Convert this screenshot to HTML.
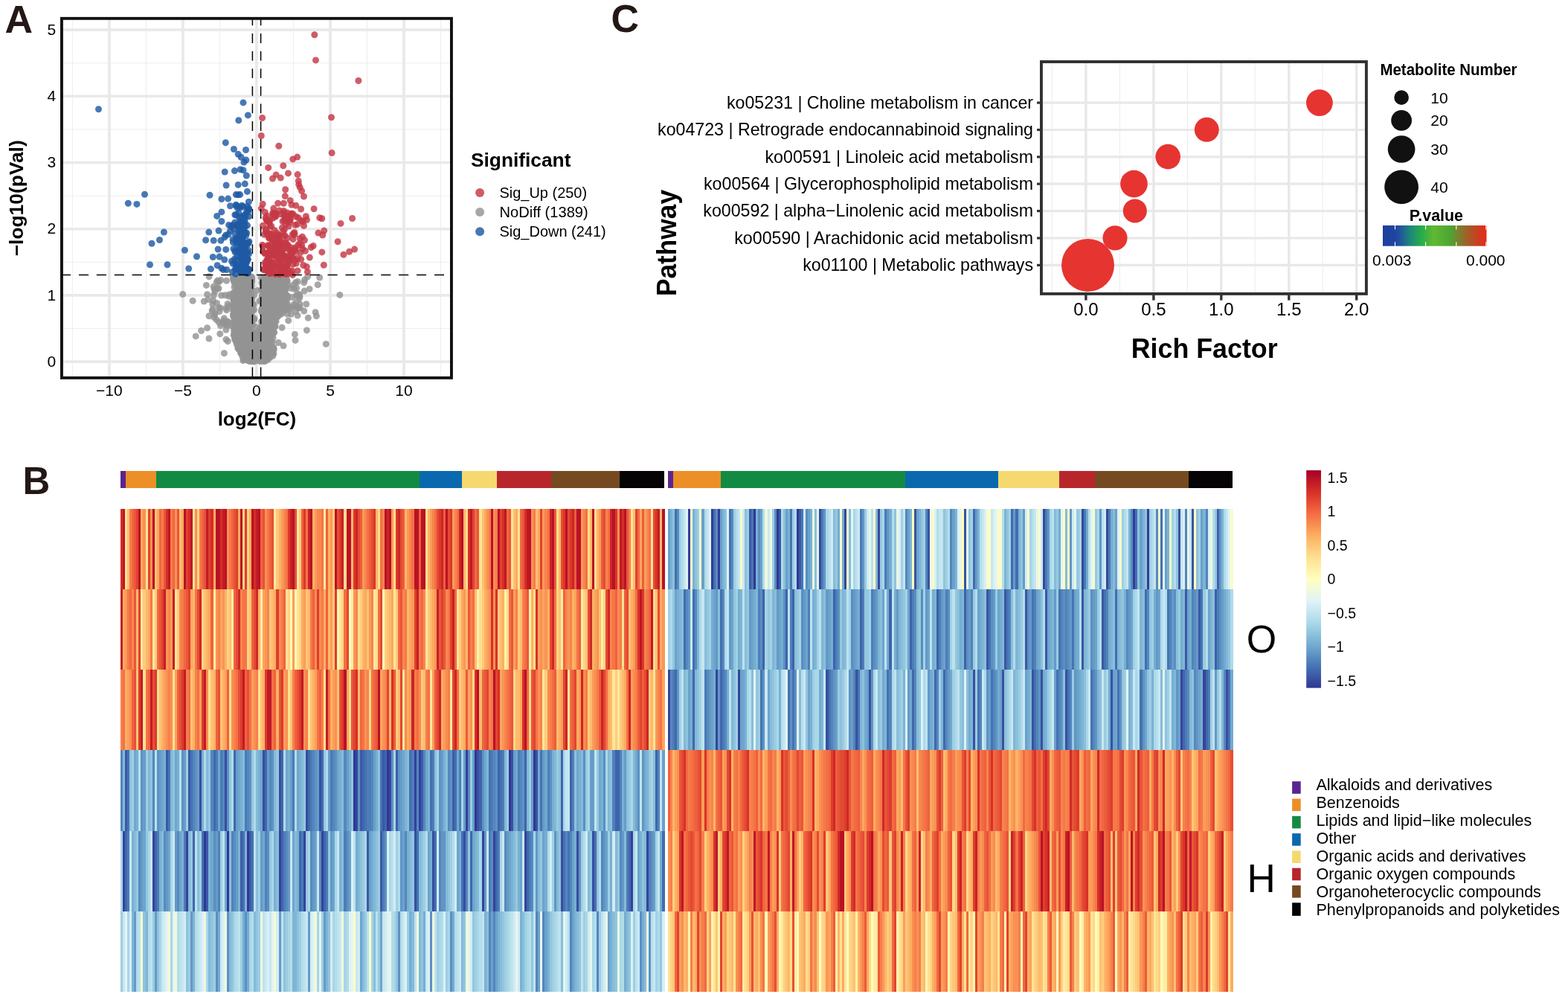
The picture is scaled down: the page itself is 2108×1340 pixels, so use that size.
<!DOCTYPE html>
<html><head><meta charset="utf-8"><title>Figure</title>
<style>html,body{margin:0;padding:0;background:#fff;}body{width:2108px;height:1340px;overflow:hidden;}
svg{display:block;}text{font-family:'Liberation Sans', Arial, sans-serif;}</style></head>
<body><svg width="2108" height="1340" viewBox="0 0 2108 1340">
<rect width="2108" height="1340" fill="#fff"/>
<g id="volcano"><clipPath id="cpA"><rect x="84" y="26" width="522" height="481"/></clipPath><g clip-path="url(#cpA)"><line x1="97.4" y1="26" x2="97.4" y2="507" stroke="#ededed" stroke-width="1"/><line x1="196.4" y1="26" x2="196.4" y2="507" stroke="#ededed" stroke-width="1"/><line x1="295.4" y1="26" x2="295.4" y2="507" stroke="#ededed" stroke-width="1"/><line x1="394.5" y1="26" x2="394.5" y2="507" stroke="#ededed" stroke-width="1"/><line x1="493.5" y1="26" x2="493.5" y2="507" stroke="#ededed" stroke-width="1"/><line x1="592.5" y1="26" x2="592.5" y2="507" stroke="#ededed" stroke-width="1"/><line x1="84" y1="441.5" x2="606" y2="441.5" stroke="#ededed" stroke-width="1"/><line x1="84" y1="352.3" x2="606" y2="352.3" stroke="#ededed" stroke-width="1"/><line x1="84" y1="263.1" x2="606" y2="263.1" stroke="#ededed" stroke-width="1"/><line x1="84" y1="173.9" x2="606" y2="173.9" stroke="#ededed" stroke-width="1"/><line x1="84" y1="84.7" x2="606" y2="84.7" stroke="#ededed" stroke-width="1"/><line x1="146.9" y1="26" x2="146.9" y2="507" stroke="#e9e9e9" stroke-width="3.7"/><line x1="245.9" y1="26" x2="245.9" y2="507" stroke="#e9e9e9" stroke-width="3.7"/><line x1="344.9" y1="26" x2="344.9" y2="507" stroke="#e9e9e9" stroke-width="3.7"/><line x1="444" y1="26" x2="444" y2="507" stroke="#e9e9e9" stroke-width="3.7"/><line x1="543" y1="26" x2="543" y2="507" stroke="#e9e9e9" stroke-width="3.7"/><line x1="84" y1="486.1" x2="606" y2="486.1" stroke="#e9e9e9" stroke-width="3.6"/><line x1="84" y1="396.9" x2="606" y2="396.9" stroke="#e9e9e9" stroke-width="3.6"/><line x1="84" y1="307.7" x2="606" y2="307.7" stroke="#e9e9e9" stroke-width="3.6"/><line x1="84" y1="218.5" x2="606" y2="218.5" stroke="#e9e9e9" stroke-width="3.6"/><line x1="84" y1="129.3" x2="606" y2="129.3" stroke="#e9e9e9" stroke-width="3.6"/><line x1="84" y1="40.1" x2="606" y2="40.1" stroke="#e9e9e9" stroke-width="3.6"/><g fill="#949494" fill-opacity="0.82"><circle cx="336.3" cy="389.3" r="4.5"/><circle cx="360.8" cy="380.3" r="4.5"/><circle cx="352.2" cy="414.1" r="4.5"/><circle cx="316.3" cy="430.4" r="4.5"/><circle cx="314.8" cy="421.9" r="4.5"/><circle cx="317.2" cy="382.4" r="4.5"/><circle cx="343.8" cy="467.1" r="4.5"/><circle cx="321.3" cy="397.7" r="4.5"/><circle cx="359.1" cy="481.0" r="4.5"/><circle cx="355.3" cy="417.6" r="4.5"/><circle cx="385.2" cy="377.4" r="4.5"/><circle cx="376.4" cy="405.3" r="4.5"/><circle cx="322.8" cy="385.5" r="4.5"/><circle cx="335.1" cy="465.9" r="4.5"/><circle cx="325.6" cy="438.9" r="4.5"/><circle cx="359.9" cy="414.8" r="4.5"/><circle cx="353.1" cy="379.2" r="4.5"/><circle cx="316.5" cy="395.7" r="4.5"/><circle cx="363.0" cy="421.2" r="4.5"/><circle cx="335.6" cy="439.3" r="4.5"/><circle cx="364.4" cy="400.1" r="4.5"/><circle cx="355.1" cy="432.4" r="4.5"/><circle cx="333.6" cy="484.7" r="4.5"/><circle cx="320.9" cy="420.1" r="4.5"/><circle cx="368.8" cy="389.5" r="4.5"/><circle cx="369.3" cy="437.9" r="4.5"/><circle cx="377.7" cy="408.1" r="4.5"/><circle cx="364.1" cy="440.4" r="4.5"/><circle cx="355.5" cy="424.5" r="4.5"/><circle cx="347.6" cy="448.4" r="4.5"/><circle cx="316.6" cy="452.7" r="4.5"/><circle cx="373.6" cy="404.7" r="4.5"/><circle cx="340.9" cy="448.9" r="4.5"/><circle cx="313.7" cy="425.1" r="4.5"/><circle cx="324.6" cy="385.5" r="4.5"/><circle cx="321.7" cy="400.5" r="4.5"/><circle cx="341.3" cy="472.2" r="4.5"/><circle cx="318.0" cy="423.7" r="4.5"/><circle cx="353.2" cy="473.6" r="4.5"/><circle cx="332.9" cy="419.8" r="4.5"/><circle cx="338.9" cy="473.7" r="4.5"/><circle cx="383.8" cy="389.4" r="4.5"/><circle cx="325.2" cy="398.7" r="4.5"/><circle cx="329.5" cy="427.8" r="4.5"/><circle cx="356.2" cy="402.2" r="4.5"/><circle cx="339.7" cy="437.1" r="4.5"/><circle cx="363.8" cy="431.3" r="4.5"/><circle cx="358.3" cy="449.8" r="4.5"/><circle cx="371.8" cy="417.1" r="4.5"/><circle cx="316.7" cy="379.7" r="4.5"/><circle cx="327.7" cy="390.7" r="4.5"/><circle cx="337.5" cy="378.0" r="4.5"/><circle cx="319.6" cy="413.8" r="4.5"/><circle cx="358.1" cy="389.1" r="4.5"/><circle cx="330.9" cy="411.9" r="4.5"/><circle cx="337.7" cy="402.4" r="4.5"/><circle cx="374.2" cy="390.6" r="4.5"/><circle cx="351.6" cy="388.9" r="4.5"/><circle cx="352.7" cy="375.1" r="4.5"/><circle cx="351.6" cy="484.5" r="4.5"/><circle cx="331.6" cy="414.2" r="4.5"/><circle cx="324.5" cy="460.8" r="4.5"/><circle cx="351.9" cy="461.6" r="4.5"/><circle cx="336.7" cy="397.6" r="4.5"/><circle cx="329.0" cy="431.5" r="4.5"/><circle cx="338.7" cy="375.3" r="4.5"/><circle cx="314.1" cy="404.1" r="4.5"/><circle cx="331.4" cy="451.6" r="4.5"/><circle cx="383.6" cy="413.9" r="4.5"/><circle cx="328.5" cy="398.1" r="4.5"/><circle cx="326.8" cy="395.5" r="4.5"/><circle cx="358.8" cy="475.5" r="4.5"/><circle cx="361.0" cy="464.0" r="4.5"/><circle cx="318.4" cy="448.0" r="4.5"/><circle cx="368.3" cy="427.0" r="4.5"/><circle cx="325.4" cy="462.8" r="4.5"/><circle cx="336.9" cy="464.1" r="4.5"/><circle cx="342.1" cy="480.9" r="4.5"/><circle cx="366.4" cy="391.6" r="4.5"/><circle cx="321.5" cy="389.4" r="4.5"/><circle cx="323.0" cy="467.0" r="4.5"/><circle cx="338.3" cy="435.1" r="4.5"/><circle cx="321.8" cy="373.6" r="4.5"/><circle cx="351.5" cy="479.4" r="4.5"/><circle cx="344.5" cy="472.3" r="4.5"/><circle cx="374.0" cy="396.3" r="4.5"/><circle cx="330.9" cy="405.7" r="4.5"/><circle cx="330.0" cy="439.4" r="4.5"/><circle cx="331.5" cy="420.2" r="4.5"/><circle cx="338.5" cy="424.7" r="4.5"/><circle cx="355.8" cy="476.0" r="4.5"/><circle cx="343.5" cy="477.5" r="4.5"/><circle cx="313.4" cy="422.6" r="4.5"/><circle cx="325.7" cy="372.5" r="4.5"/><circle cx="371.9" cy="391.8" r="4.5"/><circle cx="347.5" cy="455.4" r="4.5"/><circle cx="353.7" cy="409.5" r="4.5"/><circle cx="320.0" cy="436.4" r="4.5"/><circle cx="330.6" cy="403.8" r="4.5"/><circle cx="369.9" cy="430.4" r="4.5"/><circle cx="354.1" cy="459.4" r="4.5"/><circle cx="357.9" cy="430.1" r="4.5"/><circle cx="350.4" cy="451.7" r="4.5"/><circle cx="331.5" cy="436.3" r="4.5"/><circle cx="322.3" cy="386.0" r="4.5"/><circle cx="317.5" cy="449.0" r="4.5"/><circle cx="323.6" cy="454.4" r="4.5"/><circle cx="361.5" cy="388.4" r="4.5"/><circle cx="328.5" cy="481.5" r="4.5"/><circle cx="341.9" cy="428.0" r="4.5"/><circle cx="374.4" cy="390.6" r="4.5"/><circle cx="326.7" cy="408.6" r="4.5"/><circle cx="366.2" cy="374.2" r="4.5"/><circle cx="353.6" cy="422.7" r="4.5"/><circle cx="313.4" cy="410.1" r="4.5"/><circle cx="358.8" cy="430.9" r="4.5"/><circle cx="319.9" cy="402.5" r="4.5"/><circle cx="332.3" cy="386.9" r="4.5"/><circle cx="343.7" cy="476.8" r="4.5"/><circle cx="373.4" cy="401.7" r="4.5"/><circle cx="354.8" cy="452.5" r="4.5"/><circle cx="318.7" cy="378.6" r="4.5"/><circle cx="363.6" cy="420.9" r="4.5"/><circle cx="359.6" cy="464.2" r="4.5"/><circle cx="381.5" cy="402.8" r="4.5"/><circle cx="321.7" cy="432.6" r="4.5"/><circle cx="329.9" cy="384.6" r="4.5"/><circle cx="324.1" cy="377.8" r="4.5"/><circle cx="327.1" cy="407.9" r="4.5"/><circle cx="334.9" cy="459.3" r="4.5"/><circle cx="333.7" cy="429.5" r="4.5"/><circle cx="325.3" cy="411.9" r="4.5"/><circle cx="313.4" cy="400.8" r="4.5"/><circle cx="353.3" cy="393.8" r="4.5"/><circle cx="347.6" cy="479.5" r="4.5"/><circle cx="320.0" cy="466.2" r="4.5"/><circle cx="385.7" cy="411.4" r="4.5"/><circle cx="359.7" cy="418.5" r="4.5"/><circle cx="338.1" cy="378.3" r="4.5"/><circle cx="321.7" cy="380.1" r="4.5"/><circle cx="367.6" cy="401.4" r="4.5"/><circle cx="324.2" cy="381.7" r="4.5"/><circle cx="362.3" cy="404.4" r="4.5"/><circle cx="330.2" cy="405.7" r="4.5"/><circle cx="331.7" cy="482.6" r="4.5"/><circle cx="330.3" cy="483.1" r="4.5"/><circle cx="335.2" cy="413.0" r="4.5"/><circle cx="318.7" cy="417.9" r="4.5"/><circle cx="315.1" cy="374.6" r="4.5"/><circle cx="334.8" cy="398.8" r="4.5"/><circle cx="355.9" cy="432.9" r="4.5"/><circle cx="368.3" cy="447.6" r="4.5"/><circle cx="365.7" cy="473.1" r="4.5"/><circle cx="341.2" cy="409.5" r="4.5"/><circle cx="323.2" cy="455.3" r="4.5"/><circle cx="360.2" cy="377.0" r="4.5"/><circle cx="359.0" cy="456.4" r="4.5"/><circle cx="372.9" cy="388.0" r="4.5"/><circle cx="355.8" cy="474.7" r="4.5"/><circle cx="363.2" cy="451.7" r="4.5"/><circle cx="329.2" cy="375.6" r="4.5"/><circle cx="322.0" cy="413.5" r="4.5"/><circle cx="319.9" cy="468.1" r="4.5"/><circle cx="353.9" cy="444.2" r="4.5"/><circle cx="359.0" cy="450.3" r="4.5"/><circle cx="368.1" cy="429.8" r="4.5"/><circle cx="352.1" cy="447.8" r="4.5"/><circle cx="317.0" cy="456.7" r="4.5"/><circle cx="330.9" cy="380.6" r="4.5"/><circle cx="331.9" cy="455.9" r="4.5"/><circle cx="327.4" cy="457.1" r="4.5"/><circle cx="360.2" cy="380.9" r="4.5"/><circle cx="323.1" cy="401.2" r="4.5"/><circle cx="367.7" cy="407.0" r="4.5"/><circle cx="354.6" cy="373.4" r="4.5"/><circle cx="316.5" cy="402.9" r="4.5"/><circle cx="362.4" cy="451.6" r="4.5"/><circle cx="362.7" cy="405.4" r="4.5"/><circle cx="326.9" cy="484.5" r="4.5"/><circle cx="382.2" cy="374.0" r="4.5"/><circle cx="346.4" cy="466.3" r="4.5"/><circle cx="332.1" cy="396.1" r="4.5"/><circle cx="382.9" cy="396.2" r="4.5"/><circle cx="355.6" cy="388.3" r="4.5"/><circle cx="351.3" cy="481.6" r="4.5"/><circle cx="321.9" cy="466.3" r="4.5"/><circle cx="350.2" cy="474.0" r="4.5"/><circle cx="364.8" cy="398.6" r="4.5"/><circle cx="313.9" cy="372.4" r="4.5"/><circle cx="322.6" cy="411.6" r="4.5"/><circle cx="335.7" cy="468.6" r="4.5"/><circle cx="374.9" cy="385.8" r="4.5"/><circle cx="379.6" cy="405.3" r="4.5"/><circle cx="339.9" cy="417.2" r="4.5"/><circle cx="356.2" cy="413.5" r="4.5"/><circle cx="333.4" cy="479.6" r="4.5"/><circle cx="330.7" cy="402.6" r="4.5"/><circle cx="353.2" cy="454.8" r="4.5"/><circle cx="315.7" cy="456.2" r="4.5"/><circle cx="345.8" cy="458.6" r="4.5"/><circle cx="360.3" cy="404.9" r="4.5"/><circle cx="321.5" cy="426.3" r="4.5"/><circle cx="337.8" cy="406.2" r="4.5"/><circle cx="331.5" cy="447.4" r="4.5"/><circle cx="334.6" cy="436.1" r="4.5"/><circle cx="327.6" cy="476.2" r="4.5"/><circle cx="322.5" cy="394.1" r="4.5"/><circle cx="318.8" cy="411.3" r="4.5"/><circle cx="318.8" cy="399.5" r="4.5"/><circle cx="331.4" cy="437.5" r="4.5"/><circle cx="332.8" cy="483.3" r="4.5"/><circle cx="321.4" cy="429.9" r="4.5"/><circle cx="359.2" cy="471.2" r="4.5"/><circle cx="328.2" cy="403.2" r="4.5"/><circle cx="330.6" cy="418.0" r="4.5"/><circle cx="345.4" cy="481.7" r="4.5"/><circle cx="313.6" cy="375.7" r="4.5"/><circle cx="365.2" cy="475.0" r="4.5"/><circle cx="341.4" cy="478.6" r="4.5"/><circle cx="384.9" cy="400.6" r="4.5"/><circle cx="320.2" cy="389.8" r="4.5"/><circle cx="351.2" cy="450.4" r="4.5"/><circle cx="360.6" cy="460.0" r="4.5"/><circle cx="370.7" cy="398.7" r="4.5"/><circle cx="334.8" cy="386.7" r="4.5"/><circle cx="330.9" cy="445.2" r="4.5"/><circle cx="364.4" cy="384.9" r="4.5"/><circle cx="317.3" cy="432.3" r="4.5"/><circle cx="355.7" cy="416.6" r="4.5"/><circle cx="328.8" cy="441.1" r="4.5"/><circle cx="346.6" cy="482.3" r="4.5"/><circle cx="360.3" cy="473.6" r="4.5"/><circle cx="335.1" cy="374.5" r="4.5"/><circle cx="349.4" cy="449.6" r="4.5"/><circle cx="381.4" cy="398.1" r="4.5"/><circle cx="314.6" cy="410.9" r="4.5"/><circle cx="343.5" cy="450.5" r="4.5"/><circle cx="326.9" cy="463.7" r="4.5"/><circle cx="367.4" cy="430.1" r="4.5"/><circle cx="327.4" cy="483.5" r="4.5"/><circle cx="335.4" cy="466.3" r="4.5"/><circle cx="329.3" cy="397.5" r="4.5"/><circle cx="369.0" cy="405.9" r="4.5"/><circle cx="326.0" cy="397.7" r="4.5"/><circle cx="343.3" cy="448.5" r="4.5"/><circle cx="383.2" cy="388.8" r="4.5"/><circle cx="341.5" cy="396.5" r="4.5"/><circle cx="322.6" cy="378.0" r="4.5"/><circle cx="316.5" cy="417.2" r="4.5"/><circle cx="381.9" cy="409.9" r="4.5"/><circle cx="325.9" cy="479.6" r="4.5"/><circle cx="368.0" cy="375.7" r="4.5"/><circle cx="361.8" cy="415.5" r="4.5"/><circle cx="338.4" cy="481.9" r="4.5"/><circle cx="327.6" cy="413.0" r="4.5"/><circle cx="340.0" cy="477.7" r="4.5"/><circle cx="326.5" cy="413.9" r="4.5"/><circle cx="379.3" cy="375.5" r="4.5"/><circle cx="342.8" cy="465.4" r="4.5"/><circle cx="369.5" cy="376.7" r="4.5"/><circle cx="314.6" cy="379.2" r="4.5"/><circle cx="381.0" cy="401.6" r="4.5"/><circle cx="368.0" cy="475.3" r="4.5"/><circle cx="337.4" cy="403.3" r="4.5"/><circle cx="331.7" cy="454.4" r="4.5"/><circle cx="335.7" cy="403.7" r="4.5"/><circle cx="382.7" cy="374.8" r="4.5"/><circle cx="329.5" cy="426.6" r="4.5"/><circle cx="349.0" cy="478.7" r="4.5"/><circle cx="325.7" cy="464.3" r="4.5"/><circle cx="367.4" cy="466.6" r="4.5"/><circle cx="336.6" cy="408.7" r="4.5"/><circle cx="339.1" cy="462.0" r="4.5"/><circle cx="317.9" cy="394.7" r="4.5"/><circle cx="368.5" cy="400.4" r="4.5"/><circle cx="316.9" cy="375.9" r="4.5"/><circle cx="353.4" cy="409.5" r="4.5"/><circle cx="386.1" cy="402.5" r="4.5"/><circle cx="318.3" cy="383.1" r="4.5"/><circle cx="349.4" cy="453.6" r="4.5"/><circle cx="358.5" cy="449.5" r="4.5"/><circle cx="368.1" cy="469.4" r="4.5"/><circle cx="361.8" cy="385.9" r="4.5"/><circle cx="375.1" cy="405.8" r="4.5"/><circle cx="354.5" cy="414.9" r="4.5"/><circle cx="367.4" cy="394.9" r="4.5"/><circle cx="330.6" cy="400.2" r="4.5"/><circle cx="323.5" cy="473.7" r="4.5"/><circle cx="355.4" cy="409.5" r="4.5"/><circle cx="341.7" cy="486.1" r="4.5"/><circle cx="319.7" cy="426.6" r="4.5"/><circle cx="380.6" cy="376.6" r="4.5"/><circle cx="334.0" cy="385.7" r="4.5"/><circle cx="355.7" cy="479.0" r="4.5"/><circle cx="339.9" cy="471.6" r="4.5"/><circle cx="382.9" cy="384.2" r="4.5"/><circle cx="356.7" cy="443.3" r="4.5"/><circle cx="328.3" cy="414.4" r="4.5"/><circle cx="322.6" cy="395.5" r="4.5"/><circle cx="331.1" cy="440.9" r="4.5"/><circle cx="360.9" cy="395.4" r="4.5"/><circle cx="362.9" cy="393.3" r="4.5"/><circle cx="335.4" cy="395.4" r="4.5"/><circle cx="316.7" cy="383.7" r="4.5"/><circle cx="318.8" cy="390.8" r="4.5"/><circle cx="364.2" cy="419.1" r="4.5"/><circle cx="333.2" cy="407.4" r="4.5"/><circle cx="383.5" cy="407.9" r="4.5"/><circle cx="354.5" cy="413.1" r="4.5"/><circle cx="343.2" cy="471.4" r="4.5"/><circle cx="386.7" cy="413.8" r="4.5"/><circle cx="326.8" cy="455.7" r="4.5"/><circle cx="327.3" cy="372.7" r="4.5"/><circle cx="379.6" cy="420.7" r="4.5"/><circle cx="373.5" cy="418.7" r="4.5"/><circle cx="324.2" cy="373.7" r="4.5"/><circle cx="353.4" cy="445.7" r="4.5"/><circle cx="380.2" cy="382.2" r="4.5"/><circle cx="358.7" cy="414.6" r="4.5"/><circle cx="351.1" cy="478.4" r="4.5"/><circle cx="320.2" cy="428.4" r="4.5"/><circle cx="326.8" cy="386.6" r="4.5"/><circle cx="341.1" cy="476.0" r="4.5"/><circle cx="358.5" cy="466.8" r="4.5"/><circle cx="324.0" cy="462.4" r="4.5"/><circle cx="328.7" cy="418.5" r="4.5"/><circle cx="325.7" cy="397.1" r="4.5"/><circle cx="321.2" cy="400.4" r="4.5"/><circle cx="366.4" cy="475.2" r="4.5"/><circle cx="315.1" cy="436.7" r="4.5"/><circle cx="368.8" cy="376.4" r="4.5"/><circle cx="374.9" cy="385.5" r="4.5"/><circle cx="357.0" cy="435.3" r="4.5"/><circle cx="359.0" cy="407.2" r="4.5"/><circle cx="361.4" cy="423.4" r="4.5"/><circle cx="370.5" cy="424.7" r="4.5"/><circle cx="325.5" cy="426.4" r="4.5"/><circle cx="320.0" cy="386.8" r="4.5"/><circle cx="318.2" cy="456.4" r="4.5"/><circle cx="370.3" cy="430.8" r="4.5"/><circle cx="316.1" cy="430.0" r="4.5"/><circle cx="340.3" cy="481.3" r="4.5"/><circle cx="322.2" cy="470.6" r="4.5"/><circle cx="373.1" cy="394.3" r="4.5"/><circle cx="324.4" cy="462.7" r="4.5"/><circle cx="381.8" cy="379.5" r="4.5"/><circle cx="338.3" cy="459.0" r="4.5"/><circle cx="323.9" cy="475.1" r="4.5"/><circle cx="332.6" cy="465.8" r="4.5"/><circle cx="322.8" cy="429.8" r="4.5"/><circle cx="381.0" cy="396.0" r="4.5"/><circle cx="331.7" cy="430.2" r="4.5"/><circle cx="335.9" cy="376.2" r="4.5"/><circle cx="325.7" cy="390.5" r="4.5"/><circle cx="379.2" cy="391.4" r="4.5"/><circle cx="370.9" cy="385.2" r="4.5"/><circle cx="351.8" cy="445.2" r="4.5"/><circle cx="339.0" cy="472.4" r="4.5"/><circle cx="353.6" cy="438.7" r="4.5"/><circle cx="378.2" cy="384.0" r="4.5"/><circle cx="341.6" cy="463.7" r="4.5"/><circle cx="355.3" cy="413.4" r="4.5"/><circle cx="369.3" cy="422.9" r="4.5"/><circle cx="325.3" cy="457.5" r="4.5"/><circle cx="331.0" cy="445.5" r="4.5"/><circle cx="361.8" cy="408.0" r="4.5"/><circle cx="323.2" cy="442.8" r="4.5"/><circle cx="321.9" cy="398.1" r="4.5"/><circle cx="361.0" cy="374.6" r="4.5"/><circle cx="320.0" cy="413.1" r="4.5"/><circle cx="328.8" cy="439.1" r="4.5"/><circle cx="356.2" cy="395.5" r="4.5"/><circle cx="358.8" cy="426.6" r="4.5"/><circle cx="330.3" cy="389.2" r="4.5"/><circle cx="319.2" cy="445.4" r="4.5"/><circle cx="360.4" cy="436.7" r="4.5"/><circle cx="338.3" cy="446.2" r="4.5"/><circle cx="345.3" cy="479.8" r="4.5"/><circle cx="367.0" cy="400.6" r="4.5"/><circle cx="379.8" cy="377.1" r="4.5"/><circle cx="351.9" cy="418.7" r="4.5"/><circle cx="329.8" cy="378.7" r="4.5"/><circle cx="370.4" cy="373.4" r="4.5"/><circle cx="353.3" cy="480.2" r="4.5"/><circle cx="322.7" cy="394.9" r="4.5"/><circle cx="357.6" cy="430.3" r="4.5"/><circle cx="360.1" cy="465.5" r="4.5"/><circle cx="325.1" cy="407.6" r="4.5"/><circle cx="334.5" cy="377.6" r="4.5"/><circle cx="365.7" cy="372.7" r="4.5"/><circle cx="346.9" cy="457.3" r="4.5"/><circle cx="329.4" cy="376.5" r="4.5"/><circle cx="337.2" cy="458.2" r="4.5"/><circle cx="364.1" cy="469.2" r="4.5"/><circle cx="365.4" cy="402.6" r="4.5"/><circle cx="353.5" cy="422.1" r="4.5"/><circle cx="371.1" cy="432.2" r="4.5"/><circle cx="331.9" cy="445.8" r="4.5"/><circle cx="384.4" cy="397.0" r="4.5"/><circle cx="378.0" cy="373.8" r="4.5"/><circle cx="331.5" cy="399.2" r="4.5"/><circle cx="368.0" cy="409.6" r="4.5"/><circle cx="378.0" cy="409.8" r="4.5"/><circle cx="329.9" cy="476.4" r="4.5"/><circle cx="359.3" cy="451.7" r="4.5"/><circle cx="347.2" cy="468.6" r="4.5"/><circle cx="364.3" cy="470.6" r="4.5"/><circle cx="344.8" cy="455.3" r="4.5"/><circle cx="354.8" cy="407.4" r="4.5"/><circle cx="327.9" cy="443.6" r="4.5"/><circle cx="322.8" cy="375.1" r="4.5"/><circle cx="337.9" cy="388.3" r="4.5"/><circle cx="314.2" cy="376.8" r="4.5"/><circle cx="363.9" cy="444.9" r="4.5"/><circle cx="364.3" cy="456.7" r="4.5"/><circle cx="316.9" cy="439.9" r="4.5"/><circle cx="339.3" cy="466.0" r="4.5"/><circle cx="320.0" cy="395.7" r="4.5"/><circle cx="320.4" cy="376.0" r="4.5"/><circle cx="359.6" cy="466.9" r="4.5"/><circle cx="359.4" cy="405.0" r="4.5"/><circle cx="319.5" cy="383.3" r="4.5"/><circle cx="368.8" cy="395.6" r="4.5"/><circle cx="335.9" cy="420.7" r="4.5"/><circle cx="313.6" cy="401.5" r="4.5"/><circle cx="333.2" cy="454.3" r="4.5"/><circle cx="339.6" cy="408.9" r="4.5"/><circle cx="349.8" cy="469.9" r="4.5"/><circle cx="358.4" cy="375.6" r="4.5"/><circle cx="338.0" cy="453.0" r="4.5"/><circle cx="352.3" cy="396.9" r="4.5"/><circle cx="376.7" cy="382.5" r="4.5"/><circle cx="373.5" cy="391.6" r="4.5"/><circle cx="348.9" cy="463.6" r="4.5"/><circle cx="325.8" cy="428.9" r="4.5"/><circle cx="338.0" cy="467.7" r="4.5"/><circle cx="331.5" cy="480.5" r="4.5"/><circle cx="333.3" cy="396.7" r="4.5"/><circle cx="364.5" cy="429.3" r="4.5"/><circle cx="320.2" cy="445.2" r="4.5"/><circle cx="318.1" cy="462.6" r="4.5"/><circle cx="364.3" cy="462.5" r="4.5"/><circle cx="359.1" cy="412.9" r="4.5"/><circle cx="313.9" cy="395.7" r="4.5"/><circle cx="331.7" cy="475.6" r="4.5"/><circle cx="329.5" cy="425.0" r="4.5"/><circle cx="351.9" cy="458.8" r="4.5"/><circle cx="368.5" cy="446.3" r="4.5"/><circle cx="338.1" cy="409.6" r="4.5"/><circle cx="323.6" cy="469.0" r="4.5"/><circle cx="361.7" cy="457.3" r="4.5"/><circle cx="324.7" cy="422.5" r="4.5"/><circle cx="370.0" cy="438.6" r="4.5"/><circle cx="321.5" cy="425.1" r="4.5"/><circle cx="378.4" cy="399.4" r="4.5"/><circle cx="326.4" cy="406.7" r="4.5"/><circle cx="364.7" cy="469.0" r="4.5"/><circle cx="323.6" cy="389.9" r="4.5"/><circle cx="330.6" cy="409.6" r="4.5"/><circle cx="366.7" cy="383.7" r="4.5"/><circle cx="384.2" cy="383.7" r="4.5"/><circle cx="340.8" cy="485.1" r="4.5"/><circle cx="320.0" cy="395.7" r="4.5"/><circle cx="349.5" cy="444.7" r="4.5"/><circle cx="342.4" cy="457.2" r="4.5"/><circle cx="355.0" cy="458.1" r="4.5"/><circle cx="364.5" cy="470.0" r="4.5"/><circle cx="363.0" cy="445.8" r="4.5"/><circle cx="319.3" cy="420.3" r="4.5"/><circle cx="359.2" cy="400.8" r="4.5"/><circle cx="342.7" cy="449.7" r="4.5"/><circle cx="381.8" cy="393.1" r="4.5"/><circle cx="361.1" cy="461.5" r="4.5"/><circle cx="341.2" cy="428.3" r="4.5"/><circle cx="314.9" cy="434.5" r="4.5"/><circle cx="324.1" cy="461.9" r="4.5"/><circle cx="319.6" cy="438.1" r="4.5"/><circle cx="352.6" cy="454.5" r="4.5"/><circle cx="350.4" cy="445.5" r="4.5"/><circle cx="342.8" cy="481.0" r="4.5"/><circle cx="327.8" cy="450.7" r="4.5"/><circle cx="341.4" cy="459.7" r="4.5"/><circle cx="338.7" cy="378.5" r="4.5"/><circle cx="332.6" cy="418.0" r="4.5"/><circle cx="343.5" cy="452.3" r="4.5"/><circle cx="338.4" cy="402.5" r="4.5"/><circle cx="328.8" cy="457.3" r="4.5"/><circle cx="328.4" cy="464.2" r="4.5"/><circle cx="359.6" cy="426.0" r="4.5"/><circle cx="354.2" cy="398.0" r="4.5"/><circle cx="384.3" cy="412.6" r="4.5"/><circle cx="359.9" cy="466.2" r="4.5"/><circle cx="373.2" cy="425.8" r="4.5"/><circle cx="334.1" cy="435.1" r="4.5"/><circle cx="321.4" cy="467.9" r="4.5"/><circle cx="338.6" cy="469.8" r="4.5"/><circle cx="332.1" cy="415.3" r="4.5"/><circle cx="331.0" cy="421.0" r="4.5"/><circle cx="325.9" cy="372.3" r="4.5"/><circle cx="366.1" cy="404.3" r="4.5"/><circle cx="330.4" cy="406.7" r="4.5"/><circle cx="361.4" cy="413.7" r="4.5"/><circle cx="322.5" cy="467.6" r="4.5"/><circle cx="359.5" cy="373.7" r="4.5"/><circle cx="361.2" cy="400.8" r="4.5"/><circle cx="319.6" cy="388.4" r="4.5"/><circle cx="329.5" cy="461.3" r="4.5"/><circle cx="338.0" cy="389.6" r="4.5"/><circle cx="324.6" cy="474.5" r="4.5"/><circle cx="357.6" cy="461.8" r="4.5"/><circle cx="362.1" cy="474.8" r="4.5"/><circle cx="326.8" cy="451.7" r="4.5"/><circle cx="351.8" cy="457.3" r="4.5"/><circle cx="344.9" cy="473.5" r="4.5"/><circle cx="353.6" cy="402.4" r="4.5"/><circle cx="329.6" cy="388.0" r="4.5"/><circle cx="322.8" cy="428.5" r="4.5"/><circle cx="375.0" cy="415.1" r="4.5"/><circle cx="343.4" cy="482.5" r="4.5"/><circle cx="317.7" cy="445.3" r="4.5"/><circle cx="359.7" cy="375.3" r="4.5"/><circle cx="357.7" cy="450.5" r="4.5"/><circle cx="381.9" cy="410.0" r="4.5"/><circle cx="348.4" cy="475.2" r="4.5"/><circle cx="358.9" cy="410.9" r="4.5"/><circle cx="376.6" cy="414.1" r="4.5"/><circle cx="327.8" cy="422.0" r="4.5"/><circle cx="334.0" cy="467.2" r="4.5"/><circle cx="350.0" cy="484.1" r="4.5"/><circle cx="361.1" cy="463.1" r="4.5"/><circle cx="336.8" cy="408.5" r="4.5"/><circle cx="334.4" cy="439.4" r="4.5"/><circle cx="359.6" cy="462.2" r="4.5"/><circle cx="315.7" cy="406.5" r="4.5"/><circle cx="361.4" cy="462.7" r="4.5"/><circle cx="358.3" cy="444.1" r="4.5"/><circle cx="364.2" cy="440.6" r="4.5"/><circle cx="363.1" cy="396.4" r="4.5"/><circle cx="362.0" cy="424.7" r="4.5"/><circle cx="369.2" cy="383.7" r="4.5"/><circle cx="325.6" cy="376.3" r="4.5"/><circle cx="361.2" cy="414.4" r="4.5"/><circle cx="354.2" cy="401.7" r="4.5"/><circle cx="334.7" cy="420.5" r="4.5"/><circle cx="335.9" cy="421.5" r="4.5"/><circle cx="360.1" cy="479.4" r="4.5"/><circle cx="316.1" cy="437.3" r="4.5"/><circle cx="315.0" cy="385.7" r="4.5"/><circle cx="313.1" cy="416.5" r="4.5"/><circle cx="356.4" cy="479.8" r="4.5"/><circle cx="327.9" cy="389.5" r="4.5"/><circle cx="313.2" cy="372.6" r="4.5"/><circle cx="363.3" cy="386.0" r="4.5"/><circle cx="384.5" cy="382.1" r="4.5"/><circle cx="377.2" cy="386.8" r="4.5"/><circle cx="330.2" cy="456.4" r="4.5"/><circle cx="326.1" cy="377.8" r="4.5"/><circle cx="318.3" cy="444.3" r="4.5"/><circle cx="365.2" cy="425.0" r="4.5"/><circle cx="381.9" cy="401.2" r="4.5"/><circle cx="360.8" cy="466.0" r="4.5"/><circle cx="318.0" cy="407.8" r="4.5"/><circle cx="366.7" cy="391.1" r="4.5"/><circle cx="316.5" cy="414.3" r="4.5"/><circle cx="355.1" cy="422.5" r="4.5"/><circle cx="362.8" cy="388.7" r="4.5"/><circle cx="371.8" cy="413.8" r="4.5"/><circle cx="360.4" cy="444.4" r="4.5"/><circle cx="354.5" cy="405.6" r="4.5"/><circle cx="364.7" cy="467.2" r="4.5"/><circle cx="336.9" cy="441.7" r="4.5"/><circle cx="357.1" cy="407.5" r="4.5"/><circle cx="344.1" cy="474.1" r="4.5"/><circle cx="340.3" cy="450.8" r="4.5"/><circle cx="357.1" cy="475.1" r="4.5"/><circle cx="372.6" cy="404.6" r="4.5"/><circle cx="378.6" cy="376.9" r="4.5"/><circle cx="332.5" cy="469.9" r="4.5"/><circle cx="380.5" cy="411.9" r="4.5"/><circle cx="318.4" cy="435.7" r="4.5"/><circle cx="371.8" cy="395.0" r="4.5"/><circle cx="329.6" cy="441.8" r="4.5"/><circle cx="362.8" cy="425.5" r="4.5"/><circle cx="327.5" cy="401.3" r="4.5"/><circle cx="369.9" cy="398.8" r="4.5"/><circle cx="355.5" cy="475.1" r="4.5"/><circle cx="326.4" cy="392.8" r="4.5"/><circle cx="364.6" cy="413.7" r="4.5"/><circle cx="354.3" cy="418.3" r="4.5"/><circle cx="386.8" cy="415.0" r="4.5"/><circle cx="320.0" cy="444.8" r="4.5"/><circle cx="371.1" cy="390.0" r="4.5"/><circle cx="356.8" cy="411.7" r="4.5"/><circle cx="370.4" cy="421.0" r="4.5"/><circle cx="331.0" cy="376.4" r="4.5"/><circle cx="327.1" cy="392.8" r="4.5"/><circle cx="318.3" cy="377.9" r="4.5"/><circle cx="353.8" cy="472.1" r="4.5"/><circle cx="346.4" cy="480.9" r="4.5"/><circle cx="380.2" cy="379.4" r="4.5"/><circle cx="356.9" cy="417.7" r="4.5"/><circle cx="331.3" cy="436.9" r="4.5"/><circle cx="360.0" cy="482.0" r="4.5"/><circle cx="362.2" cy="417.2" r="4.5"/><circle cx="345.6" cy="390.4" r="4.5"/><circle cx="386.4" cy="397.5" r="4.5"/><circle cx="314.9" cy="401.4" r="4.5"/><circle cx="338.4" cy="475.8" r="4.5"/><circle cx="365.2" cy="446.4" r="4.5"/><circle cx="385.9" cy="378.4" r="4.5"/><circle cx="322.9" cy="458.8" r="4.5"/><circle cx="334.4" cy="440.0" r="4.5"/><circle cx="368.8" cy="384.1" r="4.5"/><circle cx="336.3" cy="401.6" r="4.5"/><circle cx="321.3" cy="427.4" r="4.5"/><circle cx="324.6" cy="399.4" r="4.5"/><circle cx="322.7" cy="449.9" r="4.5"/><circle cx="326.6" cy="376.1" r="4.5"/><circle cx="381.6" cy="397.4" r="4.5"/><circle cx="378.7" cy="388.1" r="4.5"/><circle cx="347.8" cy="444.2" r="4.5"/><circle cx="322.7" cy="397.5" r="4.5"/><circle cx="316.3" cy="454.1" r="4.5"/><circle cx="353.5" cy="388.6" r="4.5"/><circle cx="377.3" cy="402.6" r="4.5"/><circle cx="375.0" cy="410.5" r="4.5"/><circle cx="324.6" cy="428.5" r="4.5"/><circle cx="335.9" cy="475.9" r="4.5"/><circle cx="362.1" cy="396.3" r="4.5"/><circle cx="327.1" cy="413.9" r="4.5"/><circle cx="381.4" cy="383.2" r="4.5"/><circle cx="333.7" cy="475.1" r="4.5"/><circle cx="316.3" cy="455.5" r="4.5"/><circle cx="334.0" cy="484.5" r="4.5"/><circle cx="337.6" cy="388.1" r="4.5"/><circle cx="380.4" cy="397.1" r="4.5"/><circle cx="354.9" cy="387.9" r="4.5"/><circle cx="325.5" cy="460.6" r="4.5"/><circle cx="365.4" cy="394.6" r="4.5"/><circle cx="317.9" cy="382.1" r="4.5"/><circle cx="357.6" cy="429.0" r="4.5"/><circle cx="332.5" cy="395.7" r="4.5"/><circle cx="357.9" cy="453.4" r="4.5"/><circle cx="327.2" cy="379.6" r="4.5"/><circle cx="367.0" cy="418.9" r="4.5"/><circle cx="366.1" cy="378.4" r="4.5"/><circle cx="372.8" cy="410.6" r="4.5"/><circle cx="347.7" cy="472.3" r="4.5"/><circle cx="332.0" cy="393.4" r="4.5"/><circle cx="374.4" cy="414.2" r="4.5"/><circle cx="324.3" cy="414.7" r="4.5"/><circle cx="356.6" cy="372.5" r="4.5"/><circle cx="321.1" cy="454.2" r="4.5"/><circle cx="336.1" cy="453.8" r="4.5"/><circle cx="340.6" cy="458.4" r="4.5"/><circle cx="328.8" cy="393.0" r="4.5"/><circle cx="319.7" cy="400.8" r="4.5"/><circle cx="373.3" cy="375.5" r="4.5"/><circle cx="319.2" cy="452.4" r="4.5"/><circle cx="326.6" cy="374.0" r="4.5"/><circle cx="357.0" cy="438.3" r="4.5"/><circle cx="351.2" cy="452.8" r="4.5"/><circle cx="365.8" cy="377.2" r="4.5"/><circle cx="321.2" cy="428.8" r="4.5"/><circle cx="376.6" cy="388.9" r="4.5"/><circle cx="355.0" cy="457.9" r="4.5"/><circle cx="324.3" cy="467.0" r="4.5"/><circle cx="382.3" cy="416.7" r="4.5"/><circle cx="343.5" cy="468.6" r="4.5"/><circle cx="351.4" cy="417.5" r="4.5"/><circle cx="370.3" cy="410.9" r="4.5"/><circle cx="330.0" cy="410.5" r="4.5"/><circle cx="344.7" cy="484.8" r="4.5"/><circle cx="316.0" cy="431.5" r="4.5"/><circle cx="330.7" cy="420.5" r="4.5"/><circle cx="359.5" cy="413.9" r="4.5"/><circle cx="351.8" cy="380.0" r="4.5"/><circle cx="359.5" cy="465.1" r="4.5"/><circle cx="314.6" cy="445.8" r="4.5"/><circle cx="331.9" cy="450.0" r="4.5"/><circle cx="332.5" cy="434.4" r="4.5"/><circle cx="330.8" cy="431.8" r="4.5"/><circle cx="344.5" cy="481.3" r="4.5"/><circle cx="333.6" cy="407.1" r="4.5"/><circle cx="360.6" cy="385.8" r="4.5"/><circle cx="356.6" cy="481.9" r="4.5"/><circle cx="352.0" cy="389.1" r="4.5"/><circle cx="321.3" cy="387.1" r="4.5"/><circle cx="334.0" cy="418.8" r="4.5"/><circle cx="333.6" cy="400.0" r="4.5"/><circle cx="318.6" cy="434.8" r="4.5"/><circle cx="354.8" cy="446.8" r="4.5"/><circle cx="327.1" cy="453.7" r="4.5"/><circle cx="328.6" cy="430.9" r="4.5"/><circle cx="338.4" cy="471.1" r="4.5"/><circle cx="329.9" cy="436.0" r="4.5"/><circle cx="348.9" cy="404.8" r="4.5"/><circle cx="334.2" cy="460.8" r="4.5"/><circle cx="323.9" cy="379.7" r="4.5"/><circle cx="377.3" cy="422.6" r="4.5"/><circle cx="316.7" cy="416.6" r="4.5"/><circle cx="345.0" cy="456.6" r="4.5"/><circle cx="320.2" cy="397.9" r="4.5"/><circle cx="323.6" cy="410.8" r="4.5"/><circle cx="338.4" cy="449.7" r="4.5"/><circle cx="358.2" cy="469.7" r="4.5"/><circle cx="369.0" cy="426.7" r="4.5"/><circle cx="380.6" cy="386.6" r="4.5"/><circle cx="377.3" cy="372.5" r="4.5"/><circle cx="369.4" cy="439.4" r="4.5"/><circle cx="349.3" cy="482.7" r="4.5"/><circle cx="354.9" cy="420.1" r="4.5"/><circle cx="357.6" cy="415.6" r="4.5"/><circle cx="334.0" cy="416.9" r="4.5"/><circle cx="353.7" cy="416.2" r="4.5"/><circle cx="336.1" cy="462.5" r="4.5"/><circle cx="322.9" cy="438.2" r="4.5"/><circle cx="355.6" cy="382.1" r="4.5"/><circle cx="381.0" cy="409.2" r="4.5"/><circle cx="383.9" cy="395.5" r="4.5"/><circle cx="344.0" cy="476.7" r="4.5"/><circle cx="354.4" cy="429.2" r="4.5"/><circle cx="338.3" cy="481.0" r="4.5"/><circle cx="362.7" cy="432.4" r="4.5"/><circle cx="319.4" cy="415.1" r="4.5"/><circle cx="386.7" cy="411.5" r="4.5"/><circle cx="351.8" cy="465.8" r="4.5"/><circle cx="324.8" cy="408.6" r="4.5"/><circle cx="363.7" cy="466.4" r="4.5"/><circle cx="325.7" cy="444.5" r="4.5"/><circle cx="357.2" cy="412.6" r="4.5"/><circle cx="315.2" cy="419.3" r="4.5"/><circle cx="371.1" cy="407.3" r="4.5"/><circle cx="363.8" cy="372.5" r="4.5"/><circle cx="334.8" cy="468.8" r="4.5"/><circle cx="356.0" cy="448.8" r="4.5"/><circle cx="326.7" cy="429.3" r="4.5"/><circle cx="353.5" cy="402.6" r="4.5"/><circle cx="360.5" cy="433.1" r="4.5"/><circle cx="369.0" cy="384.3" r="4.5"/><circle cx="319.5" cy="391.6" r="4.5"/><circle cx="351.2" cy="466.7" r="4.5"/><circle cx="358.0" cy="464.8" r="4.5"/><circle cx="316.7" cy="373.4" r="4.5"/><circle cx="369.8" cy="409.1" r="4.5"/><circle cx="365.7" cy="412.7" r="4.5"/><circle cx="324.7" cy="402.7" r="4.5"/><circle cx="355.7" cy="412.1" r="4.5"/><circle cx="358.5" cy="400.7" r="4.5"/><circle cx="376.1" cy="408.2" r="4.5"/><circle cx="334.8" cy="441.3" r="4.5"/><circle cx="383.2" cy="399.9" r="4.5"/><circle cx="341.2" cy="454.6" r="4.5"/><circle cx="328.6" cy="407.6" r="4.5"/><circle cx="371.5" cy="400.0" r="4.5"/><circle cx="325.0" cy="413.2" r="4.5"/><circle cx="333.8" cy="436.6" r="4.5"/><circle cx="320.6" cy="433.4" r="4.5"/><circle cx="321.2" cy="467.0" r="4.5"/><circle cx="338.3" cy="400.2" r="4.5"/><circle cx="326.3" cy="404.6" r="4.5"/><circle cx="329.8" cy="376.0" r="4.5"/><circle cx="361.8" cy="411.3" r="4.5"/><circle cx="323.7" cy="453.2" r="4.5"/><circle cx="318.9" cy="403.0" r="4.5"/><circle cx="374.6" cy="386.7" r="4.5"/><circle cx="345.2" cy="468.2" r="4.5"/><circle cx="372.4" cy="390.3" r="4.5"/><circle cx="338.5" cy="455.1" r="4.5"/><circle cx="340.3" cy="482.2" r="4.5"/><circle cx="327.6" cy="481.4" r="4.5"/><circle cx="321.8" cy="453.2" r="4.5"/><circle cx="331.6" cy="475.5" r="4.5"/><circle cx="356.1" cy="414.3" r="4.5"/><circle cx="330.5" cy="441.9" r="4.5"/><circle cx="327.9" cy="472.3" r="4.5"/><circle cx="321.2" cy="431.0" r="4.5"/><circle cx="352.7" cy="403.1" r="4.5"/><circle cx="369.9" cy="416.3" r="4.5"/><circle cx="361.3" cy="437.3" r="4.5"/><circle cx="335.3" cy="416.8" r="4.5"/><circle cx="318.5" cy="392.4" r="4.5"/><circle cx="375.8" cy="408.9" r="4.5"/><circle cx="361.7" cy="384.5" r="4.5"/><circle cx="354.1" cy="413.6" r="4.5"/><circle cx="335.3" cy="398.0" r="4.5"/><circle cx="321.5" cy="454.4" r="4.5"/><circle cx="333.2" cy="418.4" r="4.5"/><circle cx="321.9" cy="403.8" r="4.5"/><circle cx="314.2" cy="450.2" r="4.5"/><circle cx="361.8" cy="412.4" r="4.5"/><circle cx="342.9" cy="447.8" r="4.5"/><circle cx="364.4" cy="400.6" r="4.5"/><circle cx="375.5" cy="412.5" r="4.5"/><circle cx="359.2" cy="392.9" r="4.5"/><circle cx="367.1" cy="453.9" r="4.5"/><circle cx="315.0" cy="376.6" r="4.5"/><circle cx="324.2" cy="394.8" r="4.5"/><circle cx="334.7" cy="415.8" r="4.5"/><circle cx="314.9" cy="407.8" r="4.5"/><circle cx="359.9" cy="392.7" r="4.5"/><circle cx="365.7" cy="401.3" r="4.5"/><circle cx="344.6" cy="450.7" r="4.5"/><circle cx="338.2" cy="372.1" r="4.5"/><circle cx="333.5" cy="376.9" r="4.5"/><circle cx="315.6" cy="400.1" r="4.5"/><circle cx="320.3" cy="463.0" r="4.5"/><circle cx="327.8" cy="477.2" r="4.5"/><circle cx="368.2" cy="381.9" r="4.5"/><circle cx="364.1" cy="417.3" r="4.5"/><circle cx="333.1" cy="382.3" r="4.5"/><circle cx="367.4" cy="467.4" r="4.5"/><circle cx="359.1" cy="424.1" r="4.5"/><circle cx="316.1" cy="452.3" r="4.5"/><circle cx="321.6" cy="459.6" r="4.5"/><circle cx="315.3" cy="452.8" r="4.5"/><circle cx="372.4" cy="402.0" r="4.5"/><circle cx="353.0" cy="483.5" r="4.5"/><circle cx="359.8" cy="434.6" r="4.5"/><circle cx="330.7" cy="378.8" r="4.5"/><circle cx="338.8" cy="419.3" r="4.5"/><circle cx="327.1" cy="407.7" r="4.5"/><circle cx="322.2" cy="453.3" r="4.5"/><circle cx="362.3" cy="399.4" r="4.5"/><circle cx="330.1" cy="431.3" r="4.5"/><circle cx="345.4" cy="479.6" r="4.5"/><circle cx="338.4" cy="406.4" r="4.5"/><circle cx="378.4" cy="388.3" r="4.5"/><circle cx="354.2" cy="410.4" r="4.5"/><circle cx="369.0" cy="391.5" r="4.5"/><circle cx="362.0" cy="440.8" r="4.5"/><circle cx="346.6" cy="460.1" r="4.5"/><circle cx="374.3" cy="385.2" r="4.5"/><circle cx="333.7" cy="413.5" r="4.5"/><circle cx="327.5" cy="378.9" r="4.5"/><circle cx="333.1" cy="394.7" r="4.5"/><circle cx="364.6" cy="423.5" r="4.5"/><circle cx="320.5" cy="409.3" r="4.5"/><circle cx="317.4" cy="373.2" r="4.5"/><circle cx="318.3" cy="454.5" r="4.5"/><circle cx="320.2" cy="428.2" r="4.5"/><circle cx="360.3" cy="444.2" r="4.5"/><circle cx="330.9" cy="400.3" r="4.5"/><circle cx="322.4" cy="375.2" r="4.5"/><circle cx="334.2" cy="393.4" r="4.5"/><circle cx="359.9" cy="469.3" r="4.5"/><circle cx="381.5" cy="391.4" r="4.5"/><circle cx="367.7" cy="409.6" r="4.5"/><circle cx="325.8" cy="466.9" r="4.5"/><circle cx="336.0" cy="414.4" r="4.5"/><circle cx="353.3" cy="414.5" r="4.5"/><circle cx="374.4" cy="399.5" r="4.5"/><circle cx="315.1" cy="437.2" r="4.5"/><circle cx="359.1" cy="466.3" r="4.5"/><circle cx="364.9" cy="476.1" r="4.5"/><circle cx="355.6" cy="381.2" r="4.5"/><circle cx="363.6" cy="390.8" r="4.5"/><circle cx="345.2" cy="483.5" r="4.5"/><circle cx="318.7" cy="376.6" r="4.5"/><circle cx="344.9" cy="448.6" r="4.5"/><circle cx="324.3" cy="406.0" r="4.5"/><circle cx="326.7" cy="381.8" r="4.5"/><circle cx="336.3" cy="425.0" r="4.5"/><circle cx="372.8" cy="378.9" r="4.5"/><circle cx="362.7" cy="442.1" r="4.5"/><circle cx="334.3" cy="437.7" r="4.5"/><circle cx="360.6" cy="406.4" r="4.5"/><circle cx="337.8" cy="473.8" r="4.5"/><circle cx="314.1" cy="393.7" r="4.5"/><circle cx="362.9" cy="423.4" r="4.5"/><circle cx="318.4" cy="448.0" r="4.5"/><circle cx="351.7" cy="437.0" r="4.5"/><circle cx="331.0" cy="382.9" r="4.5"/><circle cx="351.8" cy="400.9" r="4.5"/><circle cx="355.0" cy="385.0" r="4.5"/><circle cx="365.6" cy="459.0" r="4.5"/><circle cx="366.1" cy="383.7" r="4.5"/><circle cx="374.3" cy="417.1" r="4.5"/><circle cx="354.2" cy="461.1" r="4.5"/><circle cx="322.3" cy="461.3" r="4.5"/><circle cx="316.3" cy="399.2" r="4.5"/><circle cx="328.0" cy="406.5" r="4.5"/><circle cx="365.1" cy="421.0" r="4.5"/><circle cx="324.6" cy="457.7" r="4.5"/><circle cx="337.6" cy="459.8" r="4.5"/><circle cx="363.0" cy="466.9" r="4.5"/><circle cx="321.2" cy="414.9" r="4.5"/><circle cx="366.1" cy="377.0" r="4.5"/><circle cx="357.3" cy="383.5" r="4.5"/><circle cx="353.2" cy="464.3" r="4.5"/><circle cx="362.6" cy="401.3" r="4.5"/><circle cx="326.5" cy="423.4" r="4.5"/><circle cx="320.5" cy="374.4" r="4.5"/><circle cx="320.3" cy="464.1" r="4.5"/><circle cx="325.9" cy="435.7" r="4.5"/><circle cx="333.8" cy="451.0" r="4.5"/><circle cx="352.4" cy="451.3" r="4.5"/><circle cx="313.0" cy="411.4" r="4.5"/><circle cx="323.3" cy="429.7" r="4.5"/><circle cx="314.7" cy="393.0" r="4.5"/><circle cx="375.4" cy="417.2" r="4.5"/><circle cx="317.7" cy="409.9" r="4.5"/><circle cx="328.2" cy="474.8" r="4.5"/><circle cx="356.2" cy="377.0" r="4.5"/><circle cx="324.7" cy="413.5" r="4.5"/><circle cx="338.5" cy="372.7" r="4.5"/><circle cx="355.4" cy="410.4" r="4.5"/><circle cx="313.5" cy="424.8" r="4.5"/><circle cx="386.0" cy="377.2" r="4.5"/><circle cx="322.9" cy="449.2" r="4.5"/><circle cx="332.5" cy="403.4" r="4.5"/><circle cx="351.6" cy="482.1" r="4.5"/><circle cx="354.0" cy="460.7" r="4.5"/><circle cx="359.5" cy="445.0" r="4.5"/><circle cx="363.1" cy="407.0" r="4.5"/><circle cx="350.2" cy="445.0" r="4.5"/><circle cx="338.3" cy="435.3" r="4.5"/><circle cx="336.2" cy="485.7" r="4.5"/><circle cx="329.6" cy="412.2" r="4.5"/><circle cx="322.2" cy="372.8" r="4.5"/><circle cx="324.7" cy="379.6" r="4.5"/><circle cx="334.6" cy="407.5" r="4.5"/><circle cx="366.5" cy="435.4" r="4.5"/><circle cx="382.3" cy="411.2" r="4.5"/><circle cx="318.0" cy="392.6" r="4.5"/><circle cx="355.5" cy="485.6" r="4.5"/><circle cx="338.8" cy="461.1" r="4.5"/><circle cx="344.1" cy="471.9" r="4.5"/><circle cx="317.1" cy="427.7" r="4.5"/><circle cx="379.4" cy="403.7" r="4.5"/><circle cx="331.3" cy="374.7" r="4.5"/><circle cx="324.3" cy="402.8" r="4.5"/><circle cx="364.8" cy="397.1" r="4.5"/><circle cx="326.8" cy="456.4" r="4.5"/><circle cx="377.7" cy="411.2" r="4.5"/><circle cx="322.2" cy="393.6" r="4.5"/><circle cx="352.3" cy="472.7" r="4.5"/><circle cx="360.0" cy="478.1" r="4.5"/><circle cx="327.9" cy="409.6" r="4.5"/><circle cx="368.2" cy="446.6" r="4.5"/><circle cx="342.4" cy="450.1" r="4.5"/><circle cx="337.3" cy="378.6" r="4.5"/><circle cx="337.1" cy="428.9" r="4.5"/><circle cx="356.8" cy="401.6" r="4.5"/><circle cx="354.3" cy="485.6" r="4.5"/><circle cx="316.2" cy="442.6" r="4.5"/><circle cx="366.3" cy="409.9" r="4.5"/><circle cx="319.0" cy="390.0" r="4.5"/><circle cx="322.7" cy="460.2" r="4.5"/><circle cx="353.6" cy="447.6" r="4.5"/><circle cx="357.1" cy="410.0" r="4.5"/><circle cx="367.6" cy="401.7" r="4.5"/><circle cx="365.4" cy="459.8" r="4.5"/><circle cx="370.2" cy="407.6" r="4.5"/><circle cx="382.6" cy="387.2" r="4.5"/><circle cx="361.2" cy="461.0" r="4.5"/><circle cx="339.2" cy="485.8" r="4.5"/><circle cx="329.1" cy="459.0" r="4.5"/><circle cx="318.7" cy="375.2" r="4.5"/><circle cx="322.1" cy="378.9" r="4.5"/><circle cx="382.5" cy="414.0" r="4.5"/><circle cx="323.2" cy="392.4" r="4.5"/><circle cx="324.2" cy="375.3" r="4.5"/><circle cx="370.4" cy="399.9" r="4.5"/><circle cx="359.7" cy="411.6" r="4.5"/><circle cx="372.0" cy="424.9" r="4.5"/><circle cx="336.3" cy="475.9" r="4.5"/><circle cx="320.1" cy="456.3" r="4.5"/><circle cx="316.9" cy="446.2" r="4.5"/><circle cx="342.1" cy="471.4" r="4.5"/><circle cx="316.5" cy="436.9" r="4.5"/><circle cx="342.7" cy="477.7" r="4.5"/><circle cx="328.8" cy="401.0" r="4.5"/><circle cx="331.7" cy="421.9" r="4.5"/><circle cx="329.4" cy="395.4" r="4.5"/><circle cx="328.2" cy="437.5" r="4.5"/><circle cx="323.8" cy="471.3" r="4.5"/><circle cx="377.2" cy="402.7" r="4.5"/><circle cx="333.2" cy="410.1" r="4.5"/><circle cx="348.4" cy="474.5" r="4.5"/><circle cx="324.1" cy="450.5" r="4.5"/><circle cx="356.8" cy="424.1" r="4.5"/><circle cx="355.4" cy="473.5" r="4.5"/><circle cx="327.7" cy="473.6" r="4.5"/><circle cx="339.0" cy="461.7" r="4.5"/><circle cx="376.8" cy="393.0" r="4.5"/><circle cx="334.3" cy="374.8" r="4.5"/><circle cx="323.3" cy="456.6" r="4.5"/><circle cx="319.3" cy="391.4" r="4.5"/><circle cx="363.2" cy="382.4" r="4.5"/><circle cx="337.5" cy="477.6" r="4.5"/><circle cx="365.7" cy="473.4" r="4.5"/><circle cx="385.5" cy="375.8" r="4.5"/><circle cx="329.6" cy="463.1" r="4.5"/><circle cx="363.7" cy="376.4" r="4.5"/><circle cx="319.9" cy="374.3" r="4.5"/><circle cx="386.3" cy="408.4" r="4.5"/><circle cx="377.9" cy="385.9" r="4.5"/><circle cx="325.4" cy="450.8" r="4.5"/><circle cx="323.1" cy="456.9" r="4.5"/><circle cx="349.2" cy="477.6" r="4.5"/><circle cx="338.2" cy="396.7" r="4.5"/><circle cx="366.9" cy="403.4" r="4.5"/><circle cx="325.3" cy="402.4" r="4.5"/><circle cx="317.2" cy="377.0" r="4.5"/><circle cx="361.0" cy="434.6" r="4.5"/><circle cx="353.2" cy="451.4" r="4.5"/><circle cx="365.8" cy="417.9" r="4.5"/><circle cx="335.9" cy="420.2" r="4.5"/><circle cx="385.0" cy="416.5" r="4.5"/><circle cx="357.6" cy="478.5" r="4.5"/><circle cx="331.1" cy="442.3" r="4.5"/><circle cx="320.7" cy="469.0" r="4.5"/><circle cx="315.7" cy="451.8" r="4.5"/><circle cx="336.3" cy="446.3" r="4.5"/><circle cx="353.2" cy="408.3" r="4.5"/><circle cx="384.9" cy="372.1" r="4.5"/><circle cx="368.0" cy="470.1" r="4.5"/><circle cx="350.3" cy="440.1" r="4.5"/><circle cx="386.6" cy="399.0" r="4.5"/><circle cx="359.2" cy="457.5" r="4.5"/><circle cx="340.4" cy="453.9" r="4.5"/><circle cx="362.8" cy="409.0" r="4.5"/><circle cx="359.2" cy="434.5" r="4.5"/><circle cx="328.7" cy="442.4" r="4.5"/><circle cx="331.9" cy="476.5" r="4.5"/><circle cx="347.5" cy="455.0" r="4.5"/><circle cx="351.7" cy="432.3" r="4.5"/><circle cx="351.6" cy="465.5" r="4.5"/><circle cx="329.9" cy="391.8" r="4.5"/><circle cx="373.6" cy="424.9" r="4.5"/><circle cx="360.0" cy="467.2" r="4.5"/><circle cx="315.2" cy="415.8" r="4.5"/><circle cx="321.2" cy="389.7" r="4.5"/><circle cx="330.9" cy="383.8" r="4.5"/><circle cx="338.7" cy="464.4" r="4.5"/><circle cx="364.1" cy="423.7" r="4.5"/><circle cx="347.9" cy="463.8" r="4.5"/><circle cx="368.9" cy="389.2" r="4.5"/><circle cx="363.0" cy="414.2" r="4.5"/><circle cx="337.5" cy="415.8" r="4.5"/><circle cx="313.3" cy="395.1" r="4.5"/><circle cx="354.8" cy="378.6" r="4.5"/><circle cx="325.4" cy="454.6" r="4.5"/><circle cx="332.6" cy="409.3" r="4.5"/><circle cx="330.1" cy="467.9" r="4.5"/><circle cx="318.8" cy="445.2" r="4.5"/><circle cx="376.4" cy="395.2" r="4.5"/><circle cx="343.7" cy="463.1" r="4.5"/><circle cx="358.3" cy="414.7" r="4.5"/><circle cx="315.3" cy="422.9" r="4.5"/><circle cx="339.5" cy="453.9" r="4.5"/><circle cx="334.1" cy="418.9" r="4.5"/><circle cx="360.6" cy="465.2" r="4.5"/><circle cx="338.4" cy="416.3" r="4.5"/><circle cx="355.4" cy="478.4" r="4.5"/><circle cx="365.4" cy="414.8" r="4.5"/><circle cx="361.9" cy="409.9" r="4.5"/><circle cx="317.3" cy="458.9" r="4.5"/><circle cx="313.9" cy="440.2" r="4.5"/><circle cx="367.5" cy="418.2" r="4.5"/><circle cx="315.0" cy="450.2" r="4.5"/><circle cx="353.5" cy="460.5" r="4.5"/><circle cx="369.7" cy="385.6" r="4.5"/><circle cx="328.6" cy="380.9" r="4.5"/><circle cx="373.3" cy="383.7" r="4.5"/><circle cx="318.6" cy="458.6" r="4.5"/><circle cx="354.3" cy="378.3" r="4.5"/><circle cx="363.1" cy="453.8" r="4.5"/><circle cx="343.3" cy="439.2" r="4.5"/><circle cx="322.9" cy="410.4" r="4.5"/><circle cx="350.9" cy="372.7" r="4.5"/><circle cx="332.6" cy="402.2" r="4.5"/><circle cx="335.5" cy="401.3" r="4.5"/><circle cx="334.8" cy="471.7" r="4.5"/><circle cx="331.3" cy="395.2" r="4.5"/><circle cx="315.9" cy="433.7" r="4.5"/><circle cx="355.8" cy="414.1" r="4.5"/><circle cx="372.1" cy="395.0" r="4.5"/><circle cx="315.8" cy="408.1" r="4.5"/><circle cx="352.0" cy="419.0" r="4.5"/><circle cx="354.4" cy="409.2" r="4.5"/><circle cx="332.5" cy="463.6" r="4.5"/><circle cx="333.9" cy="453.7" r="4.5"/><circle cx="346.1" cy="479.5" r="4.5"/><circle cx="345.4" cy="473.0" r="4.5"/><circle cx="316.3" cy="421.9" r="4.5"/><circle cx="359.9" cy="377.6" r="4.5"/><circle cx="376.7" cy="380.3" r="4.5"/><circle cx="356.7" cy="392.7" r="4.5"/><circle cx="362.5" cy="449.6" r="4.5"/><circle cx="334.1" cy="396.3" r="4.5"/><circle cx="374.9" cy="388.8" r="4.5"/><circle cx="380.8" cy="395.8" r="4.5"/><circle cx="319.6" cy="383.0" r="4.5"/><circle cx="343.1" cy="447.8" r="4.5"/><circle cx="331.3" cy="476.2" r="4.5"/><circle cx="363.4" cy="389.8" r="4.5"/><circle cx="316.2" cy="452.0" r="4.5"/><circle cx="334.0" cy="398.8" r="4.5"/><circle cx="355.7" cy="408.7" r="4.5"/><circle cx="354.0" cy="389.7" r="4.5"/><circle cx="380.4" cy="409.3" r="4.5"/><circle cx="375.1" cy="389.5" r="4.5"/><circle cx="360.1" cy="397.7" r="4.5"/><circle cx="352.9" cy="382.8" r="4.5"/><circle cx="346.8" cy="455.7" r="4.5"/><circle cx="344.2" cy="450.1" r="4.5"/><circle cx="320.6" cy="467.3" r="4.5"/><circle cx="368.3" cy="429.1" r="4.5"/><circle cx="381.7" cy="382.7" r="4.5"/><circle cx="348.4" cy="471.4" r="4.5"/><circle cx="356.8" cy="434.2" r="4.5"/><circle cx="318.6" cy="388.1" r="4.5"/><circle cx="332.3" cy="474.7" r="4.5"/><circle cx="375.4" cy="398.1" r="4.5"/><circle cx="381.3" cy="375.7" r="4.5"/><circle cx="356.9" cy="483.2" r="4.5"/><circle cx="337.8" cy="480.6" r="4.5"/><circle cx="361.2" cy="377.8" r="4.5"/><circle cx="337.0" cy="423.7" r="4.5"/><circle cx="330.6" cy="457.4" r="4.5"/><circle cx="325.4" cy="462.6" r="4.5"/><circle cx="334.4" cy="380.0" r="4.5"/><circle cx="353.9" cy="383.0" r="4.5"/><circle cx="353.4" cy="462.6" r="4.5"/><circle cx="356.7" cy="425.1" r="4.5"/><circle cx="314.5" cy="431.0" r="4.5"/><circle cx="319.3" cy="446.4" r="4.5"/><circle cx="321.9" cy="438.5" r="4.5"/><circle cx="338.5" cy="415.1" r="4.5"/><circle cx="361.7" cy="390.8" r="4.5"/><circle cx="336.9" cy="468.9" r="4.5"/><circle cx="323.2" cy="382.8" r="4.5"/><circle cx="377.9" cy="385.5" r="4.5"/><circle cx="330.0" cy="472.2" r="4.5"/><circle cx="349.6" cy="474.4" r="4.5"/><circle cx="348.6" cy="463.0" r="4.5"/><circle cx="354.8" cy="451.2" r="4.5"/><circle cx="329.2" cy="458.3" r="4.5"/><circle cx="323.5" cy="402.4" r="4.5"/><circle cx="314.3" cy="417.2" r="4.5"/><circle cx="318.3" cy="438.5" r="4.5"/><circle cx="329.5" cy="440.5" r="4.5"/><circle cx="316.7" cy="400.3" r="4.5"/><circle cx="356.9" cy="485.0" r="4.5"/><circle cx="315.1" cy="443.1" r="4.5"/><circle cx="363.9" cy="465.7" r="4.5"/><circle cx="337.7" cy="465.2" r="4.5"/><circle cx="346.6" cy="477.9" r="4.5"/><circle cx="330.4" cy="456.4" r="4.5"/><circle cx="362.9" cy="389.4" r="4.5"/><circle cx="337.8" cy="388.1" r="4.5"/><circle cx="326.9" cy="397.3" r="4.5"/><circle cx="336.8" cy="484.2" r="4.5"/><circle cx="359.7" cy="394.9" r="4.5"/><circle cx="358.9" cy="469.3" r="4.5"/><circle cx="371.0" cy="382.6" r="4.5"/><circle cx="365.8" cy="412.2" r="4.5"/><circle cx="362.5" cy="457.7" r="4.5"/><circle cx="322.1" cy="467.3" r="4.5"/><circle cx="367.9" cy="467.7" r="4.5"/><circle cx="344.6" cy="466.9" r="4.5"/><circle cx="334.4" cy="482.5" r="4.5"/><circle cx="351.9" cy="480.8" r="4.5"/><circle cx="371.1" cy="401.0" r="4.5"/><circle cx="374.9" cy="398.7" r="4.5"/><circle cx="326.9" cy="424.7" r="4.5"/><circle cx="329.7" cy="428.7" r="4.5"/><circle cx="365.3" cy="417.1" r="4.5"/><circle cx="363.2" cy="480.3" r="4.5"/><circle cx="373.9" cy="418.7" r="4.5"/><circle cx="318.5" cy="447.0" r="4.5"/><circle cx="374.7" cy="411.1" r="4.5"/><circle cx="356.6" cy="468.2" r="4.5"/><circle cx="371.5" cy="372.5" r="4.5"/><circle cx="372.9" cy="420.1" r="4.5"/><circle cx="357.4" cy="424.6" r="4.5"/><circle cx="337.2" cy="396.6" r="4.5"/><circle cx="338.5" cy="469.1" r="4.5"/><circle cx="358.4" cy="405.6" r="4.5"/><circle cx="318.6" cy="403.2" r="4.5"/><circle cx="364.6" cy="422.8" r="4.5"/><circle cx="361.6" cy="464.8" r="4.5"/><circle cx="321.1" cy="450.5" r="4.5"/><circle cx="325.8" cy="403.2" r="4.5"/><circle cx="383.8" cy="413.7" r="4.5"/><circle cx="328.8" cy="474.3" r="4.5"/><circle cx="357.8" cy="474.8" r="4.5"/><circle cx="341.6" cy="429.5" r="4.5"/><circle cx="350.0" cy="485.7" r="4.5"/><circle cx="326.2" cy="467.5" r="4.5"/><circle cx="324.2" cy="432.6" r="4.5"/><circle cx="372.7" cy="400.8" r="4.5"/><circle cx="338.4" cy="383.6" r="4.5"/><circle cx="353.5" cy="471.2" r="4.5"/><circle cx="317.7" cy="443.8" r="4.5"/><circle cx="345.3" cy="482.2" r="4.5"/><circle cx="339.1" cy="448.0" r="4.5"/><circle cx="359.4" cy="415.2" r="4.5"/><circle cx="351.2" cy="449.8" r="4.5"/><circle cx="339.3" cy="484.3" r="4.5"/><circle cx="363.3" cy="436.1" r="4.5"/><circle cx="345.6" cy="458.4" r="4.5"/><circle cx="368.2" cy="376.0" r="4.5"/><circle cx="336.4" cy="387.8" r="4.5"/><circle cx="322.8" cy="439.6" r="4.5"/><circle cx="355.3" cy="377.4" r="4.5"/><circle cx="341.4" cy="457.9" r="4.5"/><circle cx="360.1" cy="404.3" r="4.5"/><circle cx="369.2" cy="405.5" r="4.5"/><circle cx="352.8" cy="420.4" r="4.5"/><circle cx="340.5" cy="482.7" r="4.5"/><circle cx="365.2" cy="451.4" r="4.5"/><circle cx="332.8" cy="390.6" r="4.5"/><circle cx="355.1" cy="467.0" r="4.5"/><circle cx="371.5" cy="411.9" r="4.5"/><circle cx="322.5" cy="431.3" r="4.5"/><circle cx="377.8" cy="390.6" r="4.5"/><circle cx="367.4" cy="391.6" r="4.5"/><circle cx="335.4" cy="378.2" r="4.5"/><circle cx="334.3" cy="416.0" r="4.5"/><circle cx="326.0" cy="407.6" r="4.5"/><circle cx="382.8" cy="394.7" r="4.5"/><circle cx="336.1" cy="422.4" r="4.5"/><circle cx="320.1" cy="401.9" r="4.5"/><circle cx="341.5" cy="416.3" r="4.5"/><circle cx="332.0" cy="395.5" r="4.5"/><circle cx="370.4" cy="408.2" r="4.5"/><circle cx="323.4" cy="459.1" r="4.5"/><circle cx="368.4" cy="403.7" r="4.5"/><circle cx="339.2" cy="477.5" r="4.5"/><circle cx="351.7" cy="405.2" r="4.5"/><circle cx="359.3" cy="401.9" r="4.5"/><circle cx="369.9" cy="376.8" r="4.5"/><circle cx="338.5" cy="480.1" r="4.5"/><circle cx="331.9" cy="400.0" r="4.5"/><circle cx="317.2" cy="435.1" r="4.5"/><circle cx="343.0" cy="464.9" r="4.5"/><circle cx="320.3" cy="407.3" r="4.5"/><circle cx="360.4" cy="483.2" r="4.5"/><circle cx="359.5" cy="451.6" r="4.5"/><circle cx="370.1" cy="417.4" r="4.5"/><circle cx="337.6" cy="417.1" r="4.5"/><circle cx="372.4" cy="412.2" r="4.5"/><circle cx="325.9" cy="472.2" r="4.5"/><circle cx="351.9" cy="431.9" r="4.5"/><circle cx="362.2" cy="475.7" r="4.5"/><circle cx="322.0" cy="411.0" r="4.5"/><circle cx="316.9" cy="419.5" r="4.5"/><circle cx="299.1" cy="434.2" r="4.5"/><circle cx="303.7" cy="414.2" r="4.5"/><circle cx="296.3" cy="413.9" r="4.5"/><circle cx="307.1" cy="433.2" r="4.5"/><circle cx="289.2" cy="421.0" r="4.5"/><circle cx="306.1" cy="408.5" r="4.5"/><circle cx="310.2" cy="437.6" r="4.5"/><circle cx="305.8" cy="431.9" r="4.5"/><circle cx="303.2" cy="436.1" r="4.5"/><circle cx="288.7" cy="423.4" r="4.5"/><circle cx="304.7" cy="416.7" r="4.5"/><circle cx="292.7" cy="376.9" r="4.5"/><circle cx="301.9" cy="432.2" r="4.5"/><circle cx="292.6" cy="387.6" r="4.5"/><circle cx="291.3" cy="378.9" r="4.5"/><circle cx="303.9" cy="443.2" r="4.5"/><circle cx="307.5" cy="398.3" r="4.5"/><circle cx="304.6" cy="377.3" r="4.5"/><circle cx="308.5" cy="395.7" r="4.5"/><circle cx="285.1" cy="417.9" r="4.5"/><circle cx="288.9" cy="392.1" r="4.5"/><circle cx="286.7" cy="404.5" r="4.5"/><circle cx="300.5" cy="430.9" r="4.5"/><circle cx="288.1" cy="388.4" r="4.5"/><circle cx="302.6" cy="396.8" r="4.5"/><circle cx="294.3" cy="413.5" r="4.5"/><circle cx="291.1" cy="429.9" r="4.5"/><circle cx="307.6" cy="411.2" r="4.5"/><circle cx="285.8" cy="408.8" r="4.5"/><circle cx="296.9" cy="376.6" r="4.5"/><circle cx="401.1" cy="414.0" r="4.5"/><circle cx="400.0" cy="395.2" r="4.5"/><circle cx="398.3" cy="406.1" r="4.5"/><circle cx="391.4" cy="422.3" r="4.5"/><circle cx="409.1" cy="391.1" r="4.5"/><circle cx="409.7" cy="376.1" r="4.5"/><circle cx="397.5" cy="379.8" r="4.5"/><circle cx="396.9" cy="411.6" r="4.5"/><circle cx="403.0" cy="398.4" r="4.5"/><circle cx="394.2" cy="383.0" r="4.5"/><circle cx="395.7" cy="388.4" r="4.5"/><circle cx="390.7" cy="414.7" r="4.5"/><circle cx="398.4" cy="397.4" r="4.5"/><circle cx="390.7" cy="412.8" r="4.5"/><circle cx="390.7" cy="387.4" r="4.5"/><circle cx="399.4" cy="412.7" r="4.5"/><circle cx="403.3" cy="413.7" r="4.5"/><circle cx="387.5" cy="383.9" r="4.5"/><circle cx="386.3" cy="422.1" r="4.5"/><circle cx="403.3" cy="408.6" r="4.5"/><circle cx="245.7" cy="395.5" r="4.5"/><circle cx="259.2" cy="404.2" r="4.5"/><circle cx="277.4" cy="383.4" r="4.5"/><circle cx="281.0" cy="371.7" r="4.5"/><circle cx="287.2" cy="385.3" r="4.5"/><circle cx="294.0" cy="379.1" r="4.5"/><circle cx="294.0" cy="387.8" r="4.5"/><circle cx="278.6" cy="395.8" r="4.5"/><circle cx="274.3" cy="405.0" r="4.5"/><circle cx="279.8" cy="402.6" r="4.5"/><circle cx="287.2" cy="397.0" r="4.5"/><circle cx="297.7" cy="397.0" r="4.5"/><circle cx="291.5" cy="407.5" r="4.5"/><circle cx="286.0" cy="415.5" r="4.5"/><circle cx="295.2" cy="418.6" r="4.5"/><circle cx="281.0" cy="424.8" r="4.5"/><circle cx="287.8" cy="426.6" r="4.5"/><circle cx="294.0" cy="432.8" r="4.5"/><circle cx="301.4" cy="427.8" r="4.5"/><circle cx="296.5" cy="437.7" r="4.5"/><circle cx="305.1" cy="437.7" r="4.5"/><circle cx="278.6" cy="440.8" r="4.5"/><circle cx="270.6" cy="444.5" r="4.5"/><circle cx="263.2" cy="451.9" r="4.5"/><circle cx="281.0" cy="455.0" r="4.5"/><circle cx="295.8" cy="448.8" r="4.5"/><circle cx="303.9" cy="456.2" r="4.5"/><circle cx="306.3" cy="458.7" r="4.5"/><circle cx="301.4" cy="474.7" r="4.5"/><circle cx="429.7" cy="373.0" r="4.5"/><circle cx="413.6" cy="371.7" r="4.5"/><circle cx="427.2" cy="382.8" r="4.5"/><circle cx="416.1" cy="388.4" r="4.5"/><circle cx="408.7" cy="379.7" r="4.5"/><circle cx="400.1" cy="378.5" r="4.5"/><circle cx="398.8" cy="387.1" r="4.5"/><circle cx="456.8" cy="396.4" r="4.5"/><circle cx="402.5" cy="395.8" r="4.5"/><circle cx="402.5" cy="400.7" r="4.5"/><circle cx="392.7" cy="399.5" r="4.5"/><circle cx="411.8" cy="408.7" r="4.5"/><circle cx="395.1" cy="409.3" r="4.5"/><circle cx="408.7" cy="418.0" r="4.5"/><circle cx="397.6" cy="418.6" r="4.5"/><circle cx="400.1" cy="424.1" r="4.5"/><circle cx="424.1" cy="419.8" r="4.5"/><circle cx="425.4" cy="424.8" r="4.5"/><circle cx="414.3" cy="427.2" r="4.5"/><circle cx="387.7" cy="430.9" r="4.5"/><circle cx="379.1" cy="440.2" r="4.5"/><circle cx="412.4" cy="443.9" r="4.5"/><circle cx="396.4" cy="449.4" r="4.5"/><circle cx="397.0" cy="457.4" r="4.5"/><circle cx="381.0" cy="464.8" r="4.5"/><circle cx="374.2" cy="460.5" r="4.5"/><circle cx="438.3" cy="462.4" r="4.5"/><circle cx="366.8" cy="478.4" r="4.5"/></g><g fill="#c43846" fill-opacity="0.82"><circle cx="356.3" cy="285.2" r="4.5"/><circle cx="385.2" cy="358.9" r="4.5"/><circle cx="388.3" cy="351.3" r="4.5"/><circle cx="406.7" cy="334.2" r="4.5"/><circle cx="375.4" cy="363.8" r="4.5"/><circle cx="369.7" cy="329.5" r="4.5"/><circle cx="404.7" cy="348.6" r="4.5"/><circle cx="355.8" cy="340.0" r="4.5"/><circle cx="389.9" cy="295.7" r="4.5"/><circle cx="362.1" cy="320.2" r="4.5"/><circle cx="381.9" cy="344.5" r="4.5"/><circle cx="361.4" cy="313.8" r="4.5"/><circle cx="383.2" cy="361.8" r="4.5"/><circle cx="403.3" cy="320.4" r="4.5"/><circle cx="363.8" cy="356.0" r="4.5"/><circle cx="368.6" cy="333.6" r="4.5"/><circle cx="374.3" cy="321.9" r="4.5"/><circle cx="396.6" cy="332.9" r="4.5"/><circle cx="360.2" cy="329.7" r="4.5"/><circle cx="359.5" cy="290.4" r="4.5"/><circle cx="391.1" cy="366.1" r="4.5"/><circle cx="362.0" cy="298.8" r="4.5"/><circle cx="366.9" cy="344.3" r="4.5"/><circle cx="400.1" cy="346.9" r="4.5"/><circle cx="374.8" cy="316.7" r="4.5"/><circle cx="383.5" cy="360.6" r="4.5"/><circle cx="382.4" cy="348.1" r="4.5"/><circle cx="371.6" cy="322.5" r="4.5"/><circle cx="358.9" cy="296.5" r="4.5"/><circle cx="380.9" cy="344.0" r="4.5"/><circle cx="375.7" cy="331.1" r="4.5"/><circle cx="381.4" cy="363.5" r="4.5"/><circle cx="359.1" cy="340.4" r="4.5"/><circle cx="391.7" cy="338.5" r="4.5"/><circle cx="392.6" cy="346.3" r="4.5"/><circle cx="357.6" cy="308.0" r="4.5"/><circle cx="363.8" cy="357.6" r="4.5"/><circle cx="370.0" cy="368.4" r="4.5"/><circle cx="368.7" cy="343.0" r="4.5"/><circle cx="358.8" cy="314.2" r="4.5"/><circle cx="382.0" cy="289.1" r="4.5"/><circle cx="369.1" cy="333.0" r="4.5"/><circle cx="382.4" cy="308.4" r="4.5"/><circle cx="392.1" cy="286.9" r="4.5"/><circle cx="364.0" cy="351.9" r="4.5"/><circle cx="392.7" cy="363.7" r="4.5"/><circle cx="371.1" cy="330.1" r="4.5"/><circle cx="374.4" cy="367.4" r="4.5"/><circle cx="384.5" cy="301.2" r="4.5"/><circle cx="384.6" cy="368.6" r="4.5"/><circle cx="370.6" cy="291.1" r="4.5"/><circle cx="376.2" cy="368.7" r="4.5"/><circle cx="401.2" cy="292.7" r="4.5"/><circle cx="381.9" cy="364.2" r="4.5"/><circle cx="363.1" cy="317.3" r="4.5"/><circle cx="365.9" cy="322.5" r="4.5"/><circle cx="360.7" cy="364.4" r="4.5"/><circle cx="379.3" cy="362.4" r="4.5"/><circle cx="376.7" cy="350.8" r="4.5"/><circle cx="355.4" cy="315.2" r="4.5"/><circle cx="371.1" cy="324.2" r="4.5"/><circle cx="362.7" cy="367.8" r="4.5"/><circle cx="391.5" cy="341.8" r="4.5"/><circle cx="381.8" cy="360.4" r="4.5"/><circle cx="367.4" cy="323.3" r="4.5"/><circle cx="370.6" cy="334.2" r="4.5"/><circle cx="381.4" cy="283.4" r="4.5"/><circle cx="390.6" cy="332.4" r="4.5"/><circle cx="382.0" cy="296.3" r="4.5"/><circle cx="382.4" cy="286.0" r="4.5"/><circle cx="373.8" cy="347.5" r="4.5"/><circle cx="362.3" cy="314.3" r="4.5"/><circle cx="379.8" cy="344.5" r="4.5"/><circle cx="366.4" cy="357.7" r="4.5"/><circle cx="365.1" cy="341.8" r="4.5"/><circle cx="372.1" cy="317.1" r="4.5"/><circle cx="398.2" cy="354.0" r="4.5"/><circle cx="375.4" cy="328.7" r="4.5"/><circle cx="357.3" cy="310.5" r="4.5"/><circle cx="376.9" cy="328.1" r="4.5"/><circle cx="366.5" cy="336.4" r="4.5"/><circle cx="379.3" cy="339.6" r="4.5"/><circle cx="376.8" cy="328.1" r="4.5"/><circle cx="362.8" cy="296.3" r="4.5"/><circle cx="393.6" cy="346.0" r="4.5"/><circle cx="377.3" cy="361.1" r="4.5"/><circle cx="363.9" cy="367.0" r="4.5"/><circle cx="402.8" cy="326.9" r="4.5"/><circle cx="362.7" cy="361.6" r="4.5"/><circle cx="386.9" cy="328.9" r="4.5"/><circle cx="357.9" cy="363.2" r="4.5"/><circle cx="368.9" cy="309.5" r="4.5"/><circle cx="374.2" cy="346.1" r="4.5"/><circle cx="387.3" cy="348.4" r="4.5"/><circle cx="360.9" cy="365.6" r="4.5"/><circle cx="367.4" cy="338.6" r="4.5"/><circle cx="365.4" cy="317.7" r="4.5"/><circle cx="366.6" cy="286.1" r="4.5"/><circle cx="360.9" cy="330.2" r="4.5"/><circle cx="406.5" cy="318.3" r="4.5"/><circle cx="367.5" cy="353.5" r="4.5"/><circle cx="372.2" cy="355.9" r="4.5"/><circle cx="407.8" cy="356.5" r="4.5"/><circle cx="385.4" cy="328.9" r="4.5"/><circle cx="363.1" cy="340.7" r="4.5"/><circle cx="397.2" cy="334.7" r="4.5"/><circle cx="375.2" cy="316.3" r="4.5"/><circle cx="386.7" cy="343.8" r="4.5"/><circle cx="407.2" cy="297.8" r="4.5"/><circle cx="385.5" cy="356.5" r="4.5"/><circle cx="374.0" cy="342.7" r="4.5"/><circle cx="377.8" cy="357.6" r="4.5"/><circle cx="383.1" cy="316.7" r="4.5"/><circle cx="377.9" cy="343.1" r="4.5"/><circle cx="385.6" cy="294.0" r="4.5"/><circle cx="360.0" cy="349.1" r="4.5"/><circle cx="381.5" cy="343.4" r="4.5"/><circle cx="380.9" cy="365.1" r="4.5"/><circle cx="371.4" cy="287.5" r="4.5"/><circle cx="399.9" cy="301.4" r="4.5"/><circle cx="362.5" cy="344.4" r="4.5"/><circle cx="372.2" cy="343.3" r="4.5"/><circle cx="395.9" cy="312.4" r="4.5"/><circle cx="366.6" cy="337.5" r="4.5"/><circle cx="372.4" cy="313.3" r="4.5"/><circle cx="382.1" cy="367.8" r="4.5"/><circle cx="381.6" cy="334.6" r="4.5"/><circle cx="385.3" cy="296.4" r="4.5"/><circle cx="367.4" cy="342.5" r="4.5"/><circle cx="386.6" cy="319.9" r="4.5"/><circle cx="400.1" cy="363.9" r="4.5"/><circle cx="386.6" cy="356.3" r="4.5"/><circle cx="390.2" cy="294.2" r="4.5"/><circle cx="371.5" cy="322.0" r="4.5"/><circle cx="362.5" cy="336.4" r="4.5"/><circle cx="367.4" cy="352.8" r="4.5"/><circle cx="353.8" cy="331.6" r="4.5"/><circle cx="393.4" cy="314.9" r="4.5"/><circle cx="369.3" cy="286.5" r="4.5"/><circle cx="377.7" cy="334.2" r="4.5"/><circle cx="364.3" cy="328.9" r="4.5"/><circle cx="377.6" cy="346.9" r="4.5"/><circle cx="358.9" cy="358.5" r="4.5"/><circle cx="379.3" cy="327.9" r="4.5"/><circle cx="390.3" cy="288.9" r="4.5"/><circle cx="379.3" cy="350.6" r="4.5"/><circle cx="397.5" cy="338.3" r="4.5"/><circle cx="362.7" cy="304.3" r="4.5"/><circle cx="403.9" cy="339.5" r="4.5"/><circle cx="356.1" cy="353.2" r="4.5"/><circle cx="358.1" cy="295.5" r="4.5"/><circle cx="376.3" cy="325.0" r="4.5"/><circle cx="373.0" cy="346.5" r="4.5"/><circle cx="371.3" cy="359.3" r="4.5"/><circle cx="376.3" cy="335.1" r="4.5"/><circle cx="378.4" cy="361.5" r="4.5"/><circle cx="372.4" cy="336.3" r="4.5"/><circle cx="357.2" cy="357.5" r="4.5"/><circle cx="364.7" cy="303.7" r="4.5"/><circle cx="387.2" cy="334.9" r="4.5"/><circle cx="394.0" cy="321.6" r="4.5"/><circle cx="366.2" cy="359.0" r="4.5"/><circle cx="354.7" cy="362.8" r="4.5"/><circle cx="367.5" cy="340.1" r="4.5"/><circle cx="363.1" cy="333.3" r="4.5"/><circle cx="396.9" cy="349.7" r="4.5"/><circle cx="398.1" cy="291.2" r="4.5"/><circle cx="393.9" cy="355.0" r="4.5"/><circle cx="366.6" cy="360.0" r="4.5"/><circle cx="376.6" cy="323.9" r="4.5"/><circle cx="377.6" cy="288.1" r="4.5"/><circle cx="376.6" cy="336.2" r="4.5"/><circle cx="358.7" cy="349.6" r="4.5"/><circle cx="377.1" cy="329.1" r="4.5"/><circle cx="360.6" cy="298.1" r="4.5"/><circle cx="380.8" cy="311.5" r="4.5"/><circle cx="393.5" cy="369.5" r="4.5"/><circle cx="375.9" cy="339.0" r="4.5"/><circle cx="390.1" cy="335.6" r="4.5"/><circle cx="373.9" cy="359.0" r="4.5"/><circle cx="405.3" cy="296.6" r="4.5"/><circle cx="364.7" cy="359.3" r="4.5"/><circle cx="353.4" cy="303.3" r="4.5"/><circle cx="353.7" cy="338.2" r="4.5"/><circle cx="372.3" cy="329.4" r="4.5"/><circle cx="356.2" cy="340.7" r="4.5"/><circle cx="366.1" cy="365.1" r="4.5"/><circle cx="387.6" cy="367.9" r="4.5"/><circle cx="367.5" cy="288.2" r="4.5"/><circle cx="374.0" cy="331.2" r="4.5"/><circle cx="363.1" cy="366.3" r="4.5"/><circle cx="379.3" cy="306.1" r="4.5"/><circle cx="368.1" cy="287.7" r="4.5"/><circle cx="367.1" cy="293.0" r="4.5"/><circle cx="377.7" cy="362.0" r="4.5"/><circle cx="389.2" cy="350.9" r="4.5"/><circle cx="378.2" cy="359.7" r="4.5"/><circle cx="380.0" cy="297.5" r="4.5"/><circle cx="384.1" cy="326.3" r="4.5"/><circle cx="359.0" cy="296.4" r="4.5"/><circle cx="373.3" cy="336.2" r="4.5"/><circle cx="381.7" cy="325.9" r="4.5"/><circle cx="363.0" cy="340.8" r="4.5"/><circle cx="378.9" cy="339.6" r="4.5"/><circle cx="382.0" cy="352.8" r="4.5"/><circle cx="365.4" cy="315.2" r="4.5"/><circle cx="380.4" cy="317.2" r="4.5"/><circle cx="362.5" cy="363.6" r="4.5"/><circle cx="365.5" cy="354.2" r="4.5"/><circle cx="376.0" cy="352.5" r="4.5"/><circle cx="360.7" cy="342.8" r="4.5"/><circle cx="359.7" cy="348.4" r="4.5"/><circle cx="367.2" cy="323.0" r="4.5"/><circle cx="391.4" cy="287.8" r="4.5"/><circle cx="371.4" cy="367.0" r="4.5"/><circle cx="388.1" cy="304.0" r="4.5"/><circle cx="359.2" cy="313.6" r="4.5"/><circle cx="387.2" cy="345.2" r="4.5"/><circle cx="360.7" cy="352.2" r="4.5"/><circle cx="382.3" cy="331.7" r="4.5"/><circle cx="389.9" cy="298.4" r="4.5"/><circle cx="352.7" cy="329.2" r="4.5"/><circle cx="357.5" cy="354.0" r="4.5"/><circle cx="376.3" cy="346.9" r="4.5"/><circle cx="396.0" cy="315.6" r="4.5"/><circle cx="386.9" cy="362.1" r="4.5"/><circle cx="354.4" cy="362.0" r="4.5"/><circle cx="361.4" cy="319.6" r="4.5"/><circle cx="393.6" cy="338.9" r="4.5"/><circle cx="358.8" cy="363.0" r="4.5"/><circle cx="422.8" cy="46.8" r="4.5"/><circle cx="424.5" cy="80.9" r="4.5"/><circle cx="481.9" cy="108.5" r="4.5"/><circle cx="352.6" cy="158.5" r="4.5"/><circle cx="445.5" cy="157.7" r="4.5"/><circle cx="351.3" cy="182.5" r="4.5"/><circle cx="374.8" cy="196.3" r="4.5"/><circle cx="446.1" cy="205.5" r="4.5"/><circle cx="393.7" cy="213.9" r="4.5"/><circle cx="399.6" cy="211.1" r="4.5"/><circle cx="360.7" cy="225.4" r="4.5"/><circle cx="380.8" cy="222.8" r="4.5"/><circle cx="387.5" cy="232.9" r="4.5"/><circle cx="371.1" cy="234.9" r="4.5"/><circle cx="366.5" cy="240.0" r="4.5"/><circle cx="377.3" cy="239.1" r="4.5"/><circle cx="400.1" cy="234.6" r="4.5"/><circle cx="401.3" cy="243.3" r="4.5"/><circle cx="401.7" cy="248.1" r="4.5"/><circle cx="403.3" cy="251.9" r="4.5"/><circle cx="405.6" cy="256.8" r="4.5"/><circle cx="408.5" cy="264.0" r="4.5"/><circle cx="383.7" cy="254.8" r="4.5"/><circle cx="383.3" cy="263.6" r="4.5"/><circle cx="353.2" cy="274.2" r="4.5"/><circle cx="351.3" cy="280.1" r="4.5"/><circle cx="373.6" cy="273.3" r="4.5"/><circle cx="381.3" cy="273.3" r="4.5"/><circle cx="390.1" cy="269.4" r="4.5"/><circle cx="392.0" cy="275.2" r="4.5"/><circle cx="397.8" cy="276.2" r="4.5"/><circle cx="404.6" cy="281.0" r="4.5"/><circle cx="422.1" cy="280.7" r="4.5"/><circle cx="367.8" cy="280.1" r="4.5"/><circle cx="375.5" cy="283.0" r="4.5"/><circle cx="386.2" cy="285.9" r="4.5"/><circle cx="394.0" cy="287.8" r="4.5"/><circle cx="411.4" cy="290.7" r="4.5"/><circle cx="412.4" cy="295.6" r="4.5"/><circle cx="429.8" cy="292.7" r="4.5"/><circle cx="432.8" cy="293.7" r="4.5"/><circle cx="357.1" cy="292.7" r="4.5"/><circle cx="369.7" cy="290.7" r="4.5"/><circle cx="383.3" cy="292.7" r="4.5"/><circle cx="408.5" cy="303.4" r="4.5"/><circle cx="458.0" cy="300.4" r="4.5"/><circle cx="435.7" cy="310.1" r="4.5"/><circle cx="427.9" cy="313.1" r="4.5"/><circle cx="433.7" cy="316.0" r="4.5"/><circle cx="454.1" cy="324.7" r="4.5"/><circle cx="469.6" cy="338.3" r="4.5"/><circle cx="461.9" cy="342.2" r="4.5"/><circle cx="421.1" cy="330.5" r="4.5"/><circle cx="418.2" cy="332.5" r="4.5"/><circle cx="432.8" cy="338.9" r="4.5"/><circle cx="409.5" cy="322.8" r="4.5"/><circle cx="405.6" cy="329.5" r="4.5"/><circle cx="410.4" cy="337.3" r="4.5"/><circle cx="416.3" cy="346.0" r="4.5"/><circle cx="435.3" cy="356.3" r="4.5"/><circle cx="412.4" cy="358.6" r="4.5"/><circle cx="413.4" cy="365.4" r="4.5"/><circle cx="394.9" cy="314.0" r="4.5"/><circle cx="396.9" cy="302.4" r="4.5"/><circle cx="400.7" cy="329.5" r="4.5"/><circle cx="473.6" cy="293.5" r="4.5"/><circle cx="476.6" cy="335.1" r="4.5"/></g><g fill="#1f5aa3" fill-opacity="0.82"><circle cx="326.4" cy="318.2" r="4.5"/><circle cx="332.5" cy="302.9" r="4.5"/><circle cx="333.4" cy="367.0" r="4.5"/><circle cx="331.5" cy="360.1" r="4.5"/><circle cx="317.1" cy="276.6" r="4.5"/><circle cx="329.8" cy="312.4" r="4.5"/><circle cx="329.9" cy="353.9" r="4.5"/><circle cx="334.4" cy="291.0" r="4.5"/><circle cx="313.2" cy="354.3" r="4.5"/><circle cx="329.5" cy="350.4" r="4.5"/><circle cx="318.8" cy="344.1" r="4.5"/><circle cx="328.4" cy="329.0" r="4.5"/><circle cx="335.0" cy="362.3" r="4.5"/><circle cx="326.2" cy="315.7" r="4.5"/><circle cx="327.8" cy="362.9" r="4.5"/><circle cx="329.2" cy="298.4" r="4.5"/><circle cx="326.3" cy="364.4" r="4.5"/><circle cx="333.4" cy="285.0" r="4.5"/><circle cx="324.8" cy="365.8" r="4.5"/><circle cx="334.1" cy="325.8" r="4.5"/><circle cx="333.0" cy="348.5" r="4.5"/><circle cx="315.9" cy="288.8" r="4.5"/><circle cx="316.3" cy="361.9" r="4.5"/><circle cx="328.5" cy="330.0" r="4.5"/><circle cx="333.1" cy="339.4" r="4.5"/><circle cx="335.0" cy="324.8" r="4.5"/><circle cx="330.5" cy="343.3" r="4.5"/><circle cx="317.4" cy="349.8" r="4.5"/><circle cx="319.3" cy="304.4" r="4.5"/><circle cx="324.4" cy="361.9" r="4.5"/><circle cx="326.6" cy="351.4" r="4.5"/><circle cx="319.5" cy="359.3" r="4.5"/><circle cx="321.5" cy="292.5" r="4.5"/><circle cx="327.7" cy="290.0" r="4.5"/><circle cx="324.0" cy="311.4" r="4.5"/><circle cx="324.8" cy="358.0" r="4.5"/><circle cx="328.0" cy="315.1" r="4.5"/><circle cx="318.8" cy="302.0" r="4.5"/><circle cx="330.2" cy="363.7" r="4.5"/><circle cx="329.3" cy="365.4" r="4.5"/><circle cx="329.1" cy="288.9" r="4.5"/><circle cx="332.1" cy="348.6" r="4.5"/><circle cx="327.8" cy="360.8" r="4.5"/><circle cx="327.2" cy="343.8" r="4.5"/><circle cx="332.3" cy="277.5" r="4.5"/><circle cx="331.7" cy="313.2" r="4.5"/><circle cx="313.9" cy="334.4" r="4.5"/><circle cx="316.6" cy="368.3" r="4.5"/><circle cx="315.9" cy="314.3" r="4.5"/><circle cx="329.2" cy="360.9" r="4.5"/><circle cx="321.0" cy="356.6" r="4.5"/><circle cx="326.3" cy="365.4" r="4.5"/><circle cx="326.9" cy="357.4" r="4.5"/><circle cx="333.6" cy="281.3" r="4.5"/><circle cx="323.3" cy="362.2" r="4.5"/><circle cx="324.0" cy="339.2" r="4.5"/><circle cx="323.7" cy="358.0" r="4.5"/><circle cx="325.0" cy="350.0" r="4.5"/><circle cx="329.0" cy="348.8" r="4.5"/><circle cx="322.7" cy="335.0" r="4.5"/><circle cx="327.3" cy="338.5" r="4.5"/><circle cx="327.1" cy="363.1" r="4.5"/><circle cx="330.3" cy="357.2" r="4.5"/><circle cx="323.4" cy="300.0" r="4.5"/><circle cx="318.8" cy="361.9" r="4.5"/><circle cx="318.4" cy="328.0" r="4.5"/><circle cx="326.6" cy="356.1" r="4.5"/><circle cx="313.0" cy="321.9" r="4.5"/><circle cx="316.0" cy="338.7" r="4.5"/><circle cx="326.9" cy="323.0" r="4.5"/><circle cx="323.1" cy="329.8" r="4.5"/><circle cx="333.7" cy="336.1" r="4.5"/><circle cx="327.1" cy="325.5" r="4.5"/><circle cx="327.0" cy="312.8" r="4.5"/><circle cx="332.4" cy="364.3" r="4.5"/><circle cx="320.9" cy="286.5" r="4.5"/><circle cx="329.6" cy="304.4" r="4.5"/><circle cx="322.9" cy="298.4" r="4.5"/><circle cx="320.7" cy="318.9" r="4.5"/><circle cx="331.3" cy="362.5" r="4.5"/><circle cx="316.3" cy="354.1" r="4.5"/><circle cx="313.1" cy="302.6" r="4.5"/><circle cx="331.4" cy="349.2" r="4.5"/><circle cx="332.8" cy="365.8" r="4.5"/><circle cx="330.6" cy="316.7" r="4.5"/><circle cx="322.6" cy="291.8" r="4.5"/><circle cx="326.7" cy="277.5" r="4.5"/><circle cx="327.1" cy="327.1" r="4.5"/><circle cx="328.5" cy="328.3" r="4.5"/><circle cx="317.8" cy="326.0" r="4.5"/><circle cx="317.6" cy="320.6" r="4.5"/><circle cx="326.1" cy="350.6" r="4.5"/><circle cx="328.2" cy="365.7" r="4.5"/><circle cx="324.3" cy="346.2" r="4.5"/><circle cx="333.6" cy="327.7" r="4.5"/><circle cx="325.1" cy="276.3" r="4.5"/><circle cx="328.5" cy="346.8" r="4.5"/><circle cx="324.5" cy="316.2" r="4.5"/><circle cx="324.0" cy="314.1" r="4.5"/><circle cx="326.5" cy="345.2" r="4.5"/><circle cx="333.3" cy="348.7" r="4.5"/><circle cx="327.9" cy="357.6" r="4.5"/><circle cx="329.6" cy="334.8" r="4.5"/><circle cx="324.1" cy="330.5" r="4.5"/><circle cx="331.9" cy="367.3" r="4.5"/><circle cx="330.6" cy="351.3" r="4.5"/><circle cx="321.6" cy="307.9" r="4.5"/><circle cx="324.5" cy="340.0" r="4.5"/><circle cx="329.1" cy="350.0" r="4.5"/><circle cx="334.3" cy="363.6" r="4.5"/><circle cx="321.4" cy="311.1" r="4.5"/><circle cx="327.5" cy="349.7" r="4.5"/><circle cx="319.1" cy="302.9" r="4.5"/><circle cx="326.9" cy="317.0" r="4.5"/><circle cx="323.4" cy="365.6" r="4.5"/><circle cx="325.4" cy="317.0" r="4.5"/><circle cx="327.5" cy="330.5" r="4.5"/><circle cx="328.8" cy="333.2" r="4.5"/><circle cx="321.7" cy="334.6" r="4.5"/><circle cx="321.7" cy="321.3" r="4.5"/><circle cx="328.7" cy="356.6" r="4.5"/><circle cx="319.6" cy="279.9" r="4.5"/><circle cx="327.2" cy="356.1" r="4.5"/><circle cx="323.6" cy="359.2" r="4.5"/><circle cx="315.5" cy="347.9" r="4.5"/><circle cx="330.1" cy="354.2" r="4.5"/><circle cx="322.4" cy="365.1" r="4.5"/><circle cx="328.0" cy="310.7" r="4.5"/><circle cx="329.1" cy="355.5" r="4.5"/><circle cx="321.6" cy="322.1" r="4.5"/><circle cx="331.8" cy="352.6" r="4.5"/><circle cx="326.6" cy="298.8" r="4.5"/><circle cx="329.3" cy="348.8" r="4.5"/><circle cx="327.3" cy="335.9" r="4.5"/><circle cx="330.4" cy="340.9" r="4.5"/><circle cx="332.1" cy="348.0" r="4.5"/><circle cx="334.4" cy="341.4" r="4.5"/><circle cx="326.7" cy="348.0" r="4.5"/><circle cx="320.7" cy="355.5" r="4.5"/><circle cx="330.1" cy="291.6" r="4.5"/><circle cx="324.6" cy="348.2" r="4.5"/><circle cx="327.5" cy="362.1" r="4.5"/><circle cx="321.8" cy="315.3" r="4.5"/><circle cx="326.4" cy="301.4" r="4.5"/><circle cx="327.9" cy="305.2" r="4.5"/><circle cx="318.4" cy="320.6" r="4.5"/><circle cx="331.5" cy="328.4" r="4.5"/><circle cx="330.9" cy="349.5" r="4.5"/><circle cx="328.5" cy="296.0" r="4.5"/><circle cx="329.5" cy="356.3" r="4.5"/><circle cx="327.4" cy="354.9" r="4.5"/><circle cx="323.2" cy="358.2" r="4.5"/><circle cx="331.5" cy="284.2" r="4.5"/><circle cx="317.8" cy="321.6" r="4.5"/><circle cx="327.9" cy="307.2" r="4.5"/><circle cx="323.2" cy="343.0" r="4.5"/><circle cx="329.5" cy="337.6" r="4.5"/><circle cx="323.7" cy="318.9" r="4.5"/><circle cx="320.8" cy="301.4" r="4.5"/><circle cx="334.2" cy="361.8" r="4.5"/><circle cx="334.4" cy="281.6" r="4.5"/><circle cx="326.6" cy="309.1" r="4.5"/><circle cx="316.1" cy="336.6" r="4.5"/><circle cx="330.6" cy="338.5" r="4.5"/><circle cx="329.4" cy="345.4" r="4.5"/><circle cx="317.2" cy="359.4" r="4.5"/><circle cx="328.9" cy="357.2" r="4.5"/><circle cx="327.4" cy="336.4" r="4.5"/><circle cx="319.9" cy="338.6" r="4.5"/><circle cx="313.8" cy="307.1" r="4.5"/><circle cx="132.5" cy="146.8" r="4.5"/><circle cx="327.0" cy="137.9" r="4.5"/><circle cx="333.4" cy="154.9" r="4.5"/><circle cx="320.8" cy="161.7" r="4.5"/><circle cx="303.3" cy="191.8" r="4.5"/><circle cx="314.4" cy="200.5" r="4.5"/><circle cx="330.5" cy="201.5" r="4.5"/><circle cx="320.2" cy="207.3" r="4.5"/><circle cx="324.1" cy="211.2" r="4.5"/><circle cx="330.9" cy="215.1" r="4.5"/><circle cx="328.0" cy="218.0" r="4.5"/><circle cx="302.2" cy="231.0" r="4.5"/><circle cx="315.4" cy="229.6" r="4.5"/><circle cx="323.1" cy="227.7" r="4.5"/><circle cx="327.0" cy="228.7" r="4.5"/><circle cx="331.3" cy="236.0" r="4.5"/><circle cx="304.1" cy="249.0" r="4.5"/><circle cx="320.2" cy="248.4" r="4.5"/><circle cx="329.3" cy="247.1" r="4.5"/><circle cx="332.4" cy="257.4" r="4.5"/><circle cx="282.0" cy="262.2" r="4.5"/><circle cx="297.9" cy="267.5" r="4.5"/><circle cx="306.6" cy="267.1" r="4.5"/><circle cx="317.3" cy="261.6" r="4.5"/><circle cx="322.7" cy="261.6" r="4.5"/><circle cx="334.4" cy="271.3" r="4.5"/><circle cx="309.5" cy="276.8" r="4.5"/><circle cx="317.3" cy="275.2" r="4.5"/><circle cx="323.1" cy="279.1" r="4.5"/><circle cx="334.8" cy="280.1" r="4.5"/><circle cx="297.9" cy="284.9" r="4.5"/><circle cx="291.7" cy="290.4" r="4.5"/><circle cx="317.3" cy="288.8" r="4.5"/><circle cx="297.9" cy="297.5" r="4.5"/><circle cx="280.8" cy="312.1" r="4.5"/><circle cx="294.0" cy="310.1" r="4.5"/><circle cx="276.6" cy="322.8" r="4.5"/><circle cx="287.2" cy="323.3" r="4.5"/><circle cx="296.9" cy="323.3" r="4.5"/><circle cx="248.4" cy="336.3" r="4.5"/><circle cx="264.5" cy="344.7" r="4.5"/><circle cx="253.7" cy="361.0" r="4.5"/><circle cx="286.3" cy="345.5" r="4.5"/><circle cx="293.1" cy="335.0" r="4.5"/><circle cx="303.7" cy="335.4" r="4.5"/><circle cx="295.0" cy="345.1" r="4.5"/><circle cx="301.8" cy="349.0" r="4.5"/><circle cx="283.4" cy="361.6" r="4.5"/><circle cx="292.1" cy="356.7" r="4.5"/><circle cx="297.9" cy="360.6" r="4.5"/><circle cx="304.7" cy="362.5" r="4.5"/><circle cx="311.5" cy="350.9" r="4.5"/><circle cx="312.5" cy="365.4" r="4.5"/><circle cx="303.7" cy="316.0" r="4.5"/><circle cx="307.6" cy="302.4" r="4.5"/><circle cx="309.5" cy="310.1" r="4.5"/><circle cx="313.4" cy="325.7" r="4.5"/><circle cx="194.5" cy="261.2" r="4.5"/><circle cx="172.3" cy="273.2" r="4.5"/><circle cx="183.9" cy="274.4" r="4.5"/><circle cx="220.4" cy="312.0" r="4.5"/><circle cx="214.5" cy="322.5" r="4.5"/><circle cx="204.0" cy="327.2" r="4.5"/><circle cx="201.5" cy="355.8" r="4.5"/><circle cx="225.0" cy="355.8" r="4.5"/><circle cx="320.0" cy="261.8" r="4.5"/><circle cx="300.2" cy="362.6" r="4.5"/><circle cx="307.0" cy="315.1" r="4.5"/><circle cx="302.1" cy="318.8" r="4.5"/><circle cx="310.7" cy="304.0" r="4.5"/><circle cx="315.6" cy="299.1" r="4.5"/><circle cx="319.3" cy="276.9" r="4.5"/></g><g stroke="#000" stroke-width="1.5" fill="none"><line x1="82.0" y1="369.45" x2="606" y2="369.45" stroke-dasharray="13.1 10.8"/><line x1="339.4" y1="21.5" x2="339.4" y2="507" stroke-dasharray="12.8 10.8"/><line x1="350.6" y1="21.5" x2="350.6" y2="507" stroke-dasharray="12.8 10.8"/></g></g><rect x="82.95" y="24.8" width="524" height="483.05" fill="none" stroke="#111" stroke-width="3.9"/><text x="75.1" y="492.7" text-anchor="end" font-size="21">0</text><text x="75.1" y="403.5" text-anchor="end" font-size="21">1</text><text x="75.1" y="314.3" text-anchor="end" font-size="21">2</text><text x="75.1" y="225.1" text-anchor="end" font-size="21">3</text><text x="75.1" y="135.9" text-anchor="end" font-size="21">4</text><text x="75.1" y="46.7" text-anchor="end" font-size="21">5</text><text x="146.9" y="531.6" text-anchor="middle" font-size="21">−10</text><text x="245.9" y="531.6" text-anchor="middle" font-size="21">−5</text><text x="344.9" y="531.6" text-anchor="middle" font-size="21">0</text><text x="444.0" y="531.6" text-anchor="middle" font-size="21">5</text><text x="543.0" y="531.6" text-anchor="middle" font-size="21">10</text><text x="345.4" y="571.9" text-anchor="middle" font-size="26" font-weight="bold" textLength="105.5" lengthAdjust="spacingAndGlyphs">log2(FC)</text><text transform="translate(30.9,266.3) rotate(-90)" text-anchor="middle" font-size="25.5" font-weight="bold" textLength="156" lengthAdjust="spacingAndGlyphs">−log10(pVal)</text><text x="633" y="223.8" font-size="26.3" font-weight="bold">Significant</text><circle cx="645.1" cy="259.0" r="6" fill="#c43846" fill-opacity="0.82"/><text x="671.5" y="265.7" font-size="21" textLength="117.6" lengthAdjust="spacingAndGlyphs">Sig_Up (250)</text><circle cx="645.1" cy="285.1" r="6" fill="#949494" fill-opacity="0.82"/><text x="671.5" y="291.8" font-size="21" textLength="119.2" lengthAdjust="spacingAndGlyphs">NoDiff (1389)</text><circle cx="645.1" cy="311.2" r="6" fill="#1f5aa3" fill-opacity="0.82"/><text x="671.5" y="317.9" font-size="21" textLength="143.2" lengthAdjust="spacingAndGlyphs">Sig_Down (241)</text></g><g id="bubble"><line x1="1414.4" y1="84.9" x2="1414.4" y2="393.2" stroke="#ededed" stroke-width="1.1"/><line x1="1505.4" y1="84.9" x2="1505.4" y2="393.2" stroke="#ededed" stroke-width="1.1"/><line x1="1596.3" y1="84.9" x2="1596.3" y2="393.2" stroke="#ededed" stroke-width="1.1"/><line x1="1687.3" y1="84.9" x2="1687.3" y2="393.2" stroke="#ededed" stroke-width="1.1"/><line x1="1778.2" y1="84.9" x2="1778.2" y2="393.2" stroke="#ededed" stroke-width="1.1"/><line x1="1459.9" y1="84.9" x2="1459.9" y2="393.2" stroke="#e8e8e8" stroke-width="3.4"/><line x1="1550.9" y1="84.9" x2="1550.9" y2="393.2" stroke="#e8e8e8" stroke-width="3.4"/><line x1="1641.8" y1="84.9" x2="1641.8" y2="393.2" stroke="#e8e8e8" stroke-width="3.4"/><line x1="1732.8" y1="84.9" x2="1732.8" y2="393.2" stroke="#e8e8e8" stroke-width="3.4"/><line x1="1823.7" y1="84.9" x2="1823.7" y2="393.2" stroke="#e8e8e8" stroke-width="3.4"/><line x1="1401.8" y1="138.1" x2="1835" y2="138.1" stroke="#e8e8e8" stroke-width="3.2"/><line x1="1401.8" y1="174.5" x2="1835" y2="174.5" stroke="#e8e8e8" stroke-width="3.2"/><line x1="1401.8" y1="210.9" x2="1835" y2="210.9" stroke="#e8e8e8" stroke-width="3.2"/><line x1="1401.8" y1="247.2" x2="1835" y2="247.2" stroke="#e8e8e8" stroke-width="3.2"/><line x1="1401.8" y1="283.6" x2="1835" y2="283.6" stroke="#e8e8e8" stroke-width="3.2"/><line x1="1401.8" y1="320.0" x2="1835" y2="320.0" stroke="#e8e8e8" stroke-width="3.2"/><line x1="1401.8" y1="356.4" x2="1835" y2="356.4" stroke="#e8e8e8" stroke-width="3.2"/><circle cx="1773.9" cy="138.1" r="17.90" fill="#e63431"/><circle cx="1622.3" cy="174.3" r="16.45" fill="#e63431"/><circle cx="1570.2" cy="210.6" r="16.80" fill="#e63431"/><circle cx="1524.5" cy="247.1" r="18.35" fill="#e63431"/><circle cx="1525.8" cy="283.4" r="16.00" fill="#e63431"/><circle cx="1499" cy="319.9" r="16.55" fill="#e63431"/><circle cx="1462.5" cy="356.4" r="35.50" fill="#e63431"/><rect x="1399.95" y="83" width="436.95" height="311.9" fill="none" stroke="#303030" stroke-width="3.9"/><line x1="1394" y1="138.1" x2="1399" y2="138.1" stroke="#333" stroke-width="3.2"/><line x1="1394" y1="174.5" x2="1399" y2="174.5" stroke="#333" stroke-width="3.2"/><line x1="1394" y1="210.9" x2="1399" y2="210.9" stroke="#333" stroke-width="3.2"/><line x1="1394" y1="247.2" x2="1399" y2="247.2" stroke="#333" stroke-width="3.2"/><line x1="1394" y1="283.6" x2="1399" y2="283.6" stroke="#333" stroke-width="3.2"/><line x1="1394" y1="320.0" x2="1399" y2="320.0" stroke="#333" stroke-width="3.2"/><line x1="1394" y1="356.4" x2="1399" y2="356.4" stroke="#333" stroke-width="3.2"/><line x1="1459.9" y1="396" x2="1459.9" y2="403.6" stroke="#333" stroke-width="3.4"/><text x="1459.9" y="424" text-anchor="middle" font-size="24">0.0</text><line x1="1550.9" y1="396" x2="1550.9" y2="403.6" stroke="#333" stroke-width="3.4"/><text x="1550.9" y="424" text-anchor="middle" font-size="24">0.5</text><line x1="1641.8" y1="396" x2="1641.8" y2="403.6" stroke="#333" stroke-width="3.4"/><text x="1641.8" y="424" text-anchor="middle" font-size="24">1.0</text><line x1="1732.8" y1="396" x2="1732.8" y2="403.6" stroke="#333" stroke-width="3.4"/><text x="1732.8" y="424" text-anchor="middle" font-size="24">1.5</text><line x1="1823.7" y1="396" x2="1823.7" y2="403.6" stroke="#333" stroke-width="3.4"/><text x="1823.7" y="424" text-anchor="middle" font-size="24">2.0</text><text x="1389" y="145.9" text-anchor="end" font-size="23.2">ko05231 | Choline metabolism in cancer</text><text x="1389" y="182.3" text-anchor="end" font-size="23.2">ko04723 | Retrograde endocannabinoid signaling</text><text x="1389" y="218.7" text-anchor="end" font-size="23.2">ko00591 | Linoleic acid metabolism</text><text x="1389" y="255.0" text-anchor="end" font-size="23.2">ko00564 | Glycerophospholipid metabolism</text><text x="1389" y="291.4" text-anchor="end" font-size="23.2">ko00592 | alpha−Linolenic acid metabolism</text><text x="1389" y="327.8" text-anchor="end" font-size="23.2">ko00590 | Arachidonic acid metabolism</text><text x="1389" y="364.2" text-anchor="end" font-size="23.2">ko01100 | Metabolic pathways</text><text x="1619.2" y="481.2" text-anchor="middle" font-size="37.5" font-weight="bold" textLength="197" lengthAdjust="spacingAndGlyphs">Rich Factor</text><text transform="translate(908.7,326.5) rotate(-90)" text-anchor="middle" font-size="36.5" font-weight="bold" textLength="143" lengthAdjust="spacingAndGlyphs">Pathway</text><text x="1855.4" y="100.9" font-size="21.8" font-weight="bold" textLength="184.2" lengthAdjust="spacingAndGlyphs">Metabolite Number</text><circle cx="1884.1" cy="131.1" r="9.85" fill="#111"/><text x="1923.3" y="139.0" font-size="21">10</text><circle cx="1884.1" cy="161.8" r="13.90" fill="#111"/><text x="1923.3" y="169.1" font-size="21">20</text><circle cx="1884.1" cy="200.5" r="18.35" fill="#111"/><text x="1923.3" y="208.2" font-size="21">30</text><circle cx="1884.1" cy="251.3" r="22.85" fill="#111"/><text x="1923.3" y="258.6" font-size="21">40</text><text x="1894.8" y="296.8" font-size="21.4" font-weight="bold">P.value</text><defs><linearGradient id="pg" x1="0" x2="1" y1="0" y2="0"><stop offset="0" stop-color="#1e3e9e"/><stop offset="0.12" stop-color="#1f45a0"/><stop offset="0.16" stop-color="#2250a0"/><stop offset="0.27" stop-color="#1e8a78"/><stop offset="0.38" stop-color="#2aae48"/><stop offset="0.49" stop-color="#62b832"/><stop offset="0.64" stop-color="#4aa832"/><stop offset="0.71" stop-color="#6f8a30"/><stop offset="0.81" stop-color="#a06028"/><stop offset="0.91" stop-color="#c84020"/><stop offset="1" stop-color="#e82818"/></linearGradient></defs><rect x="1859" y="303" width="139.5" height="27.7" fill="url(#pg)"/><line x1="1875.5" y1="303" x2="1875.5" y2="308.5" stroke="#fff" stroke-width="1.1"/><line x1="1875.5" y1="325.2" x2="1875.5" y2="330.7" stroke="#fff" stroke-width="1.1"/><line x1="1916.6" y1="303" x2="1916.6" y2="308.5" stroke="#fff" stroke-width="1.1"/><line x1="1916.6" y1="325.2" x2="1916.6" y2="330.7" stroke="#fff" stroke-width="1.1"/><line x1="1957.8" y1="303" x2="1957.8" y2="308.5" stroke="#fff" stroke-width="1.1"/><line x1="1957.8" y1="325.2" x2="1957.8" y2="330.7" stroke="#fff" stroke-width="1.1"/><line x1="1997.8" y1="303" x2="1997.8" y2="308.5" stroke="#fff" stroke-width="1.1"/><line x1="1997.8" y1="325.2" x2="1997.8" y2="330.7" stroke="#fff" stroke-width="1.1"/><text x="1845" y="356.7" font-size="21">0.003</text><text x="1971" y="356.7" font-size="21">0.000</text></g><g id="heat" shape-rendering="crispEdges"><g transform="translate(0,684.00)"><rect x="162.1" width="3.6" height="108.6" fill="#d42e27"/><rect x="165.1" width="3.6" height="108.6" fill="#be1826"/><rect x="168.2" width="3.6" height="108.6" fill="#fee496"/><rect x="171.2" width="3.6" height="108.6" fill="#fdc072"/><rect x="174.2" width="3.6" height="108.6" fill="#f67c4a"/><rect x="177.3" width="3.6" height="108.6" fill="#f26841"/><rect x="180.3" width="3.6" height="108.6" fill="#e95639"/><rect x="183.3" width="3.6" height="108.6" fill="#e04330"/><rect x="186.4" width="3.6" height="108.6" fill="#b81226"/><rect x="189.4" width="3.6" height="108.6" fill="#fca85e"/><rect x="192.4" width="3.6" height="108.6" fill="#f99053"/><rect x="195.5" width="3.6" height="108.6" fill="#fee496"/><rect x="198.5" width="3.6" height="108.6" fill="#e04330"/><rect x="201.5" width="3.6" height="108.6" fill="#f99053"/><rect x="204.6" width="3.6" height="108.6" fill="#b81226"/><rect x="207.6" width="3.6" height="108.6" fill="#fdc072"/><rect x="210.6" width="3.6" height="108.6" fill="#fca85e"/><rect x="213.7" width="3.6" height="108.6" fill="#f26841"/><rect x="216.7" width="3.6" height="108.6" fill="#f67c4a"/><rect x="219.7" width="3.6" height="108.6" fill="#e95639"/><rect x="222.8" width="3.6" height="108.6" fill="#d42e27"/><rect x="225.8" width="3.6" height="108.6" fill="#be1826"/><rect x="228.8" width="3.6" height="108.6" fill="#f67c4a"/><rect x="231.9" width="3.6" height="108.6" fill="#f26841"/><rect x="234.9" width="3.6" height="108.6" fill="#f99053"/><rect x="237.9" width="3.6" height="108.6" fill="#e95639"/><rect x="241.0" width="3.6" height="108.6" fill="#fdc072"/><rect x="244.0" width="3.6" height="108.6" fill="#fca85e"/><rect x="247.0" width="3.6" height="108.6" fill="#b81226"/><rect x="250.1" width="3.6" height="108.6" fill="#e04330"/><rect x="253.1" width="3.6" height="108.6" fill="#d42e27"/><rect x="256.1" width="3.6" height="108.6" fill="#be1826"/><rect x="259.2" width="3.6" height="108.6" fill="#fee496"/><rect x="262.2" width="3.6" height="108.6" fill="#f98f53"/><rect x="265.2" width="3.6" height="108.6" fill="#fed485"/><rect x="268.3" width="3.6" height="108.6" fill="#f67848"/><rect x="271.3" width="3.6" height="108.6" fill="#f0643f"/><rect x="274.3" width="3.6" height="108.6" fill="#e75236"/><rect x="277.4" width="3.6" height="108.6" fill="#c21c27"/><rect x="280.4" width="3.6" height="108.6" fill="#de3f2e"/><rect x="283.4" width="3.6" height="108.6" fill="#d42d27"/><rect x="286.5" width="3.6" height="108.6" fill="#fdad61"/><rect x="289.5" width="3.6" height="108.6" fill="#b81226"/><rect x="292.5" width="3.6" height="108.6" fill="#b81226"/><rect x="295.6" width="3.6" height="108.6" fill="#d42d27"/><rect x="298.6" width="3.6" height="108.6" fill="#c21c27"/><rect x="301.6" width="3.6" height="108.6" fill="#b81226"/><rect x="304.7" width="3.6" height="108.6" fill="#f98f53"/><rect x="307.7" width="3.6" height="108.6" fill="#f67848"/><rect x="310.7" width="3.6" height="108.6" fill="#f0643f"/><rect x="313.8" width="3.6" height="108.6" fill="#e75236"/><rect x="316.8" width="3.6" height="108.6" fill="#de3f2e"/><rect x="319.8" width="3.6" height="108.6" fill="#fdad61"/><rect x="322.9" width="3.6" height="108.6" fill="#b81226"/><rect x="325.9" width="3.6" height="108.6" fill="#fed485"/><rect x="328.9" width="3.6" height="108.6" fill="#de3f2e"/><rect x="332.0" width="3.6" height="108.6" fill="#fed485"/><rect x="335.0" width="3.6" height="108.6" fill="#fdad61"/><rect x="338.0" width="3.6" height="108.6" fill="#b81226"/><rect x="341.1" width="3.6" height="108.6" fill="#d42d27"/><rect x="344.1" width="3.6" height="108.6" fill="#c21c27"/><rect x="347.2" width="3.6" height="108.6" fill="#b81226"/><rect x="350.2" width="3.6" height="108.6" fill="#f0643f"/><rect x="353.2" width="3.6" height="108.6" fill="#e75236"/><rect x="356.3" width="3.6" height="108.6" fill="#f98f53"/><rect x="359.3" width="3.6" height="108.6" fill="#f67848"/><rect x="362.3" width="3.6" height="108.6" fill="#ef623e"/><rect x="365.4" width="3.6" height="108.6" fill="#e54e35"/><rect x="368.4" width="3.6" height="108.6" fill="#feea9f"/><rect x="371.4" width="3.6" height="108.6" fill="#fec97a"/><rect x="374.5" width="3.6" height="108.6" fill="#fdb265"/><rect x="377.5" width="3.6" height="108.6" fill="#fb9c59"/><rect x="380.5" width="3.6" height="108.6" fill="#f8884f"/><rect x="383.6" width="3.6" height="108.6" fill="#f57446"/><rect x="386.6" width="3.6" height="108.6" fill="#db382b"/><rect x="389.6" width="3.6" height="108.6" fill="#c72127"/><rect x="392.7" width="3.6" height="108.6" fill="#b81226"/><rect x="395.7" width="3.6" height="108.6" fill="#e54e35"/><rect x="398.7" width="3.6" height="108.6" fill="#feea9f"/><rect x="401.8" width="3.6" height="108.6" fill="#fec97a"/><rect x="404.8" width="3.6" height="108.6" fill="#ef623e"/><rect x="407.8" width="3.6" height="108.6" fill="#db382b"/><rect x="410.9" width="3.6" height="108.6" fill="#f57446"/><rect x="413.9" width="3.6" height="108.6" fill="#c72127"/><rect x="416.9" width="3.6" height="108.6" fill="#b81226"/><rect x="420.0" width="3.6" height="108.6" fill="#fdb265"/><rect x="423.0" width="3.6" height="108.6" fill="#fb9c59"/><rect x="426.0" width="3.6" height="108.6" fill="#f8884f"/><rect x="429.1" width="3.6" height="108.6" fill="#f8884f"/><rect x="432.1" width="3.6" height="108.6" fill="#f57446"/><rect x="435.1" width="3.6" height="108.6" fill="#feea9f"/><rect x="438.2" width="3.6" height="108.6" fill="#ef623e"/><rect x="441.2" width="3.6" height="108.6" fill="#fdb265"/><rect x="444.2" width="3.6" height="108.6" fill="#fb9c59"/><rect x="447.3" width="3.6" height="108.6" fill="#fec97a"/><rect x="450.3" width="3.6" height="108.6" fill="#b81226"/><rect x="453.3" width="3.6" height="108.6" fill="#e54e35"/><rect x="456.4" width="3.6" height="108.6" fill="#db382b"/><rect x="459.4" width="3.6" height="108.6" fill="#c72127"/><rect x="462.4" width="3.6" height="108.6" fill="#fedd8d"/><rect x="465.5" width="3.6" height="108.6" fill="#b81226"/><rect x="468.5" width="3.6" height="108.6" fill="#b81226"/><rect x="471.5" width="3.6" height="108.6" fill="#fdb669"/><rect x="474.6" width="3.6" height="108.6" fill="#db372a"/><rect x="477.6" width="3.6" height="108.6" fill="#cb2527"/><rect x="480.6" width="3.6" height="108.6" fill="#e44b33"/><rect x="483.7" width="3.6" height="108.6" fill="#ec5d3c"/><rect x="486.7" width="3.6" height="108.6" fill="#fa9b58"/><rect x="489.7" width="3.6" height="108.6" fill="#f7844e"/><rect x="492.8" width="3.6" height="108.6" fill="#f47044"/><rect x="495.8" width="3.6" height="108.6" fill="#ec5d3c"/><rect x="498.8" width="3.6" height="108.6" fill="#e44b33"/><rect x="501.9" width="3.6" height="108.6" fill="#db372a"/><rect x="504.9" width="3.6" height="108.6" fill="#fdb669"/><rect x="507.9" width="3.6" height="108.6" fill="#fedd8d"/><rect x="511.0" width="3.6" height="108.6" fill="#f47044"/><rect x="514.0" width="3.6" height="108.6" fill="#f7844e"/><rect x="517.0" width="3.6" height="108.6" fill="#b81226"/><rect x="520.1" width="3.6" height="108.6" fill="#cb2527"/><rect x="523.1" width="3.6" height="108.6" fill="#b81226"/><rect x="526.1" width="3.6" height="108.6" fill="#fa9b58"/><rect x="529.2" width="3.6" height="108.6" fill="#fedd8d"/><rect x="532.2" width="3.6" height="108.6" fill="#db372a"/><rect x="535.2" width="3.6" height="108.6" fill="#cb2527"/><rect x="538.3" width="3.6" height="108.6" fill="#e44b33"/><rect x="541.3" width="3.6" height="108.6" fill="#ec5d3c"/><rect x="544.3" width="3.6" height="108.6" fill="#fdb669"/><rect x="547.4" width="3.6" height="108.6" fill="#fa9b58"/><rect x="550.4" width="3.6" height="108.6" fill="#f7844e"/><rect x="553.4" width="3.6" height="108.6" fill="#f47044"/><rect x="556.5" width="3.6" height="108.6" fill="#b81226"/><rect x="559.5" width="3.6" height="108.6" fill="#b81226"/><rect x="562.5" width="3.6" height="108.6" fill="#ec5d3c"/><rect x="565.6" width="3.6" height="108.6" fill="#b81226"/><rect x="568.6" width="3.6" height="108.6" fill="#b81226"/><rect x="571.6" width="3.6" height="108.6" fill="#fedd8d"/><rect x="574.7" width="3.6" height="108.6" fill="#fdb669"/><rect x="577.7" width="3.6" height="108.6" fill="#fa9b58"/><rect x="580.7" width="3.6" height="108.6" fill="#f7844e"/><rect x="583.8" width="3.6" height="108.6" fill="#f47044"/><rect x="586.8" width="3.6" height="108.6" fill="#e44b33"/><rect x="589.8" width="3.6" height="108.6" fill="#db372a"/><rect x="592.9" width="3.6" height="108.6" fill="#cb2527"/><rect x="595.9" width="3.6" height="108.6" fill="#ec5d3c"/><rect x="598.9" width="3.6" height="108.6" fill="#b81226"/><rect x="602.0" width="3.6" height="108.6" fill="#e44b33"/><rect x="605.0" width="3.6" height="108.6" fill="#db372a"/><rect x="608.0" width="3.6" height="108.6" fill="#fa9b58"/><rect x="611.1" width="3.6" height="108.6" fill="#f7844e"/><rect x="614.1" width="3.6" height="108.6" fill="#f47044"/><rect x="617.1" width="3.6" height="108.6" fill="#cb2527"/><rect x="620.2" width="3.6" height="108.6" fill="#b81226"/><rect x="623.2" width="3.6" height="108.6" fill="#fdb669"/><rect x="626.2" width="3.6" height="108.6" fill="#fedd8d"/><rect x="629.3" width="3.6" height="108.6" fill="#d42e27"/><rect x="632.3" width="3.6" height="108.6" fill="#be1826"/><rect x="635.3" width="3.6" height="108.6" fill="#e04330"/><rect x="638.4" width="3.6" height="108.6" fill="#f26841"/><rect x="641.4" width="3.6" height="108.6" fill="#e95639"/><rect x="644.4" width="3.6" height="108.6" fill="#fee496"/><rect x="647.5" width="3.6" height="108.6" fill="#fdc072"/><rect x="650.5" width="3.6" height="108.6" fill="#fca85e"/><rect x="653.5" width="3.6" height="108.6" fill="#f99053"/><rect x="656.6" width="3.6" height="108.6" fill="#f67c4a"/><rect x="659.6" width="3.6" height="108.6" fill="#b81226"/><rect x="662.6" width="3.6" height="108.6" fill="#f99053"/><rect x="665.7" width="3.6" height="108.6" fill="#f67c4a"/><rect x="668.7" width="3.6" height="108.6" fill="#b81226"/><rect x="671.7" width="3.6" height="108.6" fill="#e04330"/><rect x="674.8" width="3.6" height="108.6" fill="#d42e27"/><rect x="677.8" width="3.6" height="108.6" fill="#be1826"/><rect x="680.8" width="3.6" height="108.6" fill="#f26841"/><rect x="683.9" width="3.6" height="108.6" fill="#e95639"/><rect x="686.9" width="3.6" height="108.6" fill="#fee496"/><rect x="689.9" width="3.6" height="108.6" fill="#fdc072"/><rect x="693.0" width="3.6" height="108.6" fill="#fca85e"/><rect x="696.0" width="3.6" height="108.6" fill="#fee496"/><rect x="699.0" width="3.6" height="108.6" fill="#f26841"/><rect x="702.1" width="3.6" height="108.6" fill="#e95639"/><rect x="705.1" width="3.6" height="108.6" fill="#d42e27"/><rect x="708.1" width="3.6" height="108.6" fill="#be1826"/><rect x="711.2" width="3.6" height="108.6" fill="#b81226"/><rect x="714.2" width="3.6" height="108.6" fill="#f99053"/><rect x="717.3" width="3.6" height="108.6" fill="#f67c4a"/><rect x="720.3" width="3.6" height="108.6" fill="#fdc072"/><rect x="723.3" width="3.6" height="108.6" fill="#fca85e"/><rect x="726.4" width="3.6" height="108.6" fill="#e04330"/><rect x="729.4" width="3.6" height="108.6" fill="#fa9b58"/><rect x="732.4" width="3.6" height="108.6" fill="#f7844e"/><rect x="735.5" width="3.6" height="108.6" fill="#f47044"/><rect x="738.5" width="3.6" height="108.6" fill="#cb2527"/><rect x="741.5" width="3.6" height="108.6" fill="#b81226"/><rect x="744.6" width="3.6" height="108.6" fill="#ec5d3c"/><rect x="747.6" width="3.6" height="108.6" fill="#fedd8d"/><rect x="750.6" width="3.6" height="108.6" fill="#fdb669"/><rect x="753.7" width="3.6" height="108.6" fill="#e44b33"/><rect x="756.7" width="3.6" height="108.6" fill="#db372a"/><rect x="759.7" width="3.6" height="108.6" fill="#b81226"/><rect x="762.8" width="3.6" height="108.6" fill="#e44b33"/><rect x="765.8" width="3.6" height="108.6" fill="#db372a"/><rect x="768.8" width="3.6" height="108.6" fill="#cb2527"/><rect x="771.9" width="3.6" height="108.6" fill="#ec5d3c"/><rect x="774.9" width="3.6" height="108.6" fill="#b81226"/><rect x="777.9" width="3.6" height="108.6" fill="#b81226"/><rect x="781.0" width="3.6" height="108.6" fill="#fa9b58"/><rect x="784.0" width="3.6" height="108.6" fill="#f7844e"/><rect x="787.0" width="3.6" height="108.6" fill="#f47044"/><rect x="790.1" width="3.6" height="108.6" fill="#fedd8d"/><rect x="793.1" width="3.6" height="108.6" fill="#fdb669"/><rect x="796.1" width="3.6" height="108.6" fill="#b81226"/><rect x="799.2" width="3.6" height="108.6" fill="#fedd8d"/><rect x="802.2" width="3.6" height="108.6" fill="#fdb669"/><rect x="805.2" width="3.6" height="108.6" fill="#fa9b58"/><rect x="808.3" width="3.6" height="108.6" fill="#ec5d3c"/><rect x="811.3" width="3.6" height="108.6" fill="#e44b33"/><rect x="814.3" width="3.6" height="108.6" fill="#f7844e"/><rect x="817.4" width="3.6" height="108.6" fill="#f47044"/><rect x="820.4" width="3.6" height="108.6" fill="#cb2527"/><rect x="823.4" width="3.6" height="108.6" fill="#b81226"/><rect x="826.5" width="3.6" height="108.6" fill="#db372a"/><rect x="829.5" width="3.6" height="108.6" fill="#f99053"/><rect x="832.5" width="3.6" height="108.6" fill="#be1826"/><rect x="835.6" width="3.6" height="108.6" fill="#d42e27"/><rect x="838.6" width="3.6" height="108.6" fill="#b81226"/><rect x="841.6" width="3.6" height="108.6" fill="#e95639"/><rect x="844.7" width="3.6" height="108.6" fill="#f67c4a"/><rect x="847.7" width="3.6" height="108.6" fill="#fee496"/><rect x="850.7" width="3.6" height="108.6" fill="#fdc072"/><rect x="853.8" width="3.6" height="108.6" fill="#e04330"/><rect x="856.8" width="3.6" height="108.6" fill="#f26841"/><rect x="859.8" width="3.6" height="108.6" fill="#fca85e"/><rect x="862.9" width="3.6" height="108.6" fill="#ed5e3c"/><rect x="865.9" width="3.6" height="108.6" fill="#fba15b"/><rect x="868.9" width="3.6" height="108.6" fill="#f88950"/><rect x="872.0" width="3.6" height="108.6" fill="#f57346"/><rect x="875.0" width="3.6" height="108.6" fill="#fee293"/><rect x="878.0" width="3.6" height="108.6" fill="#e34a33"/><rect x="881.1" width="3.6" height="108.6" fill="#d83328"/><rect x="884.1" width="3.6" height="108.6" fill="#c21c27"/><rect x="887.1" width="3.6" height="108.6" fill="#fdbc6e"/><rect x="890.2" width="3.6" height="108.6" fill="#b81226"/></g><g transform="translate(0,792.13)"><rect x="162.1" width="3.6" height="108.6" fill="#c51f27"/><rect x="165.1" width="3.6" height="108.6" fill="#fca95f"/><rect x="168.2" width="3.6" height="108.6" fill="#fa9857"/><rect x="171.2" width="3.6" height="108.6" fill="#f67948"/><rect x="174.2" width="3.6" height="108.6" fill="#f26841"/><rect x="177.3" width="3.6" height="108.6" fill="#f88850"/><rect x="180.3" width="3.6" height="108.6" fill="#e95739"/><rect x="183.3" width="3.6" height="108.6" fill="#fdb96b"/><rect x="186.4" width="3.6" height="108.6" fill="#df402e"/><rect x="189.4" width="3.6" height="108.6" fill="#fee69a"/><rect x="192.4" width="3.6" height="108.6" fill="#fecb7c"/><rect x="195.5" width="3.6" height="108.6" fill="#fdb96b"/><rect x="198.5" width="3.6" height="108.6" fill="#fca95f"/><rect x="201.5" width="3.6" height="108.6" fill="#f67948"/><rect x="204.6" width="3.6" height="108.6" fill="#fee69a"/><rect x="207.6" width="3.6" height="108.6" fill="#fecb7c"/><rect x="210.6" width="3.6" height="108.6" fill="#f26841"/><rect x="213.7" width="3.6" height="108.6" fill="#e95739"/><rect x="216.7" width="3.6" height="108.6" fill="#df402e"/><rect x="219.7" width="3.6" height="108.6" fill="#c51f27"/><rect x="222.8" width="3.6" height="108.6" fill="#fa9857"/><rect x="225.8" width="3.6" height="108.6" fill="#f88850"/><rect x="228.8" width="3.6" height="108.6" fill="#fa9857"/><rect x="231.9" width="3.6" height="108.6" fill="#c51f27"/><rect x="234.9" width="3.6" height="108.6" fill="#fee69a"/><rect x="237.9" width="3.6" height="108.6" fill="#fecb7c"/><rect x="241.0" width="3.6" height="108.6" fill="#f88850"/><rect x="244.0" width="3.6" height="108.6" fill="#f67948"/><rect x="247.0" width="3.6" height="108.6" fill="#f26841"/><rect x="250.1" width="3.6" height="108.6" fill="#e95739"/><rect x="253.1" width="3.6" height="108.6" fill="#df402e"/><rect x="256.1" width="3.6" height="108.6" fill="#fca95f"/><rect x="259.2" width="3.6" height="108.6" fill="#fdb96b"/><rect x="262.2" width="3.6" height="108.6" fill="#f57446"/><rect x="265.2" width="3.6" height="108.6" fill="#e44b34"/><rect x="268.3" width="3.6" height="108.6" fill="#ce2827"/><rect x="271.3" width="3.6" height="108.6" fill="#fed485"/><rect x="274.3" width="3.6" height="108.6" fill="#fdc274"/><rect x="277.4" width="3.6" height="108.6" fill="#fdb366"/><rect x="280.4" width="3.6" height="108.6" fill="#fca45d"/><rect x="283.4" width="3.6" height="108.6" fill="#ef623e"/><rect x="286.5" width="3.6" height="108.6" fill="#feeca3"/><rect x="289.5" width="3.6" height="108.6" fill="#f99555"/><rect x="292.5" width="3.6" height="108.6" fill="#f7854e"/><rect x="295.6" width="3.6" height="108.6" fill="#fca45d"/><rect x="298.6" width="3.6" height="108.6" fill="#f99555"/><rect x="301.6" width="3.6" height="108.6" fill="#fdb366"/><rect x="304.7" width="3.6" height="108.6" fill="#fed485"/><rect x="307.7" width="3.6" height="108.6" fill="#fdc274"/><rect x="310.7" width="3.6" height="108.6" fill="#feeca3"/><rect x="313.8" width="3.6" height="108.6" fill="#ef623e"/><rect x="316.8" width="3.6" height="108.6" fill="#e44b34"/><rect x="319.8" width="3.6" height="108.6" fill="#ce2827"/><rect x="322.9" width="3.6" height="108.6" fill="#f7854e"/><rect x="325.9" width="3.6" height="108.6" fill="#f57446"/><rect x="328.9" width="3.6" height="108.6" fill="#f57446"/><rect x="332.0" width="3.6" height="108.6" fill="#fed485"/><rect x="335.0" width="3.6" height="108.6" fill="#fdc274"/><rect x="338.0" width="3.6" height="108.6" fill="#ef623e"/><rect x="341.1" width="3.6" height="108.6" fill="#e44b34"/><rect x="344.1" width="3.6" height="108.6" fill="#ce2827"/><rect x="347.2" width="3.6" height="108.6" fill="#fdb366"/><rect x="350.2" width="3.6" height="108.6" fill="#feeca3"/><rect x="353.2" width="3.6" height="108.6" fill="#fca45d"/><rect x="356.3" width="3.6" height="108.6" fill="#f99555"/><rect x="359.3" width="3.6" height="108.6" fill="#f7854e"/><rect x="362.3" width="3.6" height="108.6" fill="#fdc678"/><rect x="365.4" width="3.6" height="108.6" fill="#fdb96c"/><rect x="368.4" width="3.6" height="108.6" fill="#fdad60"/><rect x="371.4" width="3.6" height="108.6" fill="#dd3c2c"/><rect x="374.5" width="3.6" height="108.6" fill="#f88c51"/><rect x="377.5" width="3.6" height="108.6" fill="#f67949"/><rect x="380.5" width="3.6" height="108.6" fill="#ef623e"/><rect x="383.6" width="3.6" height="108.6" fill="#fee497"/><rect x="386.6" width="3.6" height="108.6" fill="#fed585"/><rect x="389.6" width="3.6" height="108.6" fill="#fff8b4"/><rect x="392.7" width="3.6" height="108.6" fill="#fb9d59"/><rect x="395.7" width="3.6" height="108.6" fill="#fff8b4"/><rect x="398.7" width="3.6" height="108.6" fill="#fee497"/><rect x="401.8" width="3.6" height="108.6" fill="#fed585"/><rect x="404.8" width="3.6" height="108.6" fill="#fdad60"/><rect x="407.8" width="3.6" height="108.6" fill="#fb9d59"/><rect x="410.9" width="3.6" height="108.6" fill="#fdc678"/><rect x="413.9" width="3.6" height="108.6" fill="#fdb96c"/><rect x="416.9" width="3.6" height="108.6" fill="#f67949"/><rect x="420.0" width="3.6" height="108.6" fill="#ef623e"/><rect x="423.0" width="3.6" height="108.6" fill="#f88c51"/><rect x="426.0" width="3.6" height="108.6" fill="#dd3c2c"/><rect x="429.1" width="3.6" height="108.6" fill="#f88c51"/><rect x="432.1" width="3.6" height="108.6" fill="#f67949"/><rect x="435.1" width="3.6" height="108.6" fill="#fdad60"/><rect x="438.2" width="3.6" height="108.6" fill="#ef623e"/><rect x="441.2" width="3.6" height="108.6" fill="#fdb96c"/><rect x="444.2" width="3.6" height="108.6" fill="#fb9d59"/><rect x="447.3" width="3.6" height="108.6" fill="#fdc678"/><rect x="450.3" width="3.6" height="108.6" fill="#dd3c2c"/><rect x="453.3" width="3.6" height="108.6" fill="#fff8b4"/><rect x="456.4" width="3.6" height="108.6" fill="#fee497"/><rect x="459.4" width="3.6" height="108.6" fill="#fed585"/><rect x="462.4" width="3.6" height="108.6" fill="#f46e43"/><rect x="465.5" width="3.6" height="108.6" fill="#e24732"/><rect x="468.5" width="3.6" height="108.6" fill="#fffebd"/><rect x="471.5" width="3.6" height="108.6" fill="#feea9f"/><rect x="474.6" width="3.6" height="108.6" fill="#fa9857"/><rect x="477.6" width="3.6" height="108.6" fill="#f7864e"/><rect x="480.6" width="3.6" height="108.6" fill="#fede8e"/><rect x="483.7" width="3.6" height="108.6" fill="#fecf80"/><rect x="486.7" width="3.6" height="108.6" fill="#fdb669"/><rect x="489.7" width="3.6" height="108.6" fill="#fca95f"/><rect x="492.8" width="3.6" height="108.6" fill="#fdc374"/><rect x="495.8" width="3.6" height="108.6" fill="#fa9857"/><rect x="498.8" width="3.6" height="108.6" fill="#f7864e"/><rect x="501.9" width="3.6" height="108.6" fill="#feea9f"/><rect x="504.9" width="3.6" height="108.6" fill="#fede8e"/><rect x="507.9" width="3.6" height="108.6" fill="#f46e43"/><rect x="511.0" width="3.6" height="108.6" fill="#e24732"/><rect x="514.0" width="3.6" height="108.6" fill="#fffebd"/><rect x="517.0" width="3.6" height="108.6" fill="#fecf80"/><rect x="520.1" width="3.6" height="108.6" fill="#fdc374"/><rect x="523.1" width="3.6" height="108.6" fill="#fdb669"/><rect x="526.1" width="3.6" height="108.6" fill="#fca95f"/><rect x="529.2" width="3.6" height="108.6" fill="#fee69a"/><rect x="532.2" width="3.6" height="108.6" fill="#fecb7c"/><rect x="535.2" width="3.6" height="108.6" fill="#f26841"/><rect x="538.3" width="3.6" height="108.6" fill="#e95739"/><rect x="541.3" width="3.6" height="108.6" fill="#f88850"/><rect x="544.3" width="3.6" height="108.6" fill="#f67948"/><rect x="547.4" width="3.6" height="108.6" fill="#fdb96b"/><rect x="550.4" width="3.6" height="108.6" fill="#fca95f"/><rect x="553.4" width="3.6" height="108.6" fill="#fa9857"/><rect x="556.5" width="3.6" height="108.6" fill="#df402e"/><rect x="559.5" width="3.6" height="108.6" fill="#c51f27"/><rect x="562.5" width="3.6" height="108.6" fill="#f67948"/><rect x="565.6" width="3.6" height="108.6" fill="#f26841"/><rect x="568.6" width="3.6" height="108.6" fill="#f88850"/><rect x="571.6" width="3.6" height="108.6" fill="#fee69a"/><rect x="574.7" width="3.6" height="108.6" fill="#fecb7c"/><rect x="577.7" width="3.6" height="108.6" fill="#fdb96b"/><rect x="580.7" width="3.6" height="108.6" fill="#fca95f"/><rect x="583.8" width="3.6" height="108.6" fill="#fa9857"/><rect x="586.8" width="3.6" height="108.6" fill="#c51f27"/><rect x="589.8" width="3.6" height="108.6" fill="#e95739"/><rect x="592.9" width="3.6" height="108.6" fill="#df402e"/><rect x="595.9" width="3.6" height="108.6" fill="#e95739"/><rect x="598.9" width="3.6" height="108.6" fill="#f88850"/><rect x="602.0" width="3.6" height="108.6" fill="#f67948"/><rect x="605.0" width="3.6" height="108.6" fill="#df402e"/><rect x="608.0" width="3.6" height="108.6" fill="#c51f27"/><rect x="611.1" width="3.6" height="108.6" fill="#f26841"/><rect x="614.1" width="3.6" height="108.6" fill="#fee69a"/><rect x="617.1" width="3.6" height="108.6" fill="#fecb7c"/><rect x="620.2" width="3.6" height="108.6" fill="#fca95f"/><rect x="623.2" width="3.6" height="108.6" fill="#fa9857"/><rect x="626.2" width="3.6" height="108.6" fill="#fdb96b"/><rect x="629.3" width="3.6" height="108.6" fill="#e95739"/><rect x="632.3" width="3.6" height="108.6" fill="#f7804c"/><rect x="635.3" width="3.6" height="108.6" fill="#f46d43"/><rect x="638.4" width="3.6" height="108.6" fill="#fdbd6f"/><rect x="641.4" width="3.6" height="108.6" fill="#fff2ab"/><rect x="644.4" width="3.6" height="108.6" fill="#fede8e"/><rect x="647.5" width="3.6" height="108.6" fill="#fecb7c"/><rect x="650.5" width="3.6" height="108.6" fill="#fdb063"/><rect x="653.5" width="3.6" height="108.6" fill="#fba15b"/><rect x="656.6" width="3.6" height="108.6" fill="#f99154"/><rect x="659.6" width="3.6" height="108.6" fill="#d73127"/><rect x="662.6" width="3.6" height="108.6" fill="#f99154"/><rect x="665.7" width="3.6" height="108.6" fill="#d73127"/><rect x="668.7" width="3.6" height="108.6" fill="#fecb7c"/><rect x="671.7" width="3.6" height="108.6" fill="#fdbd6f"/><rect x="674.8" width="3.6" height="108.6" fill="#fdb063"/><rect x="677.8" width="3.6" height="108.6" fill="#fff2ab"/><rect x="680.8" width="3.6" height="108.6" fill="#fede8e"/><rect x="683.9" width="3.6" height="108.6" fill="#f46d43"/><rect x="686.9" width="3.6" height="108.6" fill="#e95739"/><rect x="689.9" width="3.6" height="108.6" fill="#fba15b"/><rect x="693.0" width="3.6" height="108.6" fill="#f7804c"/><rect x="696.0" width="3.6" height="108.6" fill="#fecb7c"/><rect x="699.0" width="3.6" height="108.6" fill="#fdbd6f"/><rect x="702.1" width="3.6" height="108.6" fill="#f7804c"/><rect x="705.1" width="3.6" height="108.6" fill="#f46d43"/><rect x="708.1" width="3.6" height="108.6" fill="#e95739"/><rect x="711.2" width="3.6" height="108.6" fill="#fff2ab"/><rect x="714.2" width="3.6" height="108.6" fill="#fdb063"/><rect x="717.3" width="3.6" height="108.6" fill="#fede8e"/><rect x="720.3" width="3.6" height="108.6" fill="#d73127"/><rect x="723.3" width="3.6" height="108.6" fill="#fba15b"/><rect x="726.4" width="3.6" height="108.6" fill="#f99154"/><rect x="729.4" width="3.6" height="108.6" fill="#fca45d"/><rect x="732.4" width="3.6" height="108.6" fill="#f99555"/><rect x="735.5" width="3.6" height="108.6" fill="#fdb366"/><rect x="738.5" width="3.6" height="108.6" fill="#e44b34"/><rect x="741.5" width="3.6" height="108.6" fill="#ce2827"/><rect x="744.6" width="3.6" height="108.6" fill="#f57446"/><rect x="747.6" width="3.6" height="108.6" fill="#fed485"/><rect x="750.6" width="3.6" height="108.6" fill="#fdc274"/><rect x="753.7" width="3.6" height="108.6" fill="#feeca3"/><rect x="756.7" width="3.6" height="108.6" fill="#ef623e"/><rect x="759.7" width="3.6" height="108.6" fill="#f7854e"/><rect x="762.8" width="3.6" height="108.6" fill="#f99555"/><rect x="765.8" width="3.6" height="108.6" fill="#f7854e"/><rect x="768.8" width="3.6" height="108.6" fill="#fdb366"/><rect x="771.9" width="3.6" height="108.6" fill="#fca45d"/><rect x="774.9" width="3.6" height="108.6" fill="#f57446"/><rect x="777.9" width="3.6" height="108.6" fill="#ef623e"/><rect x="781.0" width="3.6" height="108.6" fill="#feeca3"/><rect x="784.0" width="3.6" height="108.6" fill="#fed485"/><rect x="787.0" width="3.6" height="108.6" fill="#fdc274"/><rect x="790.1" width="3.6" height="108.6" fill="#e44b34"/><rect x="793.1" width="3.6" height="108.6" fill="#ce2827"/><rect x="796.1" width="3.6" height="108.6" fill="#fdb366"/><rect x="799.2" width="3.6" height="108.6" fill="#fca45d"/><rect x="802.2" width="3.6" height="108.6" fill="#f99555"/><rect x="805.2" width="3.6" height="108.6" fill="#fdc274"/><rect x="808.3" width="3.6" height="108.6" fill="#feeca3"/><rect x="811.3" width="3.6" height="108.6" fill="#fed485"/><rect x="814.3" width="3.6" height="108.6" fill="#e44b34"/><rect x="817.4" width="3.6" height="108.6" fill="#ce2827"/><rect x="820.4" width="3.6" height="108.6" fill="#f7854e"/><rect x="823.4" width="3.6" height="108.6" fill="#f57446"/><rect x="826.5" width="3.6" height="108.6" fill="#ef623e"/><rect x="829.5" width="3.6" height="108.6" fill="#f88c51"/><rect x="832.5" width="3.6" height="108.6" fill="#f67c4a"/><rect x="835.6" width="3.6" height="108.6" fill="#fee191"/><rect x="838.6" width="3.6" height="108.6" fill="#ec5d3c"/><rect x="841.6" width="3.6" height="108.6" fill="#e44b33"/><rect x="844.7" width="3.6" height="108.6" fill="#fdc274"/><rect x="847.7" width="3.6" height="108.6" fill="#fdaf62"/><rect x="850.7" width="3.6" height="108.6" fill="#fb9d59"/><rect x="853.8" width="3.6" height="108.6" fill="#f46d43"/><rect x="856.8" width="3.6" height="108.6" fill="#d93529"/><rect x="859.8" width="3.6" height="108.6" fill="#bc1626"/><rect x="862.9" width="3.6" height="108.6" fill="#db392b"/><rect x="865.9" width="3.6" height="108.6" fill="#f7854e"/><rect x="868.9" width="3.6" height="108.6" fill="#f57446"/><rect x="872.0" width="3.6" height="108.6" fill="#ef633e"/><rect x="875.0" width="3.6" height="108.6" fill="#be1826"/><rect x="878.0" width="3.6" height="108.6" fill="#fedf8f"/><rect x="881.1" width="3.6" height="108.6" fill="#fdbf71"/><rect x="884.1" width="3.6" height="108.6" fill="#e65036"/><rect x="887.1" width="3.6" height="108.6" fill="#fdab5f"/><rect x="890.2" width="3.6" height="108.6" fill="#fa9756"/></g><g transform="translate(0,900.26)"><rect x="162.1" width="3.6" height="108.6" fill="#f7804c"/><rect x="165.1" width="3.6" height="108.6" fill="#f57145"/><rect x="168.2" width="3.6" height="108.6" fill="#fdb164"/><rect x="171.2" width="3.6" height="108.6" fill="#fba05a"/><rect x="174.2" width="3.6" height="108.6" fill="#f99053"/><rect x="177.3" width="3.6" height="108.6" fill="#ef623e"/><rect x="180.3" width="3.6" height="108.6" fill="#e65036"/><rect x="183.3" width="3.6" height="108.6" fill="#fdc375"/><rect x="186.4" width="3.6" height="108.6" fill="#dc3b2c"/><rect x="189.4" width="3.6" height="108.6" fill="#c11b27"/><rect x="192.4" width="3.6" height="108.6" fill="#fee191"/><rect x="195.5" width="3.6" height="108.6" fill="#f57145"/><rect x="198.5" width="3.6" height="108.6" fill="#ef623e"/><rect x="201.5" width="3.6" height="108.6" fill="#c11b27"/><rect x="204.6" width="3.6" height="108.6" fill="#e65036"/><rect x="207.6" width="3.6" height="108.6" fill="#dc3b2c"/><rect x="210.6" width="3.6" height="108.6" fill="#fee191"/><rect x="213.7" width="3.6" height="108.6" fill="#fdc375"/><rect x="216.7" width="3.6" height="108.6" fill="#fdb164"/><rect x="219.7" width="3.6" height="108.6" fill="#fba05a"/><rect x="222.8" width="3.6" height="108.6" fill="#f99053"/><rect x="225.8" width="3.6" height="108.6" fill="#f7804c"/><rect x="228.8" width="3.6" height="108.6" fill="#f99053"/><rect x="231.9" width="3.6" height="108.6" fill="#fee191"/><rect x="234.9" width="3.6" height="108.6" fill="#fba05a"/><rect x="237.9" width="3.6" height="108.6" fill="#ef623e"/><rect x="241.0" width="3.6" height="108.6" fill="#e65036"/><rect x="244.0" width="3.6" height="108.6" fill="#dc3b2c"/><rect x="247.0" width="3.6" height="108.6" fill="#c11b27"/><rect x="250.1" width="3.6" height="108.6" fill="#f7804c"/><rect x="253.1" width="3.6" height="108.6" fill="#f57145"/><rect x="256.1" width="3.6" height="108.6" fill="#fdc375"/><rect x="259.2" width="3.6" height="108.6" fill="#fdb164"/><rect x="262.2" width="3.6" height="108.6" fill="#f7804c"/><rect x="265.2" width="3.6" height="108.6" fill="#f57145"/><rect x="268.3" width="3.6" height="108.6" fill="#fba05a"/><rect x="271.3" width="3.6" height="108.6" fill="#dc3b2c"/><rect x="274.3" width="3.6" height="108.6" fill="#c11b27"/><rect x="277.4" width="3.6" height="108.6" fill="#f99053"/><rect x="280.4" width="3.6" height="108.6" fill="#fee191"/><rect x="283.4" width="3.6" height="108.6" fill="#fdc375"/><rect x="286.5" width="3.6" height="108.6" fill="#fdb164"/><rect x="289.5" width="3.6" height="108.6" fill="#ef623e"/><rect x="292.5" width="3.6" height="108.6" fill="#e65036"/><rect x="295.6" width="3.6" height="108.6" fill="#fdc375"/><rect x="298.6" width="3.6" height="108.6" fill="#fdb164"/><rect x="301.6" width="3.6" height="108.6" fill="#fba05a"/><rect x="304.7" width="3.6" height="108.6" fill="#ef623e"/><rect x="307.7" width="3.6" height="108.6" fill="#fee191"/><rect x="310.7" width="3.6" height="108.6" fill="#f99053"/><rect x="313.8" width="3.6" height="108.6" fill="#f7804c"/><rect x="316.8" width="3.6" height="108.6" fill="#f57145"/><rect x="319.8" width="3.6" height="108.6" fill="#e65036"/><rect x="322.9" width="3.6" height="108.6" fill="#dc3b2c"/><rect x="325.9" width="3.6" height="108.6" fill="#c11b27"/><rect x="328.9" width="3.6" height="108.6" fill="#ef623e"/><rect x="332.0" width="3.6" height="108.6" fill="#e65036"/><rect x="335.0" width="3.6" height="108.6" fill="#f57145"/><rect x="338.0" width="3.6" height="108.6" fill="#fba05a"/><rect x="341.1" width="3.6" height="108.6" fill="#f99053"/><rect x="344.1" width="3.6" height="108.6" fill="#f7804c"/><rect x="347.2" width="3.6" height="108.6" fill="#fee191"/><rect x="350.2" width="3.6" height="108.6" fill="#fdc375"/><rect x="353.2" width="3.6" height="108.6" fill="#fdb164"/><rect x="356.3" width="3.6" height="108.6" fill="#dc3b2c"/><rect x="359.3" width="3.6" height="108.6" fill="#c11b27"/><rect x="362.3" width="3.6" height="108.6" fill="#c11b27"/><rect x="365.4" width="3.6" height="108.6" fill="#f57145"/><rect x="368.4" width="3.6" height="108.6" fill="#ef623e"/><rect x="371.4" width="3.6" height="108.6" fill="#fdb164"/><rect x="374.5" width="3.6" height="108.6" fill="#e65036"/><rect x="377.5" width="3.6" height="108.6" fill="#dc3b2c"/><rect x="380.5" width="3.6" height="108.6" fill="#fba05a"/><rect x="383.6" width="3.6" height="108.6" fill="#f99053"/><rect x="386.6" width="3.6" height="108.6" fill="#fee191"/><rect x="389.6" width="3.6" height="108.6" fill="#fdc375"/><rect x="392.7" width="3.6" height="108.6" fill="#f7804c"/><rect x="395.7" width="3.6" height="108.6" fill="#ef623e"/><rect x="398.7" width="3.6" height="108.6" fill="#e65036"/><rect x="401.8" width="3.6" height="108.6" fill="#dc3b2c"/><rect x="404.8" width="3.6" height="108.6" fill="#c11b27"/><rect x="407.8" width="3.6" height="108.6" fill="#f99053"/><rect x="410.9" width="3.6" height="108.6" fill="#f7804c"/><rect x="413.9" width="3.6" height="108.6" fill="#fee191"/><rect x="416.9" width="3.6" height="108.6" fill="#fdc375"/><rect x="420.0" width="3.6" height="108.6" fill="#fdb164"/><rect x="423.0" width="3.6" height="108.6" fill="#fba05a"/><rect x="426.0" width="3.6" height="108.6" fill="#f57145"/><rect x="429.1" width="3.6" height="108.6" fill="#ef623e"/><rect x="432.1" width="3.6" height="108.6" fill="#f7804c"/><rect x="435.1" width="3.6" height="108.6" fill="#fee191"/><rect x="438.2" width="3.6" height="108.6" fill="#c11b27"/><rect x="441.2" width="3.6" height="108.6" fill="#f57145"/><rect x="444.2" width="3.6" height="108.6" fill="#fdb164"/><rect x="447.3" width="3.6" height="108.6" fill="#fba05a"/><rect x="450.3" width="3.6" height="108.6" fill="#f99053"/><rect x="453.3" width="3.6" height="108.6" fill="#fdc375"/><rect x="456.4" width="3.6" height="108.6" fill="#e65036"/><rect x="459.4" width="3.6" height="108.6" fill="#dc3b2c"/><rect x="462.4" width="3.6" height="108.6" fill="#b81226"/><rect x="465.5" width="3.6" height="108.6" fill="#fca65d"/><rect x="468.5" width="3.6" height="108.6" fill="#fed889"/><rect x="471.5" width="3.6" height="108.6" fill="#e95639"/><rect x="474.6" width="3.6" height="108.6" fill="#e14531"/><rect x="477.6" width="3.6" height="108.6" fill="#d62f27"/><rect x="480.6" width="3.6" height="108.6" fill="#fdba6c"/><rect x="483.7" width="3.6" height="108.6" fill="#f06540"/><rect x="486.7" width="3.6" height="108.6" fill="#f57446"/><rect x="489.7" width="3.6" height="108.6" fill="#f99455"/><rect x="492.8" width="3.6" height="108.6" fill="#f7844d"/><rect x="495.8" width="3.6" height="108.6" fill="#fed889"/><rect x="498.8" width="3.6" height="108.6" fill="#f57446"/><rect x="501.9" width="3.6" height="108.6" fill="#f06540"/><rect x="504.9" width="3.6" height="108.6" fill="#e95639"/><rect x="507.9" width="3.6" height="108.6" fill="#b81226"/><rect x="511.0" width="3.6" height="108.6" fill="#fca65d"/><rect x="514.0" width="3.6" height="108.6" fill="#f99455"/><rect x="517.0" width="3.6" height="108.6" fill="#f7844d"/><rect x="520.1" width="3.6" height="108.6" fill="#e14531"/><rect x="523.1" width="3.6" height="108.6" fill="#fdba6c"/><rect x="526.1" width="3.6" height="108.6" fill="#d62f27"/><rect x="529.2" width="3.6" height="108.6" fill="#ec5c3b"/><rect x="532.2" width="3.6" height="108.6" fill="#fecc7e"/><rect x="535.2" width="3.6" height="108.6" fill="#fdbb6d"/><rect x="538.3" width="3.6" height="108.6" fill="#e14631"/><rect x="541.3" width="3.6" height="108.6" fill="#fee79a"/><rect x="544.3" width="3.6" height="108.6" fill="#f88c52"/><rect x="547.4" width="3.6" height="108.6" fill="#fdac60"/><rect x="550.4" width="3.6" height="108.6" fill="#fa9c59"/><rect x="553.4" width="3.6" height="108.6" fill="#cb2427"/><rect x="556.5" width="3.6" height="108.6" fill="#f67d4a"/><rect x="559.5" width="3.6" height="108.6" fill="#f46d43"/><rect x="562.5" width="3.6" height="108.6" fill="#f88c52"/><rect x="565.6" width="3.6" height="108.6" fill="#fecc7e"/><rect x="568.6" width="3.6" height="108.6" fill="#fdbb6d"/><rect x="571.6" width="3.6" height="108.6" fill="#f67d4a"/><rect x="574.7" width="3.6" height="108.6" fill="#f46d43"/><rect x="577.7" width="3.6" height="108.6" fill="#fee79a"/><rect x="580.7" width="3.6" height="108.6" fill="#fa9c59"/><rect x="583.8" width="3.6" height="108.6" fill="#ec5c3b"/><rect x="586.8" width="3.6" height="108.6" fill="#e14631"/><rect x="589.8" width="3.6" height="108.6" fill="#cb2427"/><rect x="592.9" width="3.6" height="108.6" fill="#fdac60"/><rect x="595.9" width="3.6" height="108.6" fill="#fa9c59"/><rect x="598.9" width="3.6" height="108.6" fill="#f88c52"/><rect x="602.0" width="3.6" height="108.6" fill="#f67d4a"/><rect x="605.0" width="3.6" height="108.6" fill="#fee79a"/><rect x="608.0" width="3.6" height="108.6" fill="#e14631"/><rect x="611.1" width="3.6" height="108.6" fill="#cb2427"/><rect x="614.1" width="3.6" height="108.6" fill="#f46d43"/><rect x="617.1" width="3.6" height="108.6" fill="#fecc7e"/><rect x="620.2" width="3.6" height="108.6" fill="#fdbb6d"/><rect x="623.2" width="3.6" height="108.6" fill="#fdac60"/><rect x="626.2" width="3.6" height="108.6" fill="#ec5c3b"/><rect x="629.3" width="3.6" height="108.6" fill="#fca65d"/><rect x="632.3" width="3.6" height="108.6" fill="#f99455"/><rect x="635.3" width="3.6" height="108.6" fill="#fed889"/><rect x="638.4" width="3.6" height="108.6" fill="#d62f27"/><rect x="641.4" width="3.6" height="108.6" fill="#b81226"/><rect x="644.4" width="3.6" height="108.6" fill="#fdba6c"/><rect x="647.5" width="3.6" height="108.6" fill="#f06540"/><rect x="650.5" width="3.6" height="108.6" fill="#e95639"/><rect x="653.5" width="3.6" height="108.6" fill="#e14531"/><rect x="656.6" width="3.6" height="108.6" fill="#f7844d"/><rect x="659.6" width="3.6" height="108.6" fill="#f57446"/><rect x="662.6" width="3.6" height="108.6" fill="#b81226"/><rect x="665.7" width="3.6" height="108.6" fill="#e14531"/><rect x="668.7" width="3.6" height="108.6" fill="#d62f27"/><rect x="671.7" width="3.6" height="108.6" fill="#fca65d"/><rect x="674.8" width="3.6" height="108.6" fill="#f99455"/><rect x="677.8" width="3.6" height="108.6" fill="#f7844d"/><rect x="680.8" width="3.6" height="108.6" fill="#f57446"/><rect x="683.9" width="3.6" height="108.6" fill="#f06540"/><rect x="686.9" width="3.6" height="108.6" fill="#e95639"/><rect x="689.9" width="3.6" height="108.6" fill="#fed889"/><rect x="693.0" width="3.6" height="108.6" fill="#fdba6c"/><rect x="696.0" width="3.6" height="108.6" fill="#fdba6c"/><rect x="699.0" width="3.6" height="108.6" fill="#fca65d"/><rect x="702.1" width="3.6" height="108.6" fill="#d62f27"/><rect x="705.1" width="3.6" height="108.6" fill="#b81226"/><rect x="708.1" width="3.6" height="108.6" fill="#f06540"/><rect x="711.2" width="3.6" height="108.6" fill="#fed889"/><rect x="714.2" width="3.6" height="108.6" fill="#e95639"/><rect x="717.3" width="3.6" height="108.6" fill="#e14531"/><rect x="720.3" width="3.6" height="108.6" fill="#f57446"/><rect x="723.3" width="3.6" height="108.6" fill="#f99455"/><rect x="726.4" width="3.6" height="108.6" fill="#f7844d"/><rect x="729.4" width="3.6" height="108.6" fill="#fee79a"/><rect x="732.4" width="3.6" height="108.6" fill="#fecc7e"/><rect x="735.5" width="3.6" height="108.6" fill="#f88c52"/><rect x="738.5" width="3.6" height="108.6" fill="#f67d4a"/><rect x="741.5" width="3.6" height="108.6" fill="#f46d43"/><rect x="744.6" width="3.6" height="108.6" fill="#ec5c3b"/><rect x="747.6" width="3.6" height="108.6" fill="#fdbb6d"/><rect x="750.6" width="3.6" height="108.6" fill="#fdac60"/><rect x="753.7" width="3.6" height="108.6" fill="#fa9c59"/><rect x="756.7" width="3.6" height="108.6" fill="#e14631"/><rect x="759.7" width="3.6" height="108.6" fill="#cb2427"/><rect x="762.8" width="3.6" height="108.6" fill="#fee79a"/><rect x="765.8" width="3.6" height="108.6" fill="#f46d43"/><rect x="768.8" width="3.6" height="108.6" fill="#ec5c3b"/><rect x="771.9" width="3.6" height="108.6" fill="#e14631"/><rect x="774.9" width="3.6" height="108.6" fill="#fdac60"/><rect x="777.9" width="3.6" height="108.6" fill="#fa9c59"/><rect x="781.0" width="3.6" height="108.6" fill="#cb2427"/><rect x="784.0" width="3.6" height="108.6" fill="#f88c52"/><rect x="787.0" width="3.6" height="108.6" fill="#f67d4a"/><rect x="790.1" width="3.6" height="108.6" fill="#fecc7e"/><rect x="793.1" width="3.6" height="108.6" fill="#fdbb6d"/><rect x="796.1" width="3.6" height="108.6" fill="#fa9c59"/><rect x="799.2" width="3.6" height="108.6" fill="#f88c52"/><rect x="802.2" width="3.6" height="108.6" fill="#f67d4a"/><rect x="805.2" width="3.6" height="108.6" fill="#ec5c3b"/><rect x="808.3" width="3.6" height="108.6" fill="#cb2427"/><rect x="811.3" width="3.6" height="108.6" fill="#e14631"/><rect x="814.3" width="3.6" height="108.6" fill="#f46d43"/><rect x="817.4" width="3.6" height="108.6" fill="#fdac60"/><rect x="820.4" width="3.6" height="108.6" fill="#fdbb6d"/><rect x="823.4" width="3.6" height="108.6" fill="#fee79a"/><rect x="826.5" width="3.6" height="108.6" fill="#fecc7e"/><rect x="829.5" width="3.6" height="108.6" fill="#fee79a"/><rect x="832.5" width="3.6" height="108.6" fill="#fecc7e"/><rect x="835.6" width="3.6" height="108.6" fill="#fdbb6d"/><rect x="838.6" width="3.6" height="108.6" fill="#fdac60"/><rect x="841.6" width="3.6" height="108.6" fill="#f46d43"/><rect x="844.7" width="3.6" height="108.6" fill="#cb2427"/><rect x="847.7" width="3.6" height="108.6" fill="#fa9c59"/><rect x="850.7" width="3.6" height="108.6" fill="#f88c52"/><rect x="853.8" width="3.6" height="108.6" fill="#f67d4a"/><rect x="856.8" width="3.6" height="108.6" fill="#ec5c3b"/><rect x="859.8" width="3.6" height="108.6" fill="#e14631"/><rect x="862.9" width="3.6" height="108.6" fill="#ee603d"/><rect x="865.9" width="3.6" height="108.6" fill="#e34a33"/><rect x="868.9" width="3.6" height="108.6" fill="#cd2627"/><rect x="872.0" width="3.6" height="108.6" fill="#fec97b"/><rect x="875.0" width="3.6" height="108.6" fill="#fdb769"/><rect x="878.0" width="3.6" height="108.6" fill="#fee598"/><rect x="881.1" width="3.6" height="108.6" fill="#fa9555"/><rect x="884.1" width="3.6" height="108.6" fill="#f7844e"/><rect x="887.1" width="3.6" height="108.6" fill="#f57346"/><rect x="890.2" width="3.6" height="108.6" fill="#fca65d"/></g><g transform="translate(0,1008.39)"><rect x="162.1" width="3.6" height="108.6" fill="#5385bc"/><rect x="165.1" width="3.6" height="108.6" fill="#83b9d8"/><rect x="168.2" width="3.6" height="108.6" fill="#3c57a5"/><rect x="171.2" width="3.6" height="108.6" fill="#4575b4"/><rect x="174.2" width="3.6" height="108.6" fill="#8fc3dd"/><rect x="177.3" width="3.6" height="108.6" fill="#9fcfe4"/><rect x="180.3" width="3.6" height="108.6" fill="#6fa7ce"/><rect x="183.3" width="3.6" height="108.6" fill="#78b1d3"/><rect x="186.4" width="3.6" height="108.6" fill="#b9e0ed"/><rect x="189.4" width="3.6" height="108.6" fill="#5d92c3"/><rect x="192.4" width="3.6" height="108.6" fill="#669dc9"/><rect x="195.5" width="3.6" height="108.6" fill="#9fcfe4"/><rect x="198.5" width="3.6" height="108.6" fill="#83b9d8"/><rect x="201.5" width="3.6" height="108.6" fill="#8fc3dd"/><rect x="204.6" width="3.6" height="108.6" fill="#5385bc"/><rect x="207.6" width="3.6" height="108.6" fill="#b9e0ed"/><rect x="210.6" width="3.6" height="108.6" fill="#5d92c3"/><rect x="213.7" width="3.6" height="108.6" fill="#669dc9"/><rect x="216.7" width="3.6" height="108.6" fill="#6fa7ce"/><rect x="219.7" width="3.6" height="108.6" fill="#78b1d3"/><rect x="222.8" width="3.6" height="108.6" fill="#3c57a5"/><rect x="225.8" width="3.6" height="108.6" fill="#4575b4"/><rect x="228.8" width="3.6" height="108.6" fill="#83b9d8"/><rect x="231.9" width="3.6" height="108.6" fill="#8fc3dd"/><rect x="234.9" width="3.6" height="108.6" fill="#6fa7ce"/><rect x="237.9" width="3.6" height="108.6" fill="#78b1d3"/><rect x="241.0" width="3.6" height="108.6" fill="#b9e0ed"/><rect x="244.0" width="3.6" height="108.6" fill="#5d92c3"/><rect x="247.0" width="3.6" height="108.6" fill="#669dc9"/><rect x="250.1" width="3.6" height="108.6" fill="#9fcfe4"/><rect x="253.1" width="3.6" height="108.6" fill="#3c57a5"/><rect x="256.1" width="3.6" height="108.6" fill="#4575b4"/><rect x="259.2" width="3.6" height="108.6" fill="#5385bc"/><rect x="262.2" width="3.6" height="108.6" fill="#5e92c3"/><rect x="265.2" width="3.6" height="108.6" fill="#669dc9"/><rect x="268.3" width="3.6" height="108.6" fill="#384ca0"/><rect x="271.3" width="3.6" height="108.6" fill="#79b1d3"/><rect x="274.3" width="3.6" height="108.6" fill="#afdbea"/><rect x="277.4" width="3.6" height="108.6" fill="#85bbd8"/><rect x="280.4" width="3.6" height="108.6" fill="#95c7df"/><rect x="283.4" width="3.6" height="108.6" fill="#5487bd"/><rect x="286.5" width="3.6" height="108.6" fill="#416aae"/><rect x="289.5" width="3.6" height="108.6" fill="#4a7bb7"/><rect x="292.5" width="3.6" height="108.6" fill="#6fa7ce"/><rect x="295.6" width="3.6" height="108.6" fill="#4a7bb7"/><rect x="298.6" width="3.6" height="108.6" fill="#5487bd"/><rect x="301.6" width="3.6" height="108.6" fill="#384ca0"/><rect x="304.7" width="3.6" height="108.6" fill="#5e92c3"/><rect x="307.7" width="3.6" height="108.6" fill="#95c7df"/><rect x="310.7" width="3.6" height="108.6" fill="#afdbea"/><rect x="313.8" width="3.6" height="108.6" fill="#416aae"/><rect x="316.8" width="3.6" height="108.6" fill="#669dc9"/><rect x="319.8" width="3.6" height="108.6" fill="#6fa7ce"/><rect x="322.9" width="3.6" height="108.6" fill="#79b1d3"/><rect x="325.9" width="3.6" height="108.6" fill="#85bbd8"/><rect x="328.9" width="3.6" height="108.6" fill="#4a7bb7"/><rect x="332.0" width="3.6" height="108.6" fill="#5487bd"/><rect x="335.0" width="3.6" height="108.6" fill="#5e92c3"/><rect x="338.0" width="3.6" height="108.6" fill="#95c7df"/><rect x="341.1" width="3.6" height="108.6" fill="#afdbea"/><rect x="344.1" width="3.6" height="108.6" fill="#85bbd8"/><rect x="347.2" width="3.6" height="108.6" fill="#79b1d3"/><rect x="350.2" width="3.6" height="108.6" fill="#6fa7ce"/><rect x="353.2" width="3.6" height="108.6" fill="#384ca0"/><rect x="356.3" width="3.6" height="108.6" fill="#416aae"/><rect x="359.3" width="3.6" height="108.6" fill="#669dc9"/><rect x="362.3" width="3.6" height="108.6" fill="#5487bd"/><rect x="365.4" width="3.6" height="108.6" fill="#5e92c3"/><rect x="368.4" width="3.6" height="108.6" fill="#85bbd8"/><rect x="371.4" width="3.6" height="108.6" fill="#95c7df"/><rect x="374.5" width="3.6" height="108.6" fill="#384ca0"/><rect x="377.5" width="3.6" height="108.6" fill="#416aae"/><rect x="380.5" width="3.6" height="108.6" fill="#afdbea"/><rect x="383.6" width="3.6" height="108.6" fill="#6fa7ce"/><rect x="386.6" width="3.6" height="108.6" fill="#79b1d3"/><rect x="389.6" width="3.6" height="108.6" fill="#669dc9"/><rect x="392.7" width="3.6" height="108.6" fill="#4a7bb7"/><rect x="395.7" width="3.6" height="108.6" fill="#afdbea"/><rect x="398.7" width="3.6" height="108.6" fill="#6fa7ce"/><rect x="401.8" width="3.6" height="108.6" fill="#79b1d3"/><rect x="404.8" width="3.6" height="108.6" fill="#85bbd8"/><rect x="407.8" width="3.6" height="108.6" fill="#95c7df"/><rect x="410.9" width="3.6" height="108.6" fill="#384ca0"/><rect x="413.9" width="3.6" height="108.6" fill="#416aae"/><rect x="416.9" width="3.6" height="108.6" fill="#4a7bb7"/><rect x="420.0" width="3.6" height="108.6" fill="#5487bd"/><rect x="423.0" width="3.6" height="108.6" fill="#5e92c3"/><rect x="426.0" width="3.6" height="108.6" fill="#669dc9"/><rect x="429.1" width="3.6" height="108.6" fill="#384ca0"/><rect x="432.1" width="3.6" height="108.6" fill="#416aae"/><rect x="435.1" width="3.6" height="108.6" fill="#95c7df"/><rect x="438.2" width="3.6" height="108.6" fill="#afdbea"/><rect x="441.2" width="3.6" height="108.6" fill="#669dc9"/><rect x="444.2" width="3.6" height="108.6" fill="#4a7bb7"/><rect x="447.3" width="3.6" height="108.6" fill="#5487bd"/><rect x="450.3" width="3.6" height="108.6" fill="#5e92c3"/><rect x="453.3" width="3.6" height="108.6" fill="#6fa7ce"/><rect x="456.4" width="3.6" height="108.6" fill="#79b1d3"/><rect x="459.4" width="3.6" height="108.6" fill="#85bbd8"/><rect x="462.4" width="3.6" height="108.6" fill="#5588be"/><rect x="465.5" width="3.6" height="108.6" fill="#689fca"/><rect x="468.5" width="3.6" height="108.6" fill="#76afd2"/><rect x="471.5" width="3.6" height="108.6" fill="#90c4dd"/><rect x="474.6" width="3.6" height="108.6" fill="#313695"/><rect x="477.6" width="3.6" height="108.6" fill="#36479d"/><rect x="480.6" width="3.6" height="108.6" fill="#5e93c3"/><rect x="483.7" width="3.6" height="108.6" fill="#3c58a6"/><rect x="486.7" width="3.6" height="108.6" fill="#4066ad"/><rect x="489.7" width="3.6" height="108.6" fill="#4473b3"/><rect x="492.8" width="3.6" height="108.6" fill="#4c7db8"/><rect x="495.8" width="3.6" height="108.6" fill="#4c7db8"/><rect x="498.8" width="3.6" height="108.6" fill="#5588be"/><rect x="501.9" width="3.6" height="108.6" fill="#689fca"/><rect x="504.9" width="3.6" height="108.6" fill="#76afd2"/><rect x="507.9" width="3.6" height="108.6" fill="#90c4dd"/><rect x="511.0" width="3.6" height="108.6" fill="#4473b3"/><rect x="514.0" width="3.6" height="108.6" fill="#3c58a6"/><rect x="517.0" width="3.6" height="108.6" fill="#4066ad"/><rect x="520.1" width="3.6" height="108.6" fill="#313695"/><rect x="523.1" width="3.6" height="108.6" fill="#36479d"/><rect x="526.1" width="3.6" height="108.6" fill="#5e93c3"/><rect x="529.2" width="3.6" height="108.6" fill="#a5d4e6"/><rect x="532.2" width="3.6" height="108.6" fill="#3e5ea9"/><rect x="535.2" width="3.6" height="108.6" fill="#5e92c3"/><rect x="538.3" width="3.6" height="108.6" fill="#669dc9"/><rect x="541.3" width="3.6" height="108.6" fill="#6fa8ce"/><rect x="544.3" width="3.6" height="108.6" fill="#7bb3d4"/><rect x="547.4" width="3.6" height="108.6" fill="#8abfdb"/><rect x="550.4" width="3.6" height="108.6" fill="#4370b1"/><rect x="553.4" width="3.6" height="108.6" fill="#4c7db8"/><rect x="556.5" width="3.6" height="108.6" fill="#34409a"/><rect x="559.5" width="3.6" height="108.6" fill="#5588be"/><rect x="562.5" width="3.6" height="108.6" fill="#34409a"/><rect x="565.6" width="3.6" height="108.6" fill="#3e5ea9"/><rect x="568.6" width="3.6" height="108.6" fill="#5588be"/><rect x="571.6" width="3.6" height="108.6" fill="#6fa8ce"/><rect x="574.7" width="3.6" height="108.6" fill="#7bb3d4"/><rect x="577.7" width="3.6" height="108.6" fill="#4370b1"/><rect x="580.7" width="3.6" height="108.6" fill="#4c7db8"/><rect x="583.8" width="3.6" height="108.6" fill="#8abfdb"/><rect x="586.8" width="3.6" height="108.6" fill="#a5d4e6"/><rect x="589.8" width="3.6" height="108.6" fill="#5e92c3"/><rect x="592.9" width="3.6" height="108.6" fill="#669dc9"/><rect x="595.9" width="3.6" height="108.6" fill="#7bb3d4"/><rect x="598.9" width="3.6" height="108.6" fill="#8abfdb"/><rect x="602.0" width="3.6" height="108.6" fill="#5588be"/><rect x="605.0" width="3.6" height="108.6" fill="#5e92c3"/><rect x="608.0" width="3.6" height="108.6" fill="#3e5ea9"/><rect x="611.1" width="3.6" height="108.6" fill="#4370b1"/><rect x="614.1" width="3.6" height="108.6" fill="#6fa8ce"/><rect x="617.1" width="3.6" height="108.6" fill="#4c7db8"/><rect x="620.2" width="3.6" height="108.6" fill="#a5d4e6"/><rect x="623.2" width="3.6" height="108.6" fill="#669dc9"/><rect x="626.2" width="3.6" height="108.6" fill="#34409a"/><rect x="629.3" width="3.6" height="108.6" fill="#5588be"/><rect x="632.3" width="3.6" height="108.6" fill="#9bcce2"/><rect x="635.3" width="3.6" height="108.6" fill="#679dc9"/><rect x="638.4" width="3.6" height="108.6" fill="#313695"/><rect x="641.4" width="3.6" height="108.6" fill="#3a52a3"/><rect x="644.4" width="3.6" height="108.6" fill="#4064ac"/><rect x="647.5" width="3.6" height="108.6" fill="#5d92c3"/><rect x="650.5" width="3.6" height="108.6" fill="#71aacf"/><rect x="653.5" width="3.6" height="108.6" fill="#80b7d6"/><rect x="656.6" width="3.6" height="108.6" fill="#4472b3"/><rect x="659.6" width="3.6" height="108.6" fill="#4c7db8"/><rect x="662.6" width="3.6" height="108.6" fill="#5588be"/><rect x="665.7" width="3.6" height="108.6" fill="#5d92c3"/><rect x="668.7" width="3.6" height="108.6" fill="#4064ac"/><rect x="671.7" width="3.6" height="108.6" fill="#4472b3"/><rect x="674.8" width="3.6" height="108.6" fill="#4c7db8"/><rect x="677.8" width="3.6" height="108.6" fill="#80b7d6"/><rect x="680.8" width="3.6" height="108.6" fill="#9bcce2"/><rect x="683.9" width="3.6" height="108.6" fill="#313695"/><rect x="686.9" width="3.6" height="108.6" fill="#3a52a3"/><rect x="689.9" width="3.6" height="108.6" fill="#679dc9"/><rect x="693.0" width="3.6" height="108.6" fill="#71aacf"/><rect x="696.0" width="3.6" height="108.6" fill="#4c7db8"/><rect x="699.0" width="3.6" height="108.6" fill="#5588be"/><rect x="702.1" width="3.6" height="108.6" fill="#5d92c3"/><rect x="705.1" width="3.6" height="108.6" fill="#4064ac"/><rect x="708.1" width="3.6" height="108.6" fill="#80b7d6"/><rect x="711.2" width="3.6" height="108.6" fill="#9bcce2"/><rect x="714.2" width="3.6" height="108.6" fill="#679dc9"/><rect x="717.3" width="3.6" height="108.6" fill="#313695"/><rect x="720.3" width="3.6" height="108.6" fill="#3a52a3"/><rect x="723.3" width="3.6" height="108.6" fill="#71aacf"/><rect x="726.4" width="3.6" height="108.6" fill="#4472b3"/><rect x="729.4" width="3.6" height="108.6" fill="#669cc8"/><rect x="732.4" width="3.6" height="108.6" fill="#6fa7ce"/><rect x="735.5" width="3.6" height="108.6" fill="#4e80ba"/><rect x="738.5" width="3.6" height="108.6" fill="#5b90c2"/><rect x="741.5" width="3.6" height="108.6" fill="#78b1d3"/><rect x="744.6" width="3.6" height="108.6" fill="#83b9d7"/><rect x="747.6" width="3.6" height="108.6" fill="#9acbe1"/><rect x="750.6" width="3.6" height="108.6" fill="#8dc1dc"/><rect x="753.7" width="3.6" height="108.6" fill="#3f63ab"/><rect x="756.7" width="3.6" height="108.6" fill="#a9d8e8"/><rect x="759.7" width="3.6" height="108.6" fill="#c3e5f0"/><rect x="762.8" width="3.6" height="108.6" fill="#c3e5f0"/><rect x="765.8" width="3.6" height="108.6" fill="#3f63ab"/><rect x="768.8" width="3.6" height="108.6" fill="#4e80ba"/><rect x="771.9" width="3.6" height="108.6" fill="#8dc1dc"/><rect x="774.9" width="3.6" height="108.6" fill="#6fa7ce"/><rect x="777.9" width="3.6" height="108.6" fill="#78b1d3"/><rect x="781.0" width="3.6" height="108.6" fill="#83b9d7"/><rect x="784.0" width="3.6" height="108.6" fill="#5b90c2"/><rect x="787.0" width="3.6" height="108.6" fill="#9acbe1"/><rect x="790.1" width="3.6" height="108.6" fill="#a9d8e8"/><rect x="793.1" width="3.6" height="108.6" fill="#669cc8"/><rect x="796.1" width="3.6" height="108.6" fill="#669cc8"/><rect x="799.2" width="3.6" height="108.6" fill="#c3e5f0"/><rect x="802.2" width="3.6" height="108.6" fill="#9acbe1"/><rect x="805.2" width="3.6" height="108.6" fill="#6fa7ce"/><rect x="808.3" width="3.6" height="108.6" fill="#78b1d3"/><rect x="811.3" width="3.6" height="108.6" fill="#5b90c2"/><rect x="814.3" width="3.6" height="108.6" fill="#a9d8e8"/><rect x="817.4" width="3.6" height="108.6" fill="#83b9d7"/><rect x="820.4" width="3.6" height="108.6" fill="#8dc1dc"/><rect x="823.4" width="3.6" height="108.6" fill="#4e80ba"/><rect x="826.5" width="3.6" height="108.6" fill="#3f63ab"/><rect x="829.5" width="3.6" height="108.6" fill="#3f63ab"/><rect x="832.5" width="3.6" height="108.6" fill="#4e80ba"/><rect x="835.6" width="3.6" height="108.6" fill="#78b1d3"/><rect x="838.6" width="3.6" height="108.6" fill="#669cc8"/><rect x="841.6" width="3.6" height="108.6" fill="#8dc1dc"/><rect x="844.7" width="3.6" height="108.6" fill="#9acbe1"/><rect x="847.7" width="3.6" height="108.6" fill="#a9d8e8"/><rect x="850.7" width="3.6" height="108.6" fill="#83b9d7"/><rect x="853.8" width="3.6" height="108.6" fill="#6fa7ce"/><rect x="856.8" width="3.6" height="108.6" fill="#5b90c2"/><rect x="859.8" width="3.6" height="108.6" fill="#c3e5f0"/><rect x="862.9" width="3.6" height="108.6" fill="#5e93c4"/><rect x="865.9" width="3.6" height="108.6" fill="#73acd0"/><rect x="868.9" width="3.6" height="108.6" fill="#7eb5d5"/><rect x="872.0" width="3.6" height="108.6" fill="#96c9e0"/><rect x="875.0" width="3.6" height="108.6" fill="#a6d5e7"/><rect x="878.0" width="3.6" height="108.6" fill="#8abeda"/><rect x="881.1" width="3.6" height="108.6" fill="#4065ac"/><rect x="884.1" width="3.6" height="108.6" fill="#5083bb"/><rect x="887.1" width="3.6" height="108.6" fill="#c1e4ef"/><rect x="890.2" width="3.6" height="108.6" fill="#69a0ca"/></g><g transform="translate(0,1116.52)"><rect x="162.1" width="3.6" height="108.6" fill="#a8d7e8"/><rect x="165.1" width="3.6" height="108.6" fill="#35429b"/><rect x="168.2" width="3.6" height="108.6" fill="#4067ad"/><rect x="171.2" width="3.6" height="108.6" fill="#4b7cb7"/><rect x="174.2" width="3.6" height="108.6" fill="#c8e7f1"/><rect x="177.3" width="3.6" height="108.6" fill="#79b1d3"/><rect x="180.3" width="3.6" height="108.6" fill="#86bcd9"/><rect x="183.3" width="3.6" height="108.6" fill="#95c8e0"/><rect x="186.4" width="3.6" height="108.6" fill="#578bbf"/><rect x="189.4" width="3.6" height="108.6" fill="#6399c6"/><rect x="192.4" width="3.6" height="108.6" fill="#6ea5cd"/><rect x="195.5" width="3.6" height="108.6" fill="#95c8e0"/><rect x="198.5" width="3.6" height="108.6" fill="#a8d7e8"/><rect x="201.5" width="3.6" height="108.6" fill="#c8e7f1"/><rect x="204.6" width="3.6" height="108.6" fill="#35429b"/><rect x="207.6" width="3.6" height="108.6" fill="#4067ad"/><rect x="210.6" width="3.6" height="108.6" fill="#4b7cb7"/><rect x="213.7" width="3.6" height="108.6" fill="#79b1d3"/><rect x="216.7" width="3.6" height="108.6" fill="#86bcd9"/><rect x="219.7" width="3.6" height="108.6" fill="#578bbf"/><rect x="222.8" width="3.6" height="108.6" fill="#6399c6"/><rect x="225.8" width="3.6" height="108.6" fill="#6ea5cd"/><rect x="228.8" width="3.6" height="108.6" fill="#a8d7e8"/><rect x="231.9" width="3.6" height="108.6" fill="#c8e7f1"/><rect x="234.9" width="3.6" height="108.6" fill="#6399c6"/><rect x="237.9" width="3.6" height="108.6" fill="#578bbf"/><rect x="241.0" width="3.6" height="108.6" fill="#6ea5cd"/><rect x="244.0" width="3.6" height="108.6" fill="#79b1d3"/><rect x="247.0" width="3.6" height="108.6" fill="#4b7cb7"/><rect x="250.1" width="3.6" height="108.6" fill="#35429b"/><rect x="253.1" width="3.6" height="108.6" fill="#86bcd9"/><rect x="256.1" width="3.6" height="108.6" fill="#95c8e0"/><rect x="259.2" width="3.6" height="108.6" fill="#4067ad"/><rect x="262.2" width="3.6" height="108.6" fill="#bee2ee"/><rect x="265.2" width="3.6" height="108.6" fill="#8bbfdb"/><rect x="268.3" width="3.6" height="108.6" fill="#9ecfe3"/><rect x="271.3" width="3.6" height="108.6" fill="#4471b2"/><rect x="274.3" width="3.6" height="108.6" fill="#313695"/><rect x="277.4" width="3.6" height="108.6" fill="#3d5ba7"/><rect x="280.4" width="3.6" height="108.6" fill="#7cb3d5"/><rect x="283.4" width="3.6" height="108.6" fill="#70a8ce"/><rect x="286.5" width="3.6" height="108.6" fill="#5a8ec1"/><rect x="289.5" width="3.6" height="108.6" fill="#659bc8"/><rect x="292.5" width="3.6" height="108.6" fill="#4f81ba"/><rect x="295.6" width="3.6" height="108.6" fill="#9ecfe3"/><rect x="298.6" width="3.6" height="108.6" fill="#bee2ee"/><rect x="301.6" width="3.6" height="108.6" fill="#70a8ce"/><rect x="304.7" width="3.6" height="108.6" fill="#313695"/><rect x="307.7" width="3.6" height="108.6" fill="#8bbfdb"/><rect x="310.7" width="3.6" height="108.6" fill="#4f81ba"/><rect x="313.8" width="3.6" height="108.6" fill="#5a8ec1"/><rect x="316.8" width="3.6" height="108.6" fill="#659bc8"/><rect x="319.8" width="3.6" height="108.6" fill="#7cb3d5"/><rect x="322.9" width="3.6" height="108.6" fill="#3d5ba7"/><rect x="325.9" width="3.6" height="108.6" fill="#4471b2"/><rect x="328.9" width="3.6" height="108.6" fill="#7cb3d5"/><rect x="332.0" width="3.6" height="108.6" fill="#313695"/><rect x="335.0" width="3.6" height="108.6" fill="#3d5ba7"/><rect x="338.0" width="3.6" height="108.6" fill="#4471b2"/><rect x="341.1" width="3.6" height="108.6" fill="#bee2ee"/><rect x="344.1" width="3.6" height="108.6" fill="#8bbfdb"/><rect x="347.2" width="3.6" height="108.6" fill="#9ecfe3"/><rect x="350.2" width="3.6" height="108.6" fill="#659bc8"/><rect x="353.2" width="3.6" height="108.6" fill="#70a8ce"/><rect x="356.3" width="3.6" height="108.6" fill="#4f81ba"/><rect x="359.3" width="3.6" height="108.6" fill="#5a8ec1"/><rect x="362.3" width="3.6" height="108.6" fill="#95c8e0"/><rect x="365.4" width="3.6" height="108.6" fill="#a8d7e8"/><rect x="368.4" width="3.6" height="108.6" fill="#79b1d3"/><rect x="371.4" width="3.6" height="108.6" fill="#86bcd9"/><rect x="374.5" width="3.6" height="108.6" fill="#35429b"/><rect x="377.5" width="3.6" height="108.6" fill="#4067ad"/><rect x="380.5" width="3.6" height="108.6" fill="#4b7cb7"/><rect x="383.6" width="3.6" height="108.6" fill="#578bbf"/><rect x="386.6" width="3.6" height="108.6" fill="#6399c6"/><rect x="389.6" width="3.6" height="108.6" fill="#c8e7f1"/><rect x="392.7" width="3.6" height="108.6" fill="#6ea5cd"/><rect x="395.7" width="3.6" height="108.6" fill="#86bcd9"/><rect x="398.7" width="3.6" height="108.6" fill="#79b1d3"/><rect x="401.8" width="3.6" height="108.6" fill="#4067ad"/><rect x="404.8" width="3.6" height="108.6" fill="#4b7cb7"/><rect x="407.8" width="3.6" height="108.6" fill="#35429b"/><rect x="410.9" width="3.6" height="108.6" fill="#95c8e0"/><rect x="413.9" width="3.6" height="108.6" fill="#a8d7e8"/><rect x="416.9" width="3.6" height="108.6" fill="#578bbf"/><rect x="420.0" width="3.6" height="108.6" fill="#6399c6"/><rect x="423.0" width="3.6" height="108.6" fill="#6ea5cd"/><rect x="426.0" width="3.6" height="108.6" fill="#c8e7f1"/><rect x="429.1" width="3.6" height="108.6" fill="#578bbf"/><rect x="432.1" width="3.6" height="108.6" fill="#35429b"/><rect x="435.1" width="3.6" height="108.6" fill="#4067ad"/><rect x="438.2" width="3.6" height="108.6" fill="#4b7cb7"/><rect x="441.2" width="3.6" height="108.6" fill="#95c8e0"/><rect x="444.2" width="3.6" height="108.6" fill="#6399c6"/><rect x="447.3" width="3.6" height="108.6" fill="#6ea5cd"/><rect x="450.3" width="3.6" height="108.6" fill="#a8d7e8"/><rect x="453.3" width="3.6" height="108.6" fill="#c8e7f1"/><rect x="456.4" width="3.6" height="108.6" fill="#79b1d3"/><rect x="459.4" width="3.6" height="108.6" fill="#86bcd9"/><rect x="462.4" width="3.6" height="108.6" fill="#4c7db8"/><rect x="465.5" width="3.6" height="108.6" fill="#5c91c2"/><rect x="468.5" width="3.6" height="108.6" fill="#69a0ca"/><rect x="471.5" width="3.6" height="108.6" fill="#dcf1f7"/><rect x="474.6" width="3.6" height="108.6" fill="#bce1ee"/><rect x="477.6" width="3.6" height="108.6" fill="#74add1"/><rect x="480.6" width="3.6" height="108.6" fill="#81b7d7"/><rect x="483.7" width="3.6" height="108.6" fill="#8ec1dc"/><rect x="486.7" width="3.6" height="108.6" fill="#9bcce2"/><rect x="489.7" width="3.6" height="108.6" fill="#aad8e9"/><rect x="492.8" width="3.6" height="108.6" fill="#3c59a6"/><rect x="495.8" width="3.6" height="108.6" fill="#69a0ca"/><rect x="498.8" width="3.6" height="108.6" fill="#74add1"/><rect x="501.9" width="3.6" height="108.6" fill="#81b7d7"/><rect x="504.9" width="3.6" height="108.6" fill="#8ec1dc"/><rect x="507.9" width="3.6" height="108.6" fill="#9bcce2"/><rect x="511.0" width="3.6" height="108.6" fill="#3c59a6"/><rect x="514.0" width="3.6" height="108.6" fill="#4c7db8"/><rect x="517.0" width="3.6" height="108.6" fill="#5c91c2"/><rect x="520.1" width="3.6" height="108.6" fill="#dcf1f7"/><rect x="523.1" width="3.6" height="108.6" fill="#aad8e9"/><rect x="526.1" width="3.6" height="108.6" fill="#bce1ee"/><rect x="529.2" width="3.6" height="108.6" fill="#d2ecf4"/><rect x="532.2" width="3.6" height="108.6" fill="#a0d0e4"/><rect x="535.2" width="3.6" height="108.6" fill="#b2ddeb"/><rect x="538.3" width="3.6" height="108.6" fill="#6095c5"/><rect x="541.3" width="3.6" height="108.6" fill="#6ca3cc"/><rect x="544.3" width="3.6" height="108.6" fill="#5386bd"/><rect x="547.4" width="3.6" height="108.6" fill="#77afd2"/><rect x="550.4" width="3.6" height="108.6" fill="#83b9d8"/><rect x="553.4" width="3.6" height="108.6" fill="#91c4dd"/><rect x="556.5" width="3.6" height="108.6" fill="#384da0"/><rect x="559.5" width="3.6" height="108.6" fill="#4472b3"/><rect x="562.5" width="3.6" height="108.6" fill="#83b9d8"/><rect x="565.6" width="3.6" height="108.6" fill="#91c4dd"/><rect x="568.6" width="3.6" height="108.6" fill="#a0d0e4"/><rect x="571.6" width="3.6" height="108.6" fill="#b2ddeb"/><rect x="574.7" width="3.6" height="108.6" fill="#6ca3cc"/><rect x="577.7" width="3.6" height="108.6" fill="#77afd2"/><rect x="580.7" width="3.6" height="108.6" fill="#384da0"/><rect x="583.8" width="3.6" height="108.6" fill="#4472b3"/><rect x="586.8" width="3.6" height="108.6" fill="#d2ecf4"/><rect x="589.8" width="3.6" height="108.6" fill="#5386bd"/><rect x="592.9" width="3.6" height="108.6" fill="#6095c5"/><rect x="595.9" width="3.6" height="108.6" fill="#6095c5"/><rect x="598.9" width="3.6" height="108.6" fill="#83b9d8"/><rect x="602.0" width="3.6" height="108.6" fill="#91c4dd"/><rect x="605.0" width="3.6" height="108.6" fill="#a0d0e4"/><rect x="608.0" width="3.6" height="108.6" fill="#b2ddeb"/><rect x="611.1" width="3.6" height="108.6" fill="#d2ecf4"/><rect x="614.1" width="3.6" height="108.6" fill="#6ca3cc"/><rect x="617.1" width="3.6" height="108.6" fill="#77afd2"/><rect x="620.2" width="3.6" height="108.6" fill="#4472b3"/><rect x="623.2" width="3.6" height="108.6" fill="#384da0"/><rect x="626.2" width="3.6" height="108.6" fill="#5386bd"/><rect x="629.3" width="3.6" height="108.6" fill="#95c8e0"/><rect x="632.3" width="3.6" height="108.6" fill="#4067ad"/><rect x="635.3" width="3.6" height="108.6" fill="#6ea5cd"/><rect x="638.4" width="3.6" height="108.6" fill="#79b1d3"/><rect x="641.4" width="3.6" height="108.6" fill="#86bcd9"/><rect x="644.4" width="3.6" height="108.6" fill="#a8d7e8"/><rect x="647.5" width="3.6" height="108.6" fill="#35429b"/><rect x="650.5" width="3.6" height="108.6" fill="#6399c6"/><rect x="653.5" width="3.6" height="108.6" fill="#c8e7f1"/><rect x="656.6" width="3.6" height="108.6" fill="#4b7cb7"/><rect x="659.6" width="3.6" height="108.6" fill="#578bbf"/><rect x="662.6" width="3.6" height="108.6" fill="#35429b"/><rect x="665.7" width="3.6" height="108.6" fill="#4067ad"/><rect x="668.7" width="3.6" height="108.6" fill="#4b7cb7"/><rect x="671.7" width="3.6" height="108.6" fill="#a8d7e8"/><rect x="674.8" width="3.6" height="108.6" fill="#c8e7f1"/><rect x="677.8" width="3.6" height="108.6" fill="#578bbf"/><rect x="680.8" width="3.6" height="108.6" fill="#6399c6"/><rect x="683.9" width="3.6" height="108.6" fill="#6ea5cd"/><rect x="686.9" width="3.6" height="108.6" fill="#79b1d3"/><rect x="689.9" width="3.6" height="108.6" fill="#86bcd9"/><rect x="693.0" width="3.6" height="108.6" fill="#95c8e0"/><rect x="696.0" width="3.6" height="108.6" fill="#79b1d3"/><rect x="699.0" width="3.6" height="108.6" fill="#6ea5cd"/><rect x="702.1" width="3.6" height="108.6" fill="#c8e7f1"/><rect x="705.1" width="3.6" height="108.6" fill="#35429b"/><rect x="708.1" width="3.6" height="108.6" fill="#4067ad"/><rect x="711.2" width="3.6" height="108.6" fill="#4b7cb7"/><rect x="714.2" width="3.6" height="108.6" fill="#578bbf"/><rect x="717.3" width="3.6" height="108.6" fill="#a8d7e8"/><rect x="720.3" width="3.6" height="108.6" fill="#6399c6"/><rect x="723.3" width="3.6" height="108.6" fill="#86bcd9"/><rect x="726.4" width="3.6" height="108.6" fill="#95c8e0"/><rect x="729.4" width="3.6" height="108.6" fill="#6ca3cc"/><rect x="732.4" width="3.6" height="108.6" fill="#77afd2"/><rect x="735.5" width="3.6" height="108.6" fill="#b2ddeb"/><rect x="738.5" width="3.6" height="108.6" fill="#d2ecf4"/><rect x="741.5" width="3.6" height="108.6" fill="#a0d0e4"/><rect x="744.6" width="3.6" height="108.6" fill="#6095c5"/><rect x="747.6" width="3.6" height="108.6" fill="#83b9d8"/><rect x="750.6" width="3.6" height="108.6" fill="#91c4dd"/><rect x="753.7" width="3.6" height="108.6" fill="#384da0"/><rect x="756.7" width="3.6" height="108.6" fill="#4472b3"/><rect x="759.7" width="3.6" height="108.6" fill="#5386bd"/><rect x="762.8" width="3.6" height="108.6" fill="#4472b3"/><rect x="765.8" width="3.6" height="108.6" fill="#5386bd"/><rect x="768.8" width="3.6" height="108.6" fill="#6ca3cc"/><rect x="771.9" width="3.6" height="108.6" fill="#77afd2"/><rect x="774.9" width="3.6" height="108.6" fill="#384da0"/><rect x="777.9" width="3.6" height="108.6" fill="#6095c5"/><rect x="781.0" width="3.6" height="108.6" fill="#a0d0e4"/><rect x="784.0" width="3.6" height="108.6" fill="#b2ddeb"/><rect x="787.0" width="3.6" height="108.6" fill="#d2ecf4"/><rect x="790.1" width="3.6" height="108.6" fill="#83b9d8"/><rect x="793.1" width="3.6" height="108.6" fill="#91c4dd"/><rect x="796.1" width="3.6" height="108.6" fill="#384da0"/><rect x="799.2" width="3.6" height="108.6" fill="#4472b3"/><rect x="802.2" width="3.6" height="108.6" fill="#91c4dd"/><rect x="805.2" width="3.6" height="108.6" fill="#b2ddeb"/><rect x="808.3" width="3.6" height="108.6" fill="#5386bd"/><rect x="811.3" width="3.6" height="108.6" fill="#6095c5"/><rect x="814.3" width="3.6" height="108.6" fill="#6ca3cc"/><rect x="817.4" width="3.6" height="108.6" fill="#a0d0e4"/><rect x="820.4" width="3.6" height="108.6" fill="#77afd2"/><rect x="823.4" width="3.6" height="108.6" fill="#d2ecf4"/><rect x="826.5" width="3.6" height="108.6" fill="#83b9d8"/><rect x="829.5" width="3.6" height="108.6" fill="#95c8e0"/><rect x="832.5" width="3.6" height="108.6" fill="#578bbf"/><rect x="835.6" width="3.6" height="108.6" fill="#6399c6"/><rect x="838.6" width="3.6" height="108.6" fill="#86bcd9"/><rect x="841.6" width="3.6" height="108.6" fill="#4b7cb7"/><rect x="844.7" width="3.6" height="108.6" fill="#4067ad"/><rect x="847.7" width="3.6" height="108.6" fill="#35429b"/><rect x="850.7" width="3.6" height="108.6" fill="#a8d7e8"/><rect x="853.8" width="3.6" height="108.6" fill="#c8e7f1"/><rect x="856.8" width="3.6" height="108.6" fill="#6ea5cd"/><rect x="859.8" width="3.6" height="108.6" fill="#79b1d3"/><rect x="862.9" width="3.6" height="108.6" fill="#91c4de"/><rect x="865.9" width="3.6" height="108.6" fill="#82b8d7"/><rect x="868.9" width="3.6" height="108.6" fill="#36449c"/><rect x="872.0" width="3.6" height="108.6" fill="#4e80ba"/><rect x="875.0" width="3.6" height="108.6" fill="#5c90c2"/><rect x="878.0" width="3.6" height="108.6" fill="#689ec9"/><rect x="881.1" width="3.6" height="108.6" fill="#a5d4e6"/><rect x="884.1" width="3.6" height="108.6" fill="#c5e6f0"/><rect x="887.1" width="3.6" height="108.6" fill="#73acd1"/><rect x="890.2" width="3.6" height="108.6" fill="#426baf"/></g><g transform="translate(0,1224.65)"><rect x="162.1" width="3.6" height="108.6" fill="#9ccde2"/><rect x="165.1" width="3.6" height="108.6" fill="#c8e7f1"/><rect x="168.2" width="3.6" height="108.6" fill="#e3f4f3"/><rect x="171.2" width="3.6" height="108.6" fill="#a8d6e7"/><rect x="174.2" width="3.6" height="108.6" fill="#d5edf5"/><rect x="177.3" width="3.6" height="108.6" fill="#7eb5d5"/><rect x="180.3" width="3.6" height="108.6" fill="#649ac7"/><rect x="183.3" width="3.6" height="108.6" fill="#b2ddeb"/><rect x="186.4" width="3.6" height="108.6" fill="#bde2ee"/><rect x="189.4" width="3.6" height="108.6" fill="#f3fad5"/><rect x="192.4" width="3.6" height="108.6" fill="#8fc2dd"/><rect x="195.5" width="3.6" height="108.6" fill="#7eb5d5"/><rect x="198.5" width="3.6" height="108.6" fill="#b2ddeb"/><rect x="201.5" width="3.6" height="108.6" fill="#bde2ee"/><rect x="204.6" width="3.6" height="108.6" fill="#9ccde2"/><rect x="207.6" width="3.6" height="108.6" fill="#649ac7"/><rect x="210.6" width="3.6" height="108.6" fill="#8fc2dd"/><rect x="213.7" width="3.6" height="108.6" fill="#a8d6e7"/><rect x="216.7" width="3.6" height="108.6" fill="#c8e7f1"/><rect x="219.7" width="3.6" height="108.6" fill="#d5edf5"/><rect x="222.8" width="3.6" height="108.6" fill="#e3f4f3"/><rect x="225.8" width="3.6" height="108.6" fill="#f3fad5"/><rect x="228.8" width="3.6" height="108.6" fill="#a8d6e7"/><rect x="231.9" width="3.6" height="108.6" fill="#e3f4f3"/><rect x="234.9" width="3.6" height="108.6" fill="#f3fad5"/><rect x="237.9" width="3.6" height="108.6" fill="#b2ddeb"/><rect x="241.0" width="3.6" height="108.6" fill="#bde2ee"/><rect x="244.0" width="3.6" height="108.6" fill="#c8e7f1"/><rect x="247.0" width="3.6" height="108.6" fill="#d5edf5"/><rect x="250.1" width="3.6" height="108.6" fill="#8fc2dd"/><rect x="253.1" width="3.6" height="108.6" fill="#9ccde2"/><rect x="256.1" width="3.6" height="108.6" fill="#649ac7"/><rect x="259.2" width="3.6" height="108.6" fill="#7eb5d5"/><rect x="262.2" width="3.6" height="108.6" fill="#b3ddeb"/><rect x="265.2" width="3.6" height="108.6" fill="#bee2ee"/><rect x="268.3" width="3.6" height="108.6" fill="#cbe9f2"/><rect x="271.3" width="3.6" height="108.6" fill="#dbf1f7"/><rect x="274.3" width="3.6" height="108.6" fill="#edf8e0"/><rect x="277.4" width="3.6" height="108.6" fill="#a8d7e8"/><rect x="280.4" width="3.6" height="108.6" fill="#84bad8"/><rect x="283.4" width="3.6" height="108.6" fill="#92c5de"/><rect x="286.5" width="3.6" height="108.6" fill="#9dcee3"/><rect x="289.5" width="3.6" height="108.6" fill="#5c90c2"/><rect x="292.5" width="3.6" height="108.6" fill="#74add1"/><rect x="295.6" width="3.6" height="108.6" fill="#cbe9f2"/><rect x="298.6" width="3.6" height="108.6" fill="#dbf1f7"/><rect x="301.6" width="3.6" height="108.6" fill="#edf8e0"/><rect x="304.7" width="3.6" height="108.6" fill="#5c90c2"/><rect x="307.7" width="3.6" height="108.6" fill="#84bad8"/><rect x="310.7" width="3.6" height="108.6" fill="#92c5de"/><rect x="313.8" width="3.6" height="108.6" fill="#a8d7e8"/><rect x="316.8" width="3.6" height="108.6" fill="#b3ddeb"/><rect x="319.8" width="3.6" height="108.6" fill="#bee2ee"/><rect x="322.9" width="3.6" height="108.6" fill="#9dcee3"/><rect x="325.9" width="3.6" height="108.6" fill="#74add1"/><rect x="328.9" width="3.6" height="108.6" fill="#5c90c2"/><rect x="332.0" width="3.6" height="108.6" fill="#74add1"/><rect x="335.0" width="3.6" height="108.6" fill="#a8d7e8"/><rect x="338.0" width="3.6" height="108.6" fill="#b3ddeb"/><rect x="341.1" width="3.6" height="108.6" fill="#84bad8"/><rect x="344.1" width="3.6" height="108.6" fill="#92c5de"/><rect x="347.2" width="3.6" height="108.6" fill="#9dcee3"/><rect x="350.2" width="3.6" height="108.6" fill="#edf8e0"/><rect x="353.2" width="3.6" height="108.6" fill="#bee2ee"/><rect x="356.3" width="3.6" height="108.6" fill="#cbe9f2"/><rect x="359.3" width="3.6" height="108.6" fill="#dbf1f7"/><rect x="362.3" width="3.6" height="108.6" fill="#c8e7f1"/><rect x="365.4" width="3.6" height="108.6" fill="#e3f4f3"/><rect x="368.4" width="3.6" height="108.6" fill="#f3fad5"/><rect x="371.4" width="3.6" height="108.6" fill="#d5edf5"/><rect x="374.5" width="3.6" height="108.6" fill="#649ac7"/><rect x="377.5" width="3.6" height="108.6" fill="#bde2ee"/><rect x="380.5" width="3.6" height="108.6" fill="#8fc2dd"/><rect x="383.6" width="3.6" height="108.6" fill="#9ccde2"/><rect x="386.6" width="3.6" height="108.6" fill="#a8d6e7"/><rect x="389.6" width="3.6" height="108.6" fill="#b2ddeb"/><rect x="392.7" width="3.6" height="108.6" fill="#7eb5d5"/><rect x="395.7" width="3.6" height="108.6" fill="#7eb5d5"/><rect x="398.7" width="3.6" height="108.6" fill="#8fc2dd"/><rect x="401.8" width="3.6" height="108.6" fill="#9ccde2"/><rect x="404.8" width="3.6" height="108.6" fill="#b2ddeb"/><rect x="407.8" width="3.6" height="108.6" fill="#bde2ee"/><rect x="410.9" width="3.6" height="108.6" fill="#c8e7f1"/><rect x="413.9" width="3.6" height="108.6" fill="#649ac7"/><rect x="416.9" width="3.6" height="108.6" fill="#d5edf5"/><rect x="420.0" width="3.6" height="108.6" fill="#e3f4f3"/><rect x="423.0" width="3.6" height="108.6" fill="#f3fad5"/><rect x="426.0" width="3.6" height="108.6" fill="#a8d6e7"/><rect x="429.1" width="3.6" height="108.6" fill="#e3f4f3"/><rect x="432.1" width="3.6" height="108.6" fill="#9ccde2"/><rect x="435.1" width="3.6" height="108.6" fill="#649ac7"/><rect x="438.2" width="3.6" height="108.6" fill="#7eb5d5"/><rect x="441.2" width="3.6" height="108.6" fill="#8fc2dd"/><rect x="444.2" width="3.6" height="108.6" fill="#d5edf5"/><rect x="447.3" width="3.6" height="108.6" fill="#a8d6e7"/><rect x="450.3" width="3.6" height="108.6" fill="#b2ddeb"/><rect x="453.3" width="3.6" height="108.6" fill="#bde2ee"/><rect x="456.4" width="3.6" height="108.6" fill="#c8e7f1"/><rect x="459.4" width="3.6" height="108.6" fill="#f3fad5"/><rect x="462.4" width="3.6" height="108.6" fill="#a6d5e7"/><rect x="465.5" width="3.6" height="108.6" fill="#b2dceb"/><rect x="468.5" width="3.6" height="108.6" fill="#dff2f8"/><rect x="471.5" width="3.6" height="108.6" fill="#e9f6e8"/><rect x="474.6" width="3.6" height="108.6" fill="#f9fdcb"/><rect x="477.6" width="3.6" height="108.6" fill="#c7e7f1"/><rect x="480.6" width="3.6" height="108.6" fill="#d2ecf4"/><rect x="483.7" width="3.6" height="108.6" fill="#6da5cd"/><rect x="486.7" width="3.6" height="108.6" fill="#88bdda"/><rect x="489.7" width="3.6" height="108.6" fill="#99cbe1"/><rect x="492.8" width="3.6" height="108.6" fill="#bce1ee"/><rect x="495.8" width="3.6" height="108.6" fill="#f9fdcb"/><rect x="498.8" width="3.6" height="108.6" fill="#a6d5e7"/><rect x="501.9" width="3.6" height="108.6" fill="#88bdda"/><rect x="504.9" width="3.6" height="108.6" fill="#bce1ee"/><rect x="507.9" width="3.6" height="108.6" fill="#99cbe1"/><rect x="511.0" width="3.6" height="108.6" fill="#6da5cd"/><rect x="514.0" width="3.6" height="108.6" fill="#c7e7f1"/><rect x="517.0" width="3.6" height="108.6" fill="#d2ecf4"/><rect x="520.1" width="3.6" height="108.6" fill="#dff2f8"/><rect x="523.1" width="3.6" height="108.6" fill="#e9f6e8"/><rect x="526.1" width="3.6" height="108.6" fill="#b2dceb"/><rect x="529.2" width="3.6" height="108.6" fill="#a8d7e8"/><rect x="532.2" width="3.6" height="108.6" fill="#92c5de"/><rect x="535.2" width="3.6" height="108.6" fill="#5c90c2"/><rect x="538.3" width="3.6" height="108.6" fill="#b3ddeb"/><rect x="541.3" width="3.6" height="108.6" fill="#cbe9f2"/><rect x="544.3" width="3.6" height="108.6" fill="#dbf1f7"/><rect x="547.4" width="3.6" height="108.6" fill="#9dcee3"/><rect x="550.4" width="3.6" height="108.6" fill="#74add1"/><rect x="553.4" width="3.6" height="108.6" fill="#84bad8"/><rect x="556.5" width="3.6" height="108.6" fill="#bee2ee"/><rect x="559.5" width="3.6" height="108.6" fill="#edf8e0"/><rect x="562.5" width="3.6" height="108.6" fill="#84bad8"/><rect x="565.6" width="3.6" height="108.6" fill="#92c5de"/><rect x="568.6" width="3.6" height="108.6" fill="#74add1"/><rect x="571.6" width="3.6" height="108.6" fill="#cbe9f2"/><rect x="574.7" width="3.6" height="108.6" fill="#dbf1f7"/><rect x="577.7" width="3.6" height="108.6" fill="#5c90c2"/><rect x="580.7" width="3.6" height="108.6" fill="#edf8e0"/><rect x="583.8" width="3.6" height="108.6" fill="#bee2ee"/><rect x="586.8" width="3.6" height="108.6" fill="#9dcee3"/><rect x="589.8" width="3.6" height="108.6" fill="#a8d7e8"/><rect x="592.9" width="3.6" height="108.6" fill="#b3ddeb"/><rect x="595.9" width="3.6" height="108.6" fill="#dbf1f7"/><rect x="598.9" width="3.6" height="108.6" fill="#9dcee3"/><rect x="602.0" width="3.6" height="108.6" fill="#a8d7e8"/><rect x="605.0" width="3.6" height="108.6" fill="#5c90c2"/><rect x="608.0" width="3.6" height="108.6" fill="#74add1"/><rect x="611.1" width="3.6" height="108.6" fill="#b3ddeb"/><rect x="614.1" width="3.6" height="108.6" fill="#bee2ee"/><rect x="617.1" width="3.6" height="108.6" fill="#cbe9f2"/><rect x="620.2" width="3.6" height="108.6" fill="#84bad8"/><rect x="623.2" width="3.6" height="108.6" fill="#92c5de"/><rect x="626.2" width="3.6" height="108.6" fill="#edf8e0"/><rect x="629.3" width="3.6" height="108.6" fill="#e7f6eb"/><rect x="632.3" width="3.6" height="108.6" fill="#d1ecf4"/><rect x="635.3" width="3.6" height="108.6" fill="#93c6df"/><rect x="638.4" width="3.6" height="108.6" fill="#9ecfe3"/><rect x="641.4" width="3.6" height="108.6" fill="#a9d7e8"/><rect x="644.4" width="3.6" height="108.6" fill="#b4deec"/><rect x="647.5" width="3.6" height="108.6" fill="#c1e4ef"/><rect x="650.5" width="3.6" height="108.6" fill="#7ab2d4"/><rect x="653.5" width="3.6" height="108.6" fill="#87bdd9"/><rect x="656.6" width="3.6" height="108.6" fill="#5385bd"/><rect x="659.6" width="3.6" height="108.6" fill="#6ba2cb"/><rect x="662.6" width="3.6" height="108.6" fill="#5385bd"/><rect x="665.7" width="3.6" height="108.6" fill="#6ba2cb"/><rect x="668.7" width="3.6" height="108.6" fill="#7ab2d4"/><rect x="671.7" width="3.6" height="108.6" fill="#87bdd9"/><rect x="674.8" width="3.6" height="108.6" fill="#93c6df"/><rect x="677.8" width="3.6" height="108.6" fill="#9ecfe3"/><rect x="680.8" width="3.6" height="108.6" fill="#a9d7e8"/><rect x="683.9" width="3.6" height="108.6" fill="#b4deec"/><rect x="686.9" width="3.6" height="108.6" fill="#c1e4ef"/><rect x="689.9" width="3.6" height="108.6" fill="#d1ecf4"/><rect x="693.0" width="3.6" height="108.6" fill="#e7f6eb"/><rect x="696.0" width="3.6" height="108.6" fill="#d1ecf4"/><rect x="699.0" width="3.6" height="108.6" fill="#7ab2d4"/><rect x="702.1" width="3.6" height="108.6" fill="#87bdd9"/><rect x="705.1" width="3.6" height="108.6" fill="#9ecfe3"/><rect x="708.1" width="3.6" height="108.6" fill="#a9d7e8"/><rect x="711.2" width="3.6" height="108.6" fill="#b4deec"/><rect x="714.2" width="3.6" height="108.6" fill="#93c6df"/><rect x="717.3" width="3.6" height="108.6" fill="#c1e4ef"/><rect x="720.3" width="3.6" height="108.6" fill="#5385bd"/><rect x="723.3" width="3.6" height="108.6" fill="#6ba2cb"/><rect x="726.4" width="3.6" height="108.6" fill="#e7f6eb"/><rect x="729.4" width="3.6" height="108.6" fill="#5385bd"/><rect x="732.4" width="3.6" height="108.6" fill="#6ba2cb"/><rect x="735.5" width="3.6" height="108.6" fill="#7ab2d4"/><rect x="738.5" width="3.6" height="108.6" fill="#93c6df"/><rect x="741.5" width="3.6" height="108.6" fill="#9ecfe3"/><rect x="744.6" width="3.6" height="108.6" fill="#a9d7e8"/><rect x="747.6" width="3.6" height="108.6" fill="#b4deec"/><rect x="750.6" width="3.6" height="108.6" fill="#c1e4ef"/><rect x="753.7" width="3.6" height="108.6" fill="#87bdd9"/><rect x="756.7" width="3.6" height="108.6" fill="#e7f6eb"/><rect x="759.7" width="3.6" height="108.6" fill="#d1ecf4"/><rect x="762.8" width="3.6" height="108.6" fill="#b4deec"/><rect x="765.8" width="3.6" height="108.6" fill="#5385bd"/><rect x="768.8" width="3.6" height="108.6" fill="#6ba2cb"/><rect x="771.9" width="3.6" height="108.6" fill="#7ab2d4"/><rect x="774.9" width="3.6" height="108.6" fill="#87bdd9"/><rect x="777.9" width="3.6" height="108.6" fill="#93c6df"/><rect x="781.0" width="3.6" height="108.6" fill="#c1e4ef"/><rect x="784.0" width="3.6" height="108.6" fill="#9ecfe3"/><rect x="787.0" width="3.6" height="108.6" fill="#a9d7e8"/><rect x="790.1" width="3.6" height="108.6" fill="#d1ecf4"/><rect x="793.1" width="3.6" height="108.6" fill="#e7f6eb"/><rect x="796.1" width="3.6" height="108.6" fill="#a9d7e8"/><rect x="799.2" width="3.6" height="108.6" fill="#b4deec"/><rect x="802.2" width="3.6" height="108.6" fill="#5385bd"/><rect x="805.2" width="3.6" height="108.6" fill="#9ecfe3"/><rect x="808.3" width="3.6" height="108.6" fill="#c1e4ef"/><rect x="811.3" width="3.6" height="108.6" fill="#d1ecf4"/><rect x="814.3" width="3.6" height="108.6" fill="#e7f6eb"/><rect x="817.4" width="3.6" height="108.6" fill="#6ba2cb"/><rect x="820.4" width="3.6" height="108.6" fill="#7ab2d4"/><rect x="823.4" width="3.6" height="108.6" fill="#87bdd9"/><rect x="826.5" width="3.6" height="108.6" fill="#93c6df"/><rect x="829.5" width="3.6" height="108.6" fill="#edf8e0"/><rect x="832.5" width="3.6" height="108.6" fill="#a8d7e8"/><rect x="835.6" width="3.6" height="108.6" fill="#b3ddeb"/><rect x="838.6" width="3.6" height="108.6" fill="#74add1"/><rect x="841.6" width="3.6" height="108.6" fill="#84bad8"/><rect x="844.7" width="3.6" height="108.6" fill="#92c5de"/><rect x="847.7" width="3.6" height="108.6" fill="#dbf1f7"/><rect x="850.7" width="3.6" height="108.6" fill="#9dcee3"/><rect x="853.8" width="3.6" height="108.6" fill="#bee2ee"/><rect x="856.8" width="3.6" height="108.6" fill="#cbe9f2"/><rect x="859.8" width="3.6" height="108.6" fill="#5c90c2"/><rect x="862.9" width="3.6" height="108.6" fill="#77afd2"/><rect x="865.9" width="3.6" height="108.6" fill="#88bdda"/><rect x="868.9" width="3.6" height="108.6" fill="#ecf8e2"/><rect x="872.0" width="3.6" height="108.6" fill="#5d92c3"/><rect x="875.0" width="3.6" height="108.6" fill="#bae0ed"/><rect x="878.0" width="3.6" height="108.6" fill="#c7e7f1"/><rect x="881.1" width="3.6" height="108.6" fill="#a2d2e5"/><rect x="884.1" width="3.6" height="108.6" fill="#aedbea"/><rect x="887.1" width="3.6" height="108.6" fill="#96c8e0"/><rect x="890.2" width="3.6" height="108.6" fill="#d8eff6"/></g><g transform="translate(0,684.00)"><rect x="897.9" width="3.6" height="108.6" fill="#6aa1cb"/><rect x="900.9" width="3.6" height="108.6" fill="#7bb3d4"/><rect x="904.0" width="3.6" height="108.6" fill="#8dc1dc"/><rect x="907.0" width="3.6" height="108.6" fill="#4370b2"/><rect x="910.0" width="3.6" height="108.6" fill="#588cc0"/><rect x="913.1" width="3.6" height="108.6" fill="#9fcfe4"/><rect x="916.1" width="3.6" height="108.6" fill="#b1dceb"/><rect x="919.2" width="3.6" height="108.6" fill="#c5e6f0"/><rect x="922.2" width="3.6" height="108.6" fill="#dff3f8"/><rect x="925.2" width="3.6" height="108.6" fill="#333c98"/><rect x="928.3" width="3.6" height="108.6" fill="#f9fdc9"/><rect x="931.3" width="3.6" height="108.6" fill="#7bb3d4"/><rect x="934.3" width="3.6" height="108.6" fill="#8dc1dc"/><rect x="937.4" width="3.6" height="108.6" fill="#9fcfe4"/><rect x="940.4" width="3.6" height="108.6" fill="#f9fdc9"/><rect x="943.4" width="3.6" height="108.6" fill="#6aa1cb"/><rect x="946.5" width="3.6" height="108.6" fill="#b1dceb"/><rect x="949.5" width="3.6" height="108.6" fill="#c5e6f0"/><rect x="952.5" width="3.6" height="108.6" fill="#dff3f8"/><rect x="955.6" width="3.6" height="108.6" fill="#333c98"/><rect x="958.6" width="3.6" height="108.6" fill="#4370b2"/><rect x="961.7" width="3.6" height="108.6" fill="#588cc0"/><rect x="964.7" width="3.6" height="108.6" fill="#333c98"/><rect x="967.7" width="3.6" height="108.6" fill="#6aa1cb"/><rect x="970.8" width="3.6" height="108.6" fill="#7bb3d4"/><rect x="973.8" width="3.6" height="108.6" fill="#8dc1dc"/><rect x="976.8" width="3.6" height="108.6" fill="#dff3f8"/><rect x="979.9" width="3.6" height="108.6" fill="#4370b2"/><rect x="982.9" width="3.6" height="108.6" fill="#588cc0"/><rect x="985.9" width="3.6" height="108.6" fill="#9fcfe4"/><rect x="989.0" width="3.6" height="108.6" fill="#b1dceb"/><rect x="992.0" width="3.6" height="108.6" fill="#c5e6f0"/><rect x="995.1" width="3.6" height="108.6" fill="#f9fdc9"/><rect x="998.1" width="3.6" height="108.6" fill="#cce9f2"/><rect x="1001.1" width="3.6" height="108.6" fill="#8abfdb"/><rect x="1004.2" width="3.6" height="108.6" fill="#9dcee3"/><rect x="1007.2" width="3.6" height="108.6" fill="#3c59a6"/><rect x="1010.2" width="3.6" height="108.6" fill="#4777b5"/><rect x="1013.3" width="3.6" height="108.6" fill="#313695"/><rect x="1016.3" width="3.6" height="108.6" fill="#78b1d3"/><rect x="1019.3" width="3.6" height="108.6" fill="#598dc0"/><rect x="1022.4" width="3.6" height="108.6" fill="#69a0ca"/><rect x="1025.4" width="3.6" height="108.6" fill="#b2dceb"/><rect x="1028.4" width="3.6" height="108.6" fill="#eef8df"/><rect x="1031.5" width="3.6" height="108.6" fill="#cce9f2"/><rect x="1034.5" width="3.6" height="108.6" fill="#eef8df"/><rect x="1037.6" width="3.6" height="108.6" fill="#9dcee3"/><rect x="1040.6" width="3.6" height="108.6" fill="#598dc0"/><rect x="1043.6" width="3.6" height="108.6" fill="#313695"/><rect x="1046.7" width="3.6" height="108.6" fill="#3c59a6"/><rect x="1049.7" width="3.6" height="108.6" fill="#b2dceb"/><rect x="1052.7" width="3.6" height="108.6" fill="#8abfdb"/><rect x="1055.8" width="3.6" height="108.6" fill="#69a0ca"/><rect x="1058.8" width="3.6" height="108.6" fill="#78b1d3"/><rect x="1061.8" width="3.6" height="108.6" fill="#4777b5"/><rect x="1064.9" width="3.6" height="108.6" fill="#9dcee3"/><rect x="1067.9" width="3.6" height="108.6" fill="#b2dceb"/><rect x="1071.0" width="3.6" height="108.6" fill="#313695"/><rect x="1074.0" width="3.6" height="108.6" fill="#3c59a6"/><rect x="1077.0" width="3.6" height="108.6" fill="#4777b5"/><rect x="1080.1" width="3.6" height="108.6" fill="#cce9f2"/><rect x="1083.1" width="3.6" height="108.6" fill="#598dc0"/><rect x="1086.1" width="3.6" height="108.6" fill="#69a0ca"/><rect x="1089.2" width="3.6" height="108.6" fill="#78b1d3"/><rect x="1092.2" width="3.6" height="108.6" fill="#eef8df"/><rect x="1095.2" width="3.6" height="108.6" fill="#8abfdb"/><rect x="1098.3" width="3.6" height="108.6" fill="#e5f5ee"/><rect x="1101.3" width="3.6" height="108.6" fill="#37479e"/><rect x="1104.3" width="3.6" height="108.6" fill="#4a7bb7"/><rect x="1107.4" width="3.6" height="108.6" fill="#6196c5"/><rect x="1110.4" width="3.6" height="108.6" fill="#a9d7e8"/><rect x="1113.5" width="3.6" height="108.6" fill="#bbe1ee"/><rect x="1116.5" width="3.6" height="108.6" fill="#cfebf3"/><rect x="1119.5" width="3.6" height="108.6" fill="#86bbd9"/><rect x="1122.6" width="3.6" height="108.6" fill="#97c9e0"/><rect x="1125.6" width="3.6" height="108.6" fill="#73acd0"/><rect x="1128.6" width="3.6" height="108.6" fill="#f7fcce"/><rect x="1131.7" width="3.6" height="108.6" fill="#73acd0"/><rect x="1134.7" width="3.6" height="108.6" fill="#37479e"/><rect x="1137.7" width="3.6" height="108.6" fill="#fafdc8"/><rect x="1140.8" width="3.6" height="108.6" fill="#86bbd9"/><rect x="1143.8" width="3.6" height="108.6" fill="#e5f5ee"/><rect x="1146.9" width="3.6" height="108.6" fill="#a9d7e8"/><rect x="1149.9" width="3.6" height="108.6" fill="#bbe1ee"/><rect x="1152.9" width="3.6" height="108.6" fill="#cfebf3"/><rect x="1156.0" width="3.6" height="108.6" fill="#4a7bb7"/><rect x="1159.0" width="3.6" height="108.6" fill="#6196c5"/><rect x="1162.0" width="3.6" height="108.6" fill="#97c9e0"/><rect x="1165.1" width="3.6" height="108.6" fill="#cfebf3"/><rect x="1168.1" width="3.6" height="108.6" fill="#e5f5ee"/><rect x="1171.1" width="3.6" height="108.6" fill="#bbe1ee"/><rect x="1174.2" width="3.6" height="108.6" fill="#fbfec6"/><rect x="1177.2" width="3.6" height="108.6" fill="#86bbd9"/><rect x="1180.2" width="3.6" height="108.6" fill="#37479e"/><rect x="1183.3" width="3.6" height="108.6" fill="#97c9e0"/><rect x="1186.3" width="3.6" height="108.6" fill="#a9d7e8"/><rect x="1189.4" width="3.6" height="108.6" fill="#4a7bb7"/><rect x="1192.4" width="3.6" height="108.6" fill="#6196c5"/><rect x="1195.4" width="3.6" height="108.6" fill="#73acd0"/><rect x="1198.5" width="3.6" height="108.6" fill="#b3ddeb"/><rect x="1201.5" width="3.6" height="108.6" fill="#90c3dd"/><rect x="1204.5" width="3.6" height="108.6" fill="#ebf7e4"/><rect x="1207.6" width="3.6" height="108.6" fill="#d9f0f6"/><rect x="1210.6" width="3.6" height="108.6" fill="#a1d1e5"/><rect x="1213.6" width="3.6" height="108.6" fill="#c5e6f0"/><rect x="1216.7" width="3.6" height="108.6" fill="#5385bd"/><rect x="1219.7" width="3.6" height="108.6" fill="#6aa1cb"/><rect x="1222.8" width="3.6" height="108.6" fill="#7db4d5"/><rect x="1225.8" width="3.6" height="108.6" fill="#fffebd"/><rect x="1228.8" width="3.6" height="108.6" fill="#3a53a3"/><rect x="1231.9" width="3.6" height="108.6" fill="#6aa1cb"/><rect x="1234.9" width="3.6" height="108.6" fill="#7db4d5"/><rect x="1237.9" width="3.6" height="108.6" fill="#90c3dd"/><rect x="1241.0" width="3.6" height="108.6" fill="#a1d1e5"/><rect x="1244.0" width="3.6" height="108.6" fill="#5385bd"/><rect x="1247.0" width="3.6" height="108.6" fill="#3a53a3"/><rect x="1250.1" width="3.6" height="108.6" fill="#ebf7e4"/><rect x="1253.1" width="3.6" height="108.6" fill="#fbfdc7"/><rect x="1256.1" width="3.6" height="108.6" fill="#d9f0f6"/><rect x="1259.2" width="3.6" height="108.6" fill="#b3ddeb"/><rect x="1262.2" width="3.6" height="108.6" fill="#c5e6f0"/><rect x="1265.3" width="3.6" height="108.6" fill="#c5e6f0"/><rect x="1268.3" width="3.6" height="108.6" fill="#90c3dd"/><rect x="1271.3" width="3.6" height="108.6" fill="#a1d1e5"/><rect x="1274.4" width="3.6" height="108.6" fill="#b3ddeb"/><rect x="1277.4" width="3.6" height="108.6" fill="#5385bd"/><rect x="1280.4" width="3.6" height="108.6" fill="#6aa1cb"/><rect x="1283.5" width="3.6" height="108.6" fill="#7db4d5"/><rect x="1286.5" width="3.6" height="108.6" fill="#d9f0f6"/><rect x="1289.5" width="3.6" height="108.6" fill="#ebf7e4"/><rect x="1292.6" width="3.6" height="108.6" fill="#fffebe"/><rect x="1295.6" width="3.6" height="108.6" fill="#3a53a3"/><rect x="1298.7" width="3.6" height="108.6" fill="#e8f6ea"/><rect x="1301.7" width="3.6" height="108.6" fill="#92c5de"/><rect x="1304.7" width="3.6" height="108.6" fill="#a4d4e6"/><rect x="1307.8" width="3.6" height="108.6" fill="#426baf"/><rect x="1310.8" width="3.6" height="108.6" fill="#649ac7"/><rect x="1313.8" width="3.6" height="108.6" fill="#7cb4d5"/><rect x="1316.9" width="3.6" height="108.6" fill="#b6deec"/><rect x="1319.9" width="3.6" height="108.6" fill="#c7e7f1"/><rect x="1322.9" width="3.6" height="108.6" fill="#d9eff6"/><rect x="1326.0" width="3.6" height="108.6" fill="#f7fcce"/><rect x="1329.0" width="3.6" height="108.6" fill="#fefec2"/><rect x="1332.0" width="3.6" height="108.6" fill="#c7e7f1"/><rect x="1335.1" width="3.6" height="108.6" fill="#d9eff6"/><rect x="1338.1" width="3.6" height="108.6" fill="#e8f6ea"/><rect x="1341.2" width="3.6" height="108.6" fill="#f7fcce"/><rect x="1344.2" width="3.6" height="108.6" fill="#f9fdca"/><rect x="1347.2" width="3.6" height="108.6" fill="#b6deec"/><rect x="1350.3" width="3.6" height="108.6" fill="#7cb4d5"/><rect x="1353.3" width="3.6" height="108.6" fill="#92c5de"/><rect x="1356.3" width="3.6" height="108.6" fill="#a4d4e6"/><rect x="1359.4" width="3.6" height="108.6" fill="#426baf"/><rect x="1362.4" width="3.6" height="108.6" fill="#649ac7"/><rect x="1365.4" width="3.6" height="108.6" fill="#426baf"/><rect x="1368.5" width="3.6" height="108.6" fill="#7cb4d5"/><rect x="1371.5" width="3.6" height="108.6" fill="#92c5de"/><rect x="1374.6" width="3.6" height="108.6" fill="#649ac7"/><rect x="1377.6" width="3.6" height="108.6" fill="#d9eff6"/><rect x="1380.6" width="3.6" height="108.6" fill="#fafdc8"/><rect x="1383.7" width="3.6" height="108.6" fill="#a4d4e6"/><rect x="1386.7" width="3.6" height="108.6" fill="#b6deec"/><rect x="1389.7" width="3.6" height="108.6" fill="#c7e7f1"/><rect x="1392.8" width="3.6" height="108.6" fill="#e8f6ea"/><rect x="1395.8" width="3.6" height="108.6" fill="#f7fcce"/><rect x="1398.8" width="3.6" height="108.6" fill="#cfebf3"/><rect x="1401.9" width="3.6" height="108.6" fill="#37479e"/><rect x="1404.9" width="3.6" height="108.6" fill="#4a7bb7"/><rect x="1407.9" width="3.6" height="108.6" fill="#6196c5"/><rect x="1411.0" width="3.6" height="108.6" fill="#a9d7e8"/><rect x="1414.0" width="3.6" height="108.6" fill="#bbe1ee"/><rect x="1417.1" width="3.6" height="108.6" fill="#86bbd9"/><rect x="1420.1" width="3.6" height="108.6" fill="#97c9e0"/><rect x="1423.1" width="3.6" height="108.6" fill="#73acd0"/><rect x="1426.2" width="3.6" height="108.6" fill="#e5f5ee"/><rect x="1429.2" width="3.6" height="108.6" fill="#fafdc8"/><rect x="1432.2" width="3.6" height="108.6" fill="#86bbd9"/><rect x="1435.3" width="3.6" height="108.6" fill="#fbfdc6"/><rect x="1438.3" width="3.6" height="108.6" fill="#6196c5"/><rect x="1441.3" width="3.6" height="108.6" fill="#cfebf3"/><rect x="1444.4" width="3.6" height="108.6" fill="#e5f5ee"/><rect x="1447.4" width="3.6" height="108.6" fill="#97c9e0"/><rect x="1450.5" width="3.6" height="108.6" fill="#a9d7e8"/><rect x="1453.5" width="3.6" height="108.6" fill="#37479e"/><rect x="1456.5" width="3.6" height="108.6" fill="#4a7bb7"/><rect x="1459.6" width="3.6" height="108.6" fill="#73acd0"/><rect x="1462.6" width="3.6" height="108.6" fill="#bbe1ee"/><rect x="1465.6" width="3.6" height="108.6" fill="#e5f5ee"/><rect x="1468.7" width="3.6" height="108.6" fill="#f6fccf"/><rect x="1471.7" width="3.6" height="108.6" fill="#97c9e0"/><rect x="1474.7" width="3.6" height="108.6" fill="#a9d7e8"/><rect x="1477.8" width="3.6" height="108.6" fill="#6196c5"/><rect x="1480.8" width="3.6" height="108.6" fill="#bbe1ee"/><rect x="1483.8" width="3.6" height="108.6" fill="#cfebf3"/><rect x="1486.9" width="3.6" height="108.6" fill="#37479e"/><rect x="1489.9" width="3.6" height="108.6" fill="#4a7bb7"/><rect x="1493.0" width="3.6" height="108.6" fill="#73acd0"/><rect x="1496.0" width="3.6" height="108.6" fill="#86bbd9"/><rect x="1499.0" width="3.6" height="108.6" fill="#6aa1cb"/><rect x="1502.1" width="3.6" height="108.6" fill="#dff3f8"/><rect x="1505.1" width="3.6" height="108.6" fill="#f9fdc9"/><rect x="1508.1" width="3.6" height="108.6" fill="#9fcfe4"/><rect x="1511.2" width="3.6" height="108.6" fill="#b1dceb"/><rect x="1514.2" width="3.6" height="108.6" fill="#c5e6f0"/><rect x="1517.2" width="3.6" height="108.6" fill="#7bb3d4"/><rect x="1520.3" width="3.6" height="108.6" fill="#588cc0"/><rect x="1523.3" width="3.6" height="108.6" fill="#333c98"/><rect x="1526.4" width="3.6" height="108.6" fill="#4370b2"/><rect x="1529.4" width="3.6" height="108.6" fill="#8dc1dc"/><rect x="1532.4" width="3.6" height="108.6" fill="#6aa1cb"/><rect x="1535.5" width="3.6" height="108.6" fill="#7bb3d4"/><rect x="1538.5" width="3.6" height="108.6" fill="#8dc1dc"/><rect x="1541.5" width="3.6" height="108.6" fill="#333c98"/><rect x="1544.6" width="3.6" height="108.6" fill="#9fcfe4"/><rect x="1547.6" width="3.6" height="108.6" fill="#b1dceb"/><rect x="1550.6" width="3.6" height="108.6" fill="#c5e6f0"/><rect x="1553.7" width="3.6" height="108.6" fill="#588cc0"/><rect x="1556.7" width="3.6" height="108.6" fill="#f9fdc9"/><rect x="1559.7" width="3.6" height="108.6" fill="#4370b2"/><rect x="1562.8" width="3.6" height="108.6" fill="#dff3f8"/><rect x="1565.8" width="3.6" height="108.6" fill="#6aa1cb"/><rect x="1568.9" width="3.6" height="108.6" fill="#7db4d5"/><rect x="1571.9" width="3.6" height="108.6" fill="#f9fdca"/><rect x="1574.9" width="3.6" height="108.6" fill="#a1d1e5"/><rect x="1578.0" width="3.6" height="108.6" fill="#b3ddeb"/><rect x="1581.0" width="3.6" height="108.6" fill="#90c3dd"/><rect x="1584.0" width="3.6" height="108.6" fill="#3a53a3"/><rect x="1587.1" width="3.6" height="108.6" fill="#c5e6f0"/><rect x="1590.1" width="3.6" height="108.6" fill="#d9f0f6"/><rect x="1593.1" width="3.6" height="108.6" fill="#5385bd"/><rect x="1596.2" width="3.6" height="108.6" fill="#ebf7e4"/><rect x="1599.2" width="3.6" height="108.6" fill="#c5e6f0"/><rect x="1602.3" width="3.6" height="108.6" fill="#3a53a3"/><rect x="1605.3" width="3.6" height="108.6" fill="#fffebe"/><rect x="1608.3" width="3.6" height="108.6" fill="#90c3dd"/><rect x="1611.4" width="3.6" height="108.6" fill="#a1d1e5"/><rect x="1614.4" width="3.6" height="108.6" fill="#6aa1cb"/><rect x="1617.4" width="3.6" height="108.6" fill="#7db4d5"/><rect x="1620.5" width="3.6" height="108.6" fill="#5385bd"/><rect x="1623.5" width="3.6" height="108.6" fill="#d9f0f6"/><rect x="1626.5" width="3.6" height="108.6" fill="#ebf7e4"/><rect x="1629.6" width="3.6" height="108.6" fill="#b3ddeb"/><rect x="1632.6" width="3.6" height="108.6" fill="#95c8e0"/><rect x="1635.6" width="3.6" height="108.6" fill="#3f61aa"/><rect x="1638.7" width="3.6" height="108.6" fill="#6196c5"/><rect x="1641.7" width="3.6" height="108.6" fill="#7cb3d4"/><rect x="1644.8" width="3.6" height="108.6" fill="#addaea"/><rect x="1647.8" width="3.6" height="108.6" fill="#c6e6f1"/><rect x="1650.8" width="3.6" height="108.6" fill="#e2f4f4"/><rect x="1653.9" width="3.6" height="108.6" fill="#f8fccc"/></g><g transform="translate(0,792.13)"><rect x="897.9" width="3.6" height="108.6" fill="#9fd0e4"/><rect x="900.9" width="3.6" height="108.6" fill="#aedaea"/><rect x="904.0" width="3.6" height="108.6" fill="#93c6df"/><rect x="907.0" width="3.6" height="108.6" fill="#6ca4cc"/><rect x="910.0" width="3.6" height="108.6" fill="#75aed2"/><rect x="913.1" width="3.6" height="108.6" fill="#7fb6d6"/><rect x="916.1" width="3.6" height="108.6" fill="#89beda"/><rect x="919.2" width="3.6" height="108.6" fill="#436eb1"/><rect x="922.2" width="3.6" height="108.6" fill="#5689be"/><rect x="925.2" width="3.6" height="108.6" fill="#6298c6"/><rect x="928.3" width="3.6" height="108.6" fill="#c6e6f1"/><rect x="931.3" width="3.6" height="108.6" fill="#436eb1"/><rect x="934.3" width="3.6" height="108.6" fill="#5689be"/><rect x="937.4" width="3.6" height="108.6" fill="#7fb6d6"/><rect x="940.4" width="3.6" height="108.6" fill="#aedaea"/><rect x="943.4" width="3.6" height="108.6" fill="#c6e6f1"/><rect x="946.5" width="3.6" height="108.6" fill="#89beda"/><rect x="949.5" width="3.6" height="108.6" fill="#93c6df"/><rect x="952.5" width="3.6" height="108.6" fill="#9fd0e4"/><rect x="955.6" width="3.6" height="108.6" fill="#75aed2"/><rect x="958.6" width="3.6" height="108.6" fill="#6ca4cc"/><rect x="961.7" width="3.6" height="108.6" fill="#6298c6"/><rect x="964.7" width="3.6" height="108.6" fill="#89beda"/><rect x="967.7" width="3.6" height="108.6" fill="#436eb1"/><rect x="970.8" width="3.6" height="108.6" fill="#5689be"/><rect x="973.8" width="3.6" height="108.6" fill="#aedaea"/><rect x="976.8" width="3.6" height="108.6" fill="#c6e6f1"/><rect x="979.9" width="3.6" height="108.6" fill="#6298c6"/><rect x="982.9" width="3.6" height="108.6" fill="#6ca4cc"/><rect x="985.9" width="3.6" height="108.6" fill="#93c6df"/><rect x="989.0" width="3.6" height="108.6" fill="#9fd0e4"/><rect x="992.0" width="3.6" height="108.6" fill="#75aed2"/><rect x="995.1" width="3.6" height="108.6" fill="#7fb6d6"/><rect x="998.1" width="3.6" height="108.6" fill="#bde2ee"/><rect x="1001.1" width="3.6" height="108.6" fill="#89beda"/><rect x="1004.2" width="3.6" height="108.6" fill="#95c7df"/><rect x="1007.2" width="3.6" height="108.6" fill="#6499c7"/><rect x="1010.2" width="3.6" height="108.6" fill="#6ca4cc"/><rect x="1013.3" width="3.6" height="108.6" fill="#75aed1"/><rect x="1016.3" width="3.6" height="108.6" fill="#7fb6d6"/><rect x="1019.3" width="3.6" height="108.6" fill="#4d7eb9"/><rect x="1022.4" width="3.6" height="108.6" fill="#5a8ec1"/><rect x="1025.4" width="3.6" height="108.6" fill="#3f62ab"/><rect x="1028.4" width="3.6" height="108.6" fill="#a4d3e6"/><rect x="1031.5" width="3.6" height="108.6" fill="#95c7df"/><rect x="1034.5" width="3.6" height="108.6" fill="#a4d3e6"/><rect x="1037.6" width="3.6" height="108.6" fill="#7fb6d6"/><rect x="1040.6" width="3.6" height="108.6" fill="#89beda"/><rect x="1043.6" width="3.6" height="108.6" fill="#6499c7"/><rect x="1046.7" width="3.6" height="108.6" fill="#6ca4cc"/><rect x="1049.7" width="3.6" height="108.6" fill="#75aed1"/><rect x="1052.7" width="3.6" height="108.6" fill="#5a8ec1"/><rect x="1055.8" width="3.6" height="108.6" fill="#3f62ab"/><rect x="1058.8" width="3.6" height="108.6" fill="#bde2ee"/><rect x="1061.8" width="3.6" height="108.6" fill="#4d7eb9"/><rect x="1064.9" width="3.6" height="108.6" fill="#3f62ab"/><rect x="1067.9" width="3.6" height="108.6" fill="#89beda"/><rect x="1071.0" width="3.6" height="108.6" fill="#95c7df"/><rect x="1074.0" width="3.6" height="108.6" fill="#a4d3e6"/><rect x="1077.0" width="3.6" height="108.6" fill="#5a8ec1"/><rect x="1080.1" width="3.6" height="108.6" fill="#6499c7"/><rect x="1083.1" width="3.6" height="108.6" fill="#6ca4cc"/><rect x="1086.1" width="3.6" height="108.6" fill="#4d7eb9"/><rect x="1089.2" width="3.6" height="108.6" fill="#bde2ee"/><rect x="1092.2" width="3.6" height="108.6" fill="#75aed1"/><rect x="1095.2" width="3.6" height="108.6" fill="#7fb6d6"/><rect x="1098.3" width="3.6" height="108.6" fill="#a4d3e6"/><rect x="1101.3" width="3.6" height="108.6" fill="#bde2ee"/><rect x="1104.3" width="3.6" height="108.6" fill="#7fb6d6"/><rect x="1107.4" width="3.6" height="108.6" fill="#89beda"/><rect x="1110.4" width="3.6" height="108.6" fill="#6499c7"/><rect x="1113.5" width="3.6" height="108.6" fill="#6ca4cc"/><rect x="1116.5" width="3.6" height="108.6" fill="#75aed1"/><rect x="1119.5" width="3.6" height="108.6" fill="#3f62ab"/><rect x="1122.6" width="3.6" height="108.6" fill="#4d7eb9"/><rect x="1125.6" width="3.6" height="108.6" fill="#5a8ec1"/><rect x="1128.6" width="3.6" height="108.6" fill="#95c7df"/><rect x="1131.7" width="3.6" height="108.6" fill="#7fb6d6"/><rect x="1134.7" width="3.6" height="108.6" fill="#89beda"/><rect x="1137.7" width="3.6" height="108.6" fill="#bde2ee"/><rect x="1140.8" width="3.6" height="108.6" fill="#a4d3e6"/><rect x="1143.8" width="3.6" height="108.6" fill="#5a8ec1"/><rect x="1146.9" width="3.6" height="108.6" fill="#6499c7"/><rect x="1149.9" width="3.6" height="108.6" fill="#6ca4cc"/><rect x="1152.9" width="3.6" height="108.6" fill="#75aed1"/><rect x="1156.0" width="3.6" height="108.6" fill="#3f62ab"/><rect x="1159.0" width="3.6" height="108.6" fill="#4d7eb9"/><rect x="1162.0" width="3.6" height="108.6" fill="#95c7df"/><rect x="1165.1" width="3.6" height="108.6" fill="#95c7df"/><rect x="1168.1" width="3.6" height="108.6" fill="#a4d3e6"/><rect x="1171.1" width="3.6" height="108.6" fill="#4d7eb9"/><rect x="1174.2" width="3.6" height="108.6" fill="#5a8ec1"/><rect x="1177.2" width="3.6" height="108.6" fill="#6499c7"/><rect x="1180.2" width="3.6" height="108.6" fill="#7fb6d6"/><rect x="1183.3" width="3.6" height="108.6" fill="#89beda"/><rect x="1186.3" width="3.6" height="108.6" fill="#6ca4cc"/><rect x="1189.4" width="3.6" height="108.6" fill="#bde2ee"/><rect x="1192.4" width="3.6" height="108.6" fill="#75aed1"/><rect x="1195.4" width="3.6" height="108.6" fill="#3f62ab"/><rect x="1198.5" width="3.6" height="108.6" fill="#bde2ee"/><rect x="1201.5" width="3.6" height="108.6" fill="#75aed1"/><rect x="1204.5" width="3.6" height="108.6" fill="#6499c7"/><rect x="1207.6" width="3.6" height="108.6" fill="#7fb6d6"/><rect x="1210.6" width="3.6" height="108.6" fill="#89beda"/><rect x="1213.6" width="3.6" height="108.6" fill="#95c7df"/><rect x="1216.7" width="3.6" height="108.6" fill="#a4d3e6"/><rect x="1219.7" width="3.6" height="108.6" fill="#6ca4cc"/><rect x="1222.8" width="3.6" height="108.6" fill="#3f62ab"/><rect x="1225.8" width="3.6" height="108.6" fill="#4d7eb9"/><rect x="1228.8" width="3.6" height="108.6" fill="#5a8ec1"/><rect x="1231.9" width="3.6" height="108.6" fill="#89beda"/><rect x="1234.9" width="3.6" height="108.6" fill="#95c7df"/><rect x="1237.9" width="3.6" height="108.6" fill="#5a8ec1"/><rect x="1241.0" width="3.6" height="108.6" fill="#a4d3e6"/><rect x="1244.0" width="3.6" height="108.6" fill="#6499c7"/><rect x="1247.0" width="3.6" height="108.6" fill="#6ca4cc"/><rect x="1250.1" width="3.6" height="108.6" fill="#bde2ee"/><rect x="1253.1" width="3.6" height="108.6" fill="#75aed1"/><rect x="1256.1" width="3.6" height="108.6" fill="#7fb6d6"/><rect x="1259.2" width="3.6" height="108.6" fill="#3f62ab"/><rect x="1262.2" width="3.6" height="108.6" fill="#4d7eb9"/><rect x="1265.3" width="3.6" height="108.6" fill="#6499c7"/><rect x="1268.3" width="3.6" height="108.6" fill="#6ca4cc"/><rect x="1271.3" width="3.6" height="108.6" fill="#4d7eb9"/><rect x="1274.4" width="3.6" height="108.6" fill="#5a8ec1"/><rect x="1277.4" width="3.6" height="108.6" fill="#a4d3e6"/><rect x="1280.4" width="3.6" height="108.6" fill="#bde2ee"/><rect x="1283.5" width="3.6" height="108.6" fill="#95c7df"/><rect x="1286.5" width="3.6" height="108.6" fill="#89beda"/><rect x="1289.5" width="3.6" height="108.6" fill="#75aed1"/><rect x="1292.6" width="3.6" height="108.6" fill="#7fb6d6"/><rect x="1295.6" width="3.6" height="108.6" fill="#3f62ab"/><rect x="1298.7" width="3.6" height="108.6" fill="#5b8fc1"/><rect x="1301.7" width="3.6" height="108.6" fill="#649ac7"/><rect x="1304.7" width="3.6" height="108.6" fill="#5183bb"/><rect x="1307.8" width="3.6" height="108.6" fill="#9acbe1"/><rect x="1310.8" width="3.6" height="108.6" fill="#b3ddeb"/><rect x="1313.8" width="3.6" height="108.6" fill="#6ca4cc"/><rect x="1316.9" width="3.6" height="108.6" fill="#75add1"/><rect x="1319.9" width="3.6" height="108.6" fill="#7fb6d6"/><rect x="1322.9" width="3.6" height="108.6" fill="#8bbfdb"/><rect x="1326.0" width="3.6" height="108.6" fill="#3b57a5"/><rect x="1329.0" width="3.6" height="108.6" fill="#4574b3"/><rect x="1332.0" width="3.6" height="108.6" fill="#5b8fc1"/><rect x="1335.1" width="3.6" height="108.6" fill="#649ac7"/><rect x="1338.1" width="3.6" height="108.6" fill="#9acbe1"/><rect x="1341.2" width="3.6" height="108.6" fill="#6ca4cc"/><rect x="1344.2" width="3.6" height="108.6" fill="#75add1"/><rect x="1347.2" width="3.6" height="108.6" fill="#7fb6d6"/><rect x="1350.3" width="3.6" height="108.6" fill="#3b57a5"/><rect x="1353.3" width="3.6" height="108.6" fill="#4574b3"/><rect x="1356.3" width="3.6" height="108.6" fill="#5183bb"/><rect x="1359.4" width="3.6" height="108.6" fill="#8bbfdb"/><rect x="1362.4" width="3.6" height="108.6" fill="#b3ddeb"/><rect x="1365.4" width="3.6" height="108.6" fill="#7fb6d6"/><rect x="1368.5" width="3.6" height="108.6" fill="#8bbfdb"/><rect x="1371.5" width="3.6" height="108.6" fill="#9acbe1"/><rect x="1374.6" width="3.6" height="108.6" fill="#b3ddeb"/><rect x="1377.6" width="3.6" height="108.6" fill="#3b57a5"/><rect x="1380.6" width="3.6" height="108.6" fill="#5b8fc1"/><rect x="1383.7" width="3.6" height="108.6" fill="#649ac7"/><rect x="1386.7" width="3.6" height="108.6" fill="#4574b3"/><rect x="1389.7" width="3.6" height="108.6" fill="#5183bb"/><rect x="1392.8" width="3.6" height="108.6" fill="#6ca4cc"/><rect x="1395.8" width="3.6" height="108.6" fill="#75add1"/><rect x="1398.8" width="3.6" height="108.6" fill="#8bbfdb"/><rect x="1401.9" width="3.6" height="108.6" fill="#b3ddeb"/><rect x="1404.9" width="3.6" height="108.6" fill="#3b57a5"/><rect x="1407.9" width="3.6" height="108.6" fill="#6ca4cc"/><rect x="1411.0" width="3.6" height="108.6" fill="#75add1"/><rect x="1414.0" width="3.6" height="108.6" fill="#7fb6d6"/><rect x="1417.1" width="3.6" height="108.6" fill="#649ac7"/><rect x="1420.1" width="3.6" height="108.6" fill="#9acbe1"/><rect x="1423.1" width="3.6" height="108.6" fill="#4574b3"/><rect x="1426.2" width="3.6" height="108.6" fill="#5183bb"/><rect x="1429.2" width="3.6" height="108.6" fill="#5b8fc1"/><rect x="1432.2" width="3.6" height="108.6" fill="#5183bb"/><rect x="1435.3" width="3.6" height="108.6" fill="#5b8fc1"/><rect x="1438.3" width="3.6" height="108.6" fill="#649ac7"/><rect x="1441.3" width="3.6" height="108.6" fill="#4574b3"/><rect x="1444.4" width="3.6" height="108.6" fill="#6ca4cc"/><rect x="1447.4" width="3.6" height="108.6" fill="#75add1"/><rect x="1450.5" width="3.6" height="108.6" fill="#b3ddeb"/><rect x="1453.5" width="3.6" height="108.6" fill="#3b57a5"/><rect x="1456.5" width="3.6" height="108.6" fill="#7fb6d6"/><rect x="1459.6" width="3.6" height="108.6" fill="#8bbfdb"/><rect x="1462.6" width="3.6" height="108.6" fill="#9acbe1"/><rect x="1465.6" width="3.6" height="108.6" fill="#5b8fc1"/><rect x="1468.7" width="3.6" height="108.6" fill="#649ac7"/><rect x="1471.7" width="3.6" height="108.6" fill="#6ca4cc"/><rect x="1474.7" width="3.6" height="108.6" fill="#9acbe1"/><rect x="1477.8" width="3.6" height="108.6" fill="#b3ddeb"/><rect x="1480.8" width="3.6" height="108.6" fill="#3b57a5"/><rect x="1483.8" width="3.6" height="108.6" fill="#4574b3"/><rect x="1486.9" width="3.6" height="108.6" fill="#5183bb"/><rect x="1489.9" width="3.6" height="108.6" fill="#75add1"/><rect x="1493.0" width="3.6" height="108.6" fill="#7fb6d6"/><rect x="1496.0" width="3.6" height="108.6" fill="#8bbfdb"/><rect x="1499.0" width="3.6" height="108.6" fill="#436eb1"/><rect x="1502.1" width="3.6" height="108.6" fill="#7fb6d6"/><rect x="1505.1" width="3.6" height="108.6" fill="#89beda"/><rect x="1508.1" width="3.6" height="108.6" fill="#93c6df"/><rect x="1511.2" width="3.6" height="108.6" fill="#75aed2"/><rect x="1514.2" width="3.6" height="108.6" fill="#5689be"/><rect x="1517.2" width="3.6" height="108.6" fill="#6298c6"/><rect x="1520.3" width="3.6" height="108.6" fill="#6ca4cc"/><rect x="1523.3" width="3.6" height="108.6" fill="#9fd0e4"/><rect x="1526.4" width="3.6" height="108.6" fill="#aedaea"/><rect x="1529.4" width="3.6" height="108.6" fill="#c6e6f1"/><rect x="1532.4" width="3.6" height="108.6" fill="#7fb6d6"/><rect x="1535.5" width="3.6" height="108.6" fill="#89beda"/><rect x="1538.5" width="3.6" height="108.6" fill="#436eb1"/><rect x="1541.5" width="3.6" height="108.6" fill="#5689be"/><rect x="1544.6" width="3.6" height="108.6" fill="#93c6df"/><rect x="1547.6" width="3.6" height="108.6" fill="#9fd0e4"/><rect x="1550.6" width="3.6" height="108.6" fill="#75aed2"/><rect x="1553.7" width="3.6" height="108.6" fill="#6298c6"/><rect x="1556.7" width="3.6" height="108.6" fill="#6ca4cc"/><rect x="1559.7" width="3.6" height="108.6" fill="#aedaea"/><rect x="1562.8" width="3.6" height="108.6" fill="#c6e6f1"/><rect x="1565.8" width="3.6" height="108.6" fill="#b3ddeb"/><rect x="1568.9" width="3.6" height="108.6" fill="#4574b3"/><rect x="1571.9" width="3.6" height="108.6" fill="#5183bb"/><rect x="1574.9" width="3.6" height="108.6" fill="#649ac7"/><rect x="1578.0" width="3.6" height="108.6" fill="#5b8fc1"/><rect x="1581.0" width="3.6" height="108.6" fill="#8bbfdb"/><rect x="1584.0" width="3.6" height="108.6" fill="#9acbe1"/><rect x="1587.1" width="3.6" height="108.6" fill="#75add1"/><rect x="1590.1" width="3.6" height="108.6" fill="#7fb6d6"/><rect x="1593.1" width="3.6" height="108.6" fill="#3b57a5"/><rect x="1596.2" width="3.6" height="108.6" fill="#6ca4cc"/><rect x="1599.2" width="3.6" height="108.6" fill="#75add1"/><rect x="1602.3" width="3.6" height="108.6" fill="#5183bb"/><rect x="1605.3" width="3.6" height="108.6" fill="#5b8fc1"/><rect x="1608.3" width="3.6" height="108.6" fill="#649ac7"/><rect x="1611.4" width="3.6" height="108.6" fill="#3b57a5"/><rect x="1614.4" width="3.6" height="108.6" fill="#4574b3"/><rect x="1617.4" width="3.6" height="108.6" fill="#9acbe1"/><rect x="1620.5" width="3.6" height="108.6" fill="#b3ddeb"/><rect x="1623.5" width="3.6" height="108.6" fill="#6ca4cc"/><rect x="1626.5" width="3.6" height="108.6" fill="#7fb6d6"/><rect x="1629.6" width="3.6" height="108.6" fill="#8bbfdb"/><rect x="1632.6" width="3.6" height="108.6" fill="#3e5ea9"/><rect x="1635.6" width="3.6" height="108.6" fill="#4c7db8"/><rect x="1638.7" width="3.6" height="108.6" fill="#5a8ec1"/><rect x="1641.7" width="3.6" height="108.6" fill="#669dc9"/><rect x="1644.8" width="3.6" height="108.6" fill="#72aad0"/><rect x="1647.8" width="3.6" height="108.6" fill="#80b6d6"/><rect x="1650.8" width="3.6" height="108.6" fill="#91c4de"/><rect x="1653.9" width="3.6" height="108.6" fill="#acdae9"/></g><g transform="translate(0,900.26)"><rect x="897.9" width="3.6" height="108.6" fill="#36449c"/><rect x="900.9" width="3.6" height="108.6" fill="#5689be"/><rect x="904.0" width="3.6" height="108.6" fill="#4a7bb7"/><rect x="907.0" width="3.6" height="108.6" fill="#4167ad"/><rect x="910.0" width="3.6" height="108.6" fill="#6196c5"/><rect x="913.1" width="3.6" height="108.6" fill="#a1d1e5"/><rect x="916.1" width="3.6" height="108.6" fill="#bfe3ef"/><rect x="919.2" width="3.6" height="108.6" fill="#81b8d7"/><rect x="922.2" width="3.6" height="108.6" fill="#8fc3dd"/><rect x="925.2" width="3.6" height="108.6" fill="#6ba2cb"/><rect x="928.3" width="3.6" height="108.6" fill="#75aed1"/><rect x="931.3" width="3.6" height="108.6" fill="#4167ad"/><rect x="934.3" width="3.6" height="108.6" fill="#81b8d7"/><rect x="937.4" width="3.6" height="108.6" fill="#8fc3dd"/><rect x="940.4" width="3.6" height="108.6" fill="#a1d1e5"/><rect x="943.4" width="3.6" height="108.6" fill="#bfe3ef"/><rect x="946.5" width="3.6" height="108.6" fill="#4a7bb7"/><rect x="949.5" width="3.6" height="108.6" fill="#5689be"/><rect x="952.5" width="3.6" height="108.6" fill="#6196c5"/><rect x="955.6" width="3.6" height="108.6" fill="#6ba2cb"/><rect x="958.6" width="3.6" height="108.6" fill="#75aed1"/><rect x="961.7" width="3.6" height="108.6" fill="#36449c"/><rect x="964.7" width="3.6" height="108.6" fill="#6196c5"/><rect x="967.7" width="3.6" height="108.6" fill="#4167ad"/><rect x="970.8" width="3.6" height="108.6" fill="#4a7bb7"/><rect x="973.8" width="3.6" height="108.6" fill="#5689be"/><rect x="976.8" width="3.6" height="108.6" fill="#75aed1"/><rect x="979.9" width="3.6" height="108.6" fill="#bfe3ef"/><rect x="982.9" width="3.6" height="108.6" fill="#81b8d7"/><rect x="985.9" width="3.6" height="108.6" fill="#8fc3dd"/><rect x="989.0" width="3.6" height="108.6" fill="#a1d1e5"/><rect x="992.0" width="3.6" height="108.6" fill="#36449c"/><rect x="995.1" width="3.6" height="108.6" fill="#6ba2cb"/><rect x="998.1" width="3.6" height="108.6" fill="#6da5cd"/><rect x="1001.1" width="3.6" height="108.6" fill="#7ab2d4"/><rect x="1004.2" width="3.6" height="108.6" fill="#aad8e9"/><rect x="1007.2" width="3.6" height="108.6" fill="#b8dfed"/><rect x="1010.2" width="3.6" height="108.6" fill="#86bcd9"/><rect x="1013.3" width="3.6" height="108.6" fill="#e4f4f1"/><rect x="1016.3" width="3.6" height="108.6" fill="#92c5de"/><rect x="1019.3" width="3.6" height="108.6" fill="#9ecee3"/><rect x="1022.4" width="3.6" height="108.6" fill="#4473b3"/><rect x="1025.4" width="3.6" height="108.6" fill="#5e92c3"/><rect x="1028.4" width="3.6" height="108.6" fill="#c9e8f2"/><rect x="1031.5" width="3.6" height="108.6" fill="#6da5cd"/><rect x="1034.5" width="3.6" height="108.6" fill="#86bcd9"/><rect x="1037.6" width="3.6" height="108.6" fill="#92c5de"/><rect x="1040.6" width="3.6" height="108.6" fill="#9ecee3"/><rect x="1043.6" width="3.6" height="108.6" fill="#aad8e9"/><rect x="1046.7" width="3.6" height="108.6" fill="#7ab2d4"/><rect x="1049.7" width="3.6" height="108.6" fill="#b8dfed"/><rect x="1052.7" width="3.6" height="108.6" fill="#c9e8f2"/><rect x="1055.8" width="3.6" height="108.6" fill="#e4f4f1"/><rect x="1058.8" width="3.6" height="108.6" fill="#4473b3"/><rect x="1061.8" width="3.6" height="108.6" fill="#5e92c3"/><rect x="1064.9" width="3.6" height="108.6" fill="#4473b3"/><rect x="1067.9" width="3.6" height="108.6" fill="#5e92c3"/><rect x="1071.0" width="3.6" height="108.6" fill="#e4f4f1"/><rect x="1074.0" width="3.6" height="108.6" fill="#86bcd9"/><rect x="1077.0" width="3.6" height="108.6" fill="#b8dfed"/><rect x="1080.1" width="3.6" height="108.6" fill="#c9e8f2"/><rect x="1083.1" width="3.6" height="108.6" fill="#92c5de"/><rect x="1086.1" width="3.6" height="108.6" fill="#6da5cd"/><rect x="1089.2" width="3.6" height="108.6" fill="#7ab2d4"/><rect x="1092.2" width="3.6" height="108.6" fill="#9ecee3"/><rect x="1095.2" width="3.6" height="108.6" fill="#aad8e9"/><rect x="1098.3" width="3.6" height="108.6" fill="#acd9e9"/><rect x="1101.3" width="3.6" height="108.6" fill="#73acd1"/><rect x="1104.3" width="3.6" height="108.6" fill="#7fb6d6"/><rect x="1107.4" width="3.6" height="108.6" fill="#c9e8f1"/><rect x="1110.4" width="3.6" height="108.6" fill="#3950a2"/><rect x="1113.5" width="3.6" height="108.6" fill="#4473b3"/><rect x="1116.5" width="3.6" height="108.6" fill="#5385bc"/><rect x="1119.5" width="3.6" height="108.6" fill="#5f94c4"/><rect x="1122.6" width="3.6" height="108.6" fill="#69a0ca"/><rect x="1125.6" width="3.6" height="108.6" fill="#9acbe1"/><rect x="1128.6" width="3.6" height="108.6" fill="#8cc0db"/><rect x="1131.7" width="3.6" height="108.6" fill="#9acbe1"/><rect x="1134.7" width="3.6" height="108.6" fill="#acd9e9"/><rect x="1137.7" width="3.6" height="108.6" fill="#c9e8f1"/><rect x="1140.8" width="3.6" height="108.6" fill="#5f94c4"/><rect x="1143.8" width="3.6" height="108.6" fill="#69a0ca"/><rect x="1146.9" width="3.6" height="108.6" fill="#5385bc"/><rect x="1149.9" width="3.6" height="108.6" fill="#3950a2"/><rect x="1152.9" width="3.6" height="108.6" fill="#4473b3"/><rect x="1156.0" width="3.6" height="108.6" fill="#7fb6d6"/><rect x="1159.0" width="3.6" height="108.6" fill="#8cc0db"/><rect x="1162.0" width="3.6" height="108.6" fill="#73acd1"/><rect x="1165.1" width="3.6" height="108.6" fill="#69a0ca"/><rect x="1168.1" width="3.6" height="108.6" fill="#3950a2"/><rect x="1171.1" width="3.6" height="108.6" fill="#5f94c4"/><rect x="1174.2" width="3.6" height="108.6" fill="#acd9e9"/><rect x="1177.2" width="3.6" height="108.6" fill="#c9e8f1"/><rect x="1180.2" width="3.6" height="108.6" fill="#8cc0db"/><rect x="1183.3" width="3.6" height="108.6" fill="#9acbe1"/><rect x="1186.3" width="3.6" height="108.6" fill="#73acd1"/><rect x="1189.4" width="3.6" height="108.6" fill="#7fb6d6"/><rect x="1192.4" width="3.6" height="108.6" fill="#4473b3"/><rect x="1195.4" width="3.6" height="108.6" fill="#5385bc"/><rect x="1198.5" width="3.6" height="108.6" fill="#aedaea"/><rect x="1201.5" width="3.6" height="108.6" fill="#bfe3ef"/><rect x="1204.5" width="3.6" height="108.6" fill="#88bdda"/><rect x="1207.6" width="3.6" height="108.6" fill="#94c6df"/><rect x="1210.6" width="3.6" height="108.6" fill="#a0d0e4"/><rect x="1213.6" width="3.6" height="108.6" fill="#7cb3d5"/><rect x="1216.7" width="3.6" height="108.6" fill="#ddf1f7"/><rect x="1219.7" width="3.6" height="108.6" fill="#649ac7"/><rect x="1222.8" width="3.6" height="108.6" fill="#70a9cf"/><rect x="1225.8" width="3.6" height="108.6" fill="#4167ad"/><rect x="1228.8" width="3.6" height="108.6" fill="#5588be"/><rect x="1231.9" width="3.6" height="108.6" fill="#88bdda"/><rect x="1234.9" width="3.6" height="108.6" fill="#94c6df"/><rect x="1237.9" width="3.6" height="108.6" fill="#ddf1f7"/><rect x="1241.0" width="3.6" height="108.6" fill="#aedaea"/><rect x="1244.0" width="3.6" height="108.6" fill="#bfe3ef"/><rect x="1247.0" width="3.6" height="108.6" fill="#649ac7"/><rect x="1250.1" width="3.6" height="108.6" fill="#70a9cf"/><rect x="1253.1" width="3.6" height="108.6" fill="#7cb3d5"/><rect x="1256.1" width="3.6" height="108.6" fill="#4167ad"/><rect x="1259.2" width="3.6" height="108.6" fill="#5588be"/><rect x="1262.2" width="3.6" height="108.6" fill="#a0d0e4"/><rect x="1265.3" width="3.6" height="108.6" fill="#7cb3d5"/><rect x="1268.3" width="3.6" height="108.6" fill="#4167ad"/><rect x="1271.3" width="3.6" height="108.6" fill="#5588be"/><rect x="1274.4" width="3.6" height="108.6" fill="#649ac7"/><rect x="1277.4" width="3.6" height="108.6" fill="#70a9cf"/><rect x="1280.4" width="3.6" height="108.6" fill="#a0d0e4"/><rect x="1283.5" width="3.6" height="108.6" fill="#aedaea"/><rect x="1286.5" width="3.6" height="108.6" fill="#bfe3ef"/><rect x="1289.5" width="3.6" height="108.6" fill="#94c6df"/><rect x="1292.6" width="3.6" height="108.6" fill="#88bdda"/><rect x="1295.6" width="3.6" height="108.6" fill="#ddf1f7"/><rect x="1298.7" width="3.6" height="108.6" fill="#8cc0db"/><rect x="1301.7" width="3.6" height="108.6" fill="#73acd1"/><rect x="1304.7" width="3.6" height="108.6" fill="#7fb6d6"/><rect x="1307.8" width="3.6" height="108.6" fill="#3950a2"/><rect x="1310.8" width="3.6" height="108.6" fill="#9acbe1"/><rect x="1313.8" width="3.6" height="108.6" fill="#4473b3"/><rect x="1316.9" width="3.6" height="108.6" fill="#5385bc"/><rect x="1319.9" width="3.6" height="108.6" fill="#c9e8f1"/><rect x="1322.9" width="3.6" height="108.6" fill="#acd9e9"/><rect x="1326.0" width="3.6" height="108.6" fill="#5f94c4"/><rect x="1329.0" width="3.6" height="108.6" fill="#69a0ca"/><rect x="1332.0" width="3.6" height="108.6" fill="#4473b3"/><rect x="1335.1" width="3.6" height="108.6" fill="#5385bc"/><rect x="1338.1" width="3.6" height="108.6" fill="#5f94c4"/><rect x="1341.2" width="3.6" height="108.6" fill="#73acd1"/><rect x="1344.2" width="3.6" height="108.6" fill="#69a0ca"/><rect x="1347.2" width="3.6" height="108.6" fill="#3950a2"/><rect x="1350.3" width="3.6" height="108.6" fill="#8cc0db"/><rect x="1353.3" width="3.6" height="108.6" fill="#9acbe1"/><rect x="1356.3" width="3.6" height="108.6" fill="#acd9e9"/><rect x="1359.4" width="3.6" height="108.6" fill="#c9e8f1"/><rect x="1362.4" width="3.6" height="108.6" fill="#7fb6d6"/><rect x="1365.4" width="3.6" height="108.6" fill="#8cc0db"/><rect x="1368.5" width="3.6" height="108.6" fill="#9acbe1"/><rect x="1371.5" width="3.6" height="108.6" fill="#acd9e9"/><rect x="1374.6" width="3.6" height="108.6" fill="#c9e8f1"/><rect x="1377.6" width="3.6" height="108.6" fill="#69a0ca"/><rect x="1380.6" width="3.6" height="108.6" fill="#73acd1"/><rect x="1383.7" width="3.6" height="108.6" fill="#7fb6d6"/><rect x="1386.7" width="3.6" height="108.6" fill="#3950a2"/><rect x="1389.7" width="3.6" height="108.6" fill="#4473b3"/><rect x="1392.8" width="3.6" height="108.6" fill="#5385bc"/><rect x="1395.8" width="3.6" height="108.6" fill="#5f94c4"/><rect x="1398.8" width="3.6" height="108.6" fill="#3950a2"/><rect x="1401.9" width="3.6" height="108.6" fill="#73acd1"/><rect x="1404.9" width="3.6" height="108.6" fill="#7fb6d6"/><rect x="1407.9" width="3.6" height="108.6" fill="#9acbe1"/><rect x="1411.0" width="3.6" height="108.6" fill="#acd9e9"/><rect x="1414.0" width="3.6" height="108.6" fill="#c9e8f1"/><rect x="1417.1" width="3.6" height="108.6" fill="#69a0ca"/><rect x="1420.1" width="3.6" height="108.6" fill="#4473b3"/><rect x="1423.1" width="3.6" height="108.6" fill="#5385bc"/><rect x="1426.2" width="3.6" height="108.6" fill="#5f94c4"/><rect x="1429.2" width="3.6" height="108.6" fill="#8cc0db"/><rect x="1432.2" width="3.6" height="108.6" fill="#3950a2"/><rect x="1435.3" width="3.6" height="108.6" fill="#4473b3"/><rect x="1438.3" width="3.6" height="108.6" fill="#5385bc"/><rect x="1441.3" width="3.6" height="108.6" fill="#9acbe1"/><rect x="1444.4" width="3.6" height="108.6" fill="#5f94c4"/><rect x="1447.4" width="3.6" height="108.6" fill="#69a0ca"/><rect x="1450.5" width="3.6" height="108.6" fill="#73acd1"/><rect x="1453.5" width="3.6" height="108.6" fill="#7fb6d6"/><rect x="1456.5" width="3.6" height="108.6" fill="#8cc0db"/><rect x="1459.6" width="3.6" height="108.6" fill="#acd9e9"/><rect x="1462.6" width="3.6" height="108.6" fill="#c9e8f1"/><rect x="1465.6" width="3.6" height="108.6" fill="#4473b3"/><rect x="1468.7" width="3.6" height="108.6" fill="#5385bc"/><rect x="1471.7" width="3.6" height="108.6" fill="#5f94c4"/><rect x="1474.7" width="3.6" height="108.6" fill="#7fb6d6"/><rect x="1477.8" width="3.6" height="108.6" fill="#8cc0db"/><rect x="1480.8" width="3.6" height="108.6" fill="#c9e8f1"/><rect x="1483.8" width="3.6" height="108.6" fill="#9acbe1"/><rect x="1486.9" width="3.6" height="108.6" fill="#acd9e9"/><rect x="1489.9" width="3.6" height="108.6" fill="#73acd1"/><rect x="1493.0" width="3.6" height="108.6" fill="#3950a2"/><rect x="1496.0" width="3.6" height="108.6" fill="#69a0ca"/><rect x="1499.0" width="3.6" height="108.6" fill="#6da5cd"/><rect x="1502.1" width="3.6" height="108.6" fill="#4473b3"/><rect x="1505.1" width="3.6" height="108.6" fill="#5e92c3"/><rect x="1508.1" width="3.6" height="108.6" fill="#92c5de"/><rect x="1511.2" width="3.6" height="108.6" fill="#9ecee3"/><rect x="1514.2" width="3.6" height="108.6" fill="#e4f4f1"/><rect x="1517.2" width="3.6" height="108.6" fill="#7ab2d4"/><rect x="1520.3" width="3.6" height="108.6" fill="#86bcd9"/><rect x="1523.3" width="3.6" height="108.6" fill="#c9e8f2"/><rect x="1526.4" width="3.6" height="108.6" fill="#aad8e9"/><rect x="1529.4" width="3.6" height="108.6" fill="#b8dfed"/><rect x="1532.4" width="3.6" height="108.6" fill="#4473b3"/><rect x="1535.5" width="3.6" height="108.6" fill="#5e92c3"/><rect x="1538.5" width="3.6" height="108.6" fill="#6da5cd"/><rect x="1541.5" width="3.6" height="108.6" fill="#92c5de"/><rect x="1544.6" width="3.6" height="108.6" fill="#9ecee3"/><rect x="1547.6" width="3.6" height="108.6" fill="#7ab2d4"/><rect x="1550.6" width="3.6" height="108.6" fill="#aad8e9"/><rect x="1553.7" width="3.6" height="108.6" fill="#b8dfed"/><rect x="1556.7" width="3.6" height="108.6" fill="#c9e8f2"/><rect x="1559.7" width="3.6" height="108.6" fill="#86bcd9"/><rect x="1562.8" width="3.6" height="108.6" fill="#e4f4f1"/><rect x="1565.8" width="3.6" height="108.6" fill="#8fc3dd"/><rect x="1568.9" width="3.6" height="108.6" fill="#a1d1e5"/><rect x="1571.9" width="3.6" height="108.6" fill="#bfe3ef"/><rect x="1574.9" width="3.6" height="108.6" fill="#75aed1"/><rect x="1578.0" width="3.6" height="108.6" fill="#81b8d7"/><rect x="1581.0" width="3.6" height="108.6" fill="#6196c5"/><rect x="1584.0" width="3.6" height="108.6" fill="#6ba2cb"/><rect x="1587.1" width="3.6" height="108.6" fill="#36449c"/><rect x="1590.1" width="3.6" height="108.6" fill="#4167ad"/><rect x="1593.1" width="3.6" height="108.6" fill="#4a7bb7"/><rect x="1596.2" width="3.6" height="108.6" fill="#5689be"/><rect x="1599.2" width="3.6" height="108.6" fill="#81b8d7"/><rect x="1602.3" width="3.6" height="108.6" fill="#8fc3dd"/><rect x="1605.3" width="3.6" height="108.6" fill="#5689be"/><rect x="1608.3" width="3.6" height="108.6" fill="#6196c5"/><rect x="1611.4" width="3.6" height="108.6" fill="#6ba2cb"/><rect x="1614.4" width="3.6" height="108.6" fill="#75aed1"/><rect x="1617.4" width="3.6" height="108.6" fill="#36449c"/><rect x="1620.5" width="3.6" height="108.6" fill="#4167ad"/><rect x="1623.5" width="3.6" height="108.6" fill="#4a7bb7"/><rect x="1626.5" width="3.6" height="108.6" fill="#a1d1e5"/><rect x="1629.6" width="3.6" height="108.6" fill="#bfe3ef"/><rect x="1632.6" width="3.6" height="108.6" fill="#649ac7"/><rect x="1635.6" width="3.6" height="108.6" fill="#97c9e0"/><rect x="1638.7" width="3.6" height="108.6" fill="#b7dfec"/><rect x="1641.7" width="3.6" height="108.6" fill="#82b8d7"/><rect x="1644.8" width="3.6" height="108.6" fill="#5588be"/><rect x="1647.8" width="3.6" height="108.6" fill="#384da1"/><rect x="1650.8" width="3.6" height="108.6" fill="#4473b3"/><rect x="1653.9" width="3.6" height="108.6" fill="#72aacf"/></g><g transform="translate(0,1008.39)"><rect x="897.9" width="3.6" height="108.6" fill="#ee603d"/><rect x="900.9" width="3.6" height="108.6" fill="#f7854e"/><rect x="904.0" width="3.6" height="108.6" fill="#fdb567"/><rect x="907.0" width="3.6" height="108.6" fill="#fb9f5a"/><rect x="910.0" width="3.6" height="108.6" fill="#f99053"/><rect x="913.1" width="3.6" height="108.6" fill="#e95638"/><rect x="916.1" width="3.6" height="108.6" fill="#e34832"/><rect x="919.2" width="3.6" height="108.6" fill="#d83228"/><rect x="922.2" width="3.6" height="108.6" fill="#f26941"/><rect x="925.2" width="3.6" height="108.6" fill="#f67c4a"/><rect x="928.3" width="3.6" height="108.6" fill="#f57245"/><rect x="931.3" width="3.6" height="108.6" fill="#f26941"/><rect x="934.3" width="3.6" height="108.6" fill="#ee603d"/><rect x="937.4" width="3.6" height="108.6" fill="#e95638"/><rect x="940.4" width="3.6" height="108.6" fill="#e34832"/><rect x="943.4" width="3.6" height="108.6" fill="#fb9f5a"/><rect x="946.5" width="3.6" height="108.6" fill="#d83228"/><rect x="949.5" width="3.6" height="108.6" fill="#f67c4a"/><rect x="952.5" width="3.6" height="108.6" fill="#f99053"/><rect x="955.6" width="3.6" height="108.6" fill="#f7854e"/><rect x="958.6" width="3.6" height="108.6" fill="#fdb567"/><rect x="961.7" width="3.6" height="108.6" fill="#f57245"/><rect x="964.7" width="3.6" height="108.6" fill="#ee603d"/><rect x="967.7" width="3.6" height="108.6" fill="#e95638"/><rect x="970.8" width="3.6" height="108.6" fill="#fb9f5a"/><rect x="973.8" width="3.6" height="108.6" fill="#f99053"/><rect x="976.8" width="3.6" height="108.6" fill="#e34832"/><rect x="979.9" width="3.6" height="108.6" fill="#d83228"/><rect x="982.9" width="3.6" height="108.6" fill="#fdb567"/><rect x="985.9" width="3.6" height="108.6" fill="#f67c4a"/><rect x="989.0" width="3.6" height="108.6" fill="#f57245"/><rect x="992.0" width="3.6" height="108.6" fill="#f7854e"/><rect x="995.1" width="3.6" height="108.6" fill="#f26941"/><rect x="998.1" width="3.6" height="108.6" fill="#e95638"/><rect x="1001.1" width="3.6" height="108.6" fill="#e34832"/><rect x="1004.2" width="3.6" height="108.6" fill="#d83228"/><rect x="1007.2" width="3.6" height="108.6" fill="#f7854e"/><rect x="1010.2" width="3.6" height="108.6" fill="#f67c4a"/><rect x="1013.3" width="3.6" height="108.6" fill="#f57245"/><rect x="1016.3" width="3.6" height="108.6" fill="#ee603d"/><rect x="1019.3" width="3.6" height="108.6" fill="#f99053"/><rect x="1022.4" width="3.6" height="108.6" fill="#f26941"/><rect x="1025.4" width="3.6" height="108.6" fill="#fdb567"/><rect x="1028.4" width="3.6" height="108.6" fill="#fb9f5a"/><rect x="1031.5" width="3.6" height="108.6" fill="#f57245"/><rect x="1034.5" width="3.6" height="108.6" fill="#f26941"/><rect x="1037.6" width="3.6" height="108.6" fill="#f7854e"/><rect x="1040.6" width="3.6" height="108.6" fill="#f67c4a"/><rect x="1043.6" width="3.6" height="108.6" fill="#fdb567"/><rect x="1046.7" width="3.6" height="108.6" fill="#fb9f5a"/><rect x="1049.7" width="3.6" height="108.6" fill="#d83228"/><rect x="1052.7" width="3.6" height="108.6" fill="#e95638"/><rect x="1055.8" width="3.6" height="108.6" fill="#e34832"/><rect x="1058.8" width="3.6" height="108.6" fill="#ee603d"/><rect x="1061.8" width="3.6" height="108.6" fill="#f99053"/><rect x="1064.9" width="3.6" height="108.6" fill="#f57245"/><rect x="1067.9" width="3.6" height="108.6" fill="#f26941"/><rect x="1071.0" width="3.6" height="108.6" fill="#e34832"/><rect x="1074.0" width="3.6" height="108.6" fill="#ee603d"/><rect x="1077.0" width="3.6" height="108.6" fill="#e95638"/><rect x="1080.1" width="3.6" height="108.6" fill="#fb9f5a"/><rect x="1083.1" width="3.6" height="108.6" fill="#f99053"/><rect x="1086.1" width="3.6" height="108.6" fill="#f7854e"/><rect x="1089.2" width="3.6" height="108.6" fill="#f67c4a"/><rect x="1092.2" width="3.6" height="108.6" fill="#d83228"/><rect x="1095.2" width="3.6" height="108.6" fill="#fdb567"/><rect x="1098.3" width="3.6" height="108.6" fill="#fdaa5f"/><rect x="1101.3" width="3.6" height="108.6" fill="#f99254"/><rect x="1104.3" width="3.6" height="108.6" fill="#f7844e"/><rect x="1107.4" width="3.6" height="108.6" fill="#f67949"/><rect x="1110.4" width="3.6" height="108.6" fill="#f46f44"/><rect x="1113.5" width="3.6" height="108.6" fill="#f16740"/><rect x="1116.5" width="3.6" height="108.6" fill="#dd3d2d"/><rect x="1119.5" width="3.6" height="108.6" fill="#cf2927"/><rect x="1122.6" width="3.6" height="108.6" fill="#ed5e3c"/><rect x="1125.6" width="3.6" height="108.6" fill="#e85538"/><rect x="1128.6" width="3.6" height="108.6" fill="#e34a33"/><rect x="1131.7" width="3.6" height="108.6" fill="#e34a33"/><rect x="1134.7" width="3.6" height="108.6" fill="#dd3d2d"/><rect x="1137.7" width="3.6" height="108.6" fill="#cf2927"/><rect x="1140.8" width="3.6" height="108.6" fill="#e85538"/><rect x="1143.8" width="3.6" height="108.6" fill="#f67949"/><rect x="1146.9" width="3.6" height="108.6" fill="#f46f44"/><rect x="1149.9" width="3.6" height="108.6" fill="#f16740"/><rect x="1152.9" width="3.6" height="108.6" fill="#ed5e3c"/><rect x="1156.0" width="3.6" height="108.6" fill="#f7844e"/><rect x="1159.0" width="3.6" height="108.6" fill="#fdaa5f"/><rect x="1162.0" width="3.6" height="108.6" fill="#f99254"/><rect x="1165.1" width="3.6" height="108.6" fill="#f46f44"/><rect x="1168.1" width="3.6" height="108.6" fill="#f16740"/><rect x="1171.1" width="3.6" height="108.6" fill="#ed5e3c"/><rect x="1174.2" width="3.6" height="108.6" fill="#fdaa5f"/><rect x="1177.2" width="3.6" height="108.6" fill="#f99254"/><rect x="1180.2" width="3.6" height="108.6" fill="#f7844e"/><rect x="1183.3" width="3.6" height="108.6" fill="#f67949"/><rect x="1186.3" width="3.6" height="108.6" fill="#cf2927"/><rect x="1189.4" width="3.6" height="108.6" fill="#e85538"/><rect x="1192.4" width="3.6" height="108.6" fill="#e34a33"/><rect x="1195.4" width="3.6" height="108.6" fill="#dd3d2d"/><rect x="1198.5" width="3.6" height="108.6" fill="#f36b42"/><rect x="1201.5" width="3.6" height="108.6" fill="#ee613d"/><rect x="1204.5" width="3.6" height="108.6" fill="#fdab5f"/><rect x="1207.6" width="3.6" height="108.6" fill="#fb9d59"/><rect x="1210.6" width="3.6" height="108.6" fill="#fdbe70"/><rect x="1213.6" width="3.6" height="108.6" fill="#f57547"/><rect x="1216.7" width="3.6" height="108.6" fill="#e85437"/><rect x="1219.7" width="3.6" height="108.6" fill="#dd3d2d"/><rect x="1222.8" width="3.6" height="108.6" fill="#f99154"/><rect x="1225.8" width="3.6" height="108.6" fill="#f8884f"/><rect x="1228.8" width="3.6" height="108.6" fill="#f67e4b"/><rect x="1231.9" width="3.6" height="108.6" fill="#fdbe70"/><rect x="1234.9" width="3.6" height="108.6" fill="#f8884f"/><rect x="1237.9" width="3.6" height="108.6" fill="#f67e4b"/><rect x="1241.0" width="3.6" height="108.6" fill="#f57547"/><rect x="1244.0" width="3.6" height="108.6" fill="#f36b42"/><rect x="1247.0" width="3.6" height="108.6" fill="#ee613d"/><rect x="1250.1" width="3.6" height="108.6" fill="#fdab5f"/><rect x="1253.1" width="3.6" height="108.6" fill="#fb9d59"/><rect x="1256.1" width="3.6" height="108.6" fill="#f99154"/><rect x="1259.2" width="3.6" height="108.6" fill="#e85437"/><rect x="1262.2" width="3.6" height="108.6" fill="#dd3d2d"/><rect x="1265.3" width="3.6" height="108.6" fill="#ee613d"/><rect x="1268.3" width="3.6" height="108.6" fill="#fdbe70"/><rect x="1271.3" width="3.6" height="108.6" fill="#fdab5f"/><rect x="1274.4" width="3.6" height="108.6" fill="#f57547"/><rect x="1277.4" width="3.6" height="108.6" fill="#f36b42"/><rect x="1280.4" width="3.6" height="108.6" fill="#f67e4b"/><rect x="1283.5" width="3.6" height="108.6" fill="#fb9d59"/><rect x="1286.5" width="3.6" height="108.6" fill="#f99154"/><rect x="1289.5" width="3.6" height="108.6" fill="#f8884f"/><rect x="1292.6" width="3.6" height="108.6" fill="#e85437"/><rect x="1295.6" width="3.6" height="108.6" fill="#dd3d2d"/><rect x="1298.7" width="3.6" height="108.6" fill="#f67c4a"/><rect x="1301.7" width="3.6" height="108.6" fill="#e34832"/><rect x="1304.7" width="3.6" height="108.6" fill="#fdb567"/><rect x="1307.8" width="3.6" height="108.6" fill="#fb9f5a"/><rect x="1310.8" width="3.6" height="108.6" fill="#f99053"/><rect x="1313.8" width="3.6" height="108.6" fill="#d83228"/><rect x="1316.9" width="3.6" height="108.6" fill="#f57245"/><rect x="1319.9" width="3.6" height="108.6" fill="#f26941"/><rect x="1322.9" width="3.6" height="108.6" fill="#ee603d"/><rect x="1326.0" width="3.6" height="108.6" fill="#f7854e"/><rect x="1329.0" width="3.6" height="108.6" fill="#e95638"/><rect x="1332.0" width="3.6" height="108.6" fill="#d83228"/><rect x="1335.1" width="3.6" height="108.6" fill="#f26941"/><rect x="1338.1" width="3.6" height="108.6" fill="#ee603d"/><rect x="1341.2" width="3.6" height="108.6" fill="#e95638"/><rect x="1344.2" width="3.6" height="108.6" fill="#e34832"/><rect x="1347.2" width="3.6" height="108.6" fill="#f7854e"/><rect x="1350.3" width="3.6" height="108.6" fill="#f67c4a"/><rect x="1353.3" width="3.6" height="108.6" fill="#f57245"/><rect x="1356.3" width="3.6" height="108.6" fill="#fdb567"/><rect x="1359.4" width="3.6" height="108.6" fill="#fb9f5a"/><rect x="1362.4" width="3.6" height="108.6" fill="#f99053"/><rect x="1365.4" width="3.6" height="108.6" fill="#fdb567"/><rect x="1368.5" width="3.6" height="108.6" fill="#fb9f5a"/><rect x="1371.5" width="3.6" height="108.6" fill="#f99053"/><rect x="1374.6" width="3.6" height="108.6" fill="#f26941"/><rect x="1377.6" width="3.6" height="108.6" fill="#f7854e"/><rect x="1380.6" width="3.6" height="108.6" fill="#f67c4a"/><rect x="1383.7" width="3.6" height="108.6" fill="#f57245"/><rect x="1386.7" width="3.6" height="108.6" fill="#e34832"/><rect x="1389.7" width="3.6" height="108.6" fill="#d83228"/><rect x="1392.8" width="3.6" height="108.6" fill="#ee603d"/><rect x="1395.8" width="3.6" height="108.6" fill="#e95638"/><rect x="1398.8" width="3.6" height="108.6" fill="#f46f44"/><rect x="1401.9" width="3.6" height="108.6" fill="#dd3d2d"/><rect x="1404.9" width="3.6" height="108.6" fill="#cf2927"/><rect x="1407.9" width="3.6" height="108.6" fill="#e34a33"/><rect x="1411.0" width="3.6" height="108.6" fill="#fdaa5f"/><rect x="1414.0" width="3.6" height="108.6" fill="#f99254"/><rect x="1417.1" width="3.6" height="108.6" fill="#f16740"/><rect x="1420.1" width="3.6" height="108.6" fill="#ed5e3c"/><rect x="1423.1" width="3.6" height="108.6" fill="#e85538"/><rect x="1426.2" width="3.6" height="108.6" fill="#f7844e"/><rect x="1429.2" width="3.6" height="108.6" fill="#f67949"/><rect x="1432.2" width="3.6" height="108.6" fill="#f7844e"/><rect x="1435.3" width="3.6" height="108.6" fill="#f67949"/><rect x="1438.3" width="3.6" height="108.6" fill="#cf2927"/><rect x="1441.3" width="3.6" height="108.6" fill="#e85538"/><rect x="1444.4" width="3.6" height="108.6" fill="#e34a33"/><rect x="1447.4" width="3.6" height="108.6" fill="#dd3d2d"/><rect x="1450.5" width="3.6" height="108.6" fill="#fdaa5f"/><rect x="1453.5" width="3.6" height="108.6" fill="#f99254"/><rect x="1456.5" width="3.6" height="108.6" fill="#ed5e3c"/><rect x="1459.6" width="3.6" height="108.6" fill="#f46f44"/><rect x="1462.6" width="3.6" height="108.6" fill="#f16740"/><rect x="1465.6" width="3.6" height="108.6" fill="#fdaa5f"/><rect x="1468.7" width="3.6" height="108.6" fill="#f99254"/><rect x="1471.7" width="3.6" height="108.6" fill="#f7844e"/><rect x="1474.7" width="3.6" height="108.6" fill="#cf2927"/><rect x="1477.8" width="3.6" height="108.6" fill="#f46f44"/><rect x="1480.8" width="3.6" height="108.6" fill="#f16740"/><rect x="1483.8" width="3.6" height="108.6" fill="#ed5e3c"/><rect x="1486.9" width="3.6" height="108.6" fill="#e85538"/><rect x="1489.9" width="3.6" height="108.6" fill="#e34a33"/><rect x="1493.0" width="3.6" height="108.6" fill="#dd3d2d"/><rect x="1496.0" width="3.6" height="108.6" fill="#f67949"/><rect x="1499.0" width="3.6" height="108.6" fill="#f67949"/><rect x="1502.1" width="3.6" height="108.6" fill="#f46f44"/><rect x="1505.1" width="3.6" height="108.6" fill="#e34a33"/><rect x="1508.1" width="3.6" height="108.6" fill="#dd3d2d"/><rect x="1511.2" width="3.6" height="108.6" fill="#f99254"/><rect x="1514.2" width="3.6" height="108.6" fill="#f7844e"/><rect x="1517.2" width="3.6" height="108.6" fill="#f16740"/><rect x="1520.3" width="3.6" height="108.6" fill="#ed5e3c"/><rect x="1523.3" width="3.6" height="108.6" fill="#e85538"/><rect x="1526.4" width="3.6" height="108.6" fill="#fdaa5f"/><rect x="1529.4" width="3.6" height="108.6" fill="#cf2927"/><rect x="1532.4" width="3.6" height="108.6" fill="#e85538"/><rect x="1535.5" width="3.6" height="108.6" fill="#f46f44"/><rect x="1538.5" width="3.6" height="108.6" fill="#f16740"/><rect x="1541.5" width="3.6" height="108.6" fill="#ed5e3c"/><rect x="1544.6" width="3.6" height="108.6" fill="#fdaa5f"/><rect x="1547.6" width="3.6" height="108.6" fill="#f67949"/><rect x="1550.6" width="3.6" height="108.6" fill="#e34a33"/><rect x="1553.7" width="3.6" height="108.6" fill="#dd3d2d"/><rect x="1556.7" width="3.6" height="108.6" fill="#f99254"/><rect x="1559.7" width="3.6" height="108.6" fill="#f7844e"/><rect x="1562.8" width="3.6" height="108.6" fill="#cf2927"/><rect x="1565.8" width="3.6" height="108.6" fill="#fca95f"/><rect x="1568.9" width="3.6" height="108.6" fill="#fb9e59"/><rect x="1571.9" width="3.6" height="108.6" fill="#f99455"/><rect x="1574.9" width="3.6" height="108.6" fill="#fdb567"/><rect x="1578.0" width="3.6" height="108.6" fill="#f88a51"/><rect x="1581.0" width="3.6" height="108.6" fill="#ed5f3d"/><rect x="1584.0" width="3.6" height="108.6" fill="#e34932"/><rect x="1587.1" width="3.6" height="108.6" fill="#fec779"/><rect x="1590.1" width="3.6" height="108.6" fill="#f7814c"/><rect x="1593.1" width="3.6" height="108.6" fill="#f57748"/><rect x="1596.2" width="3.6" height="108.6" fill="#f46c43"/><rect x="1599.2" width="3.6" height="108.6" fill="#f7814c"/><rect x="1602.3" width="3.6" height="108.6" fill="#fec779"/><rect x="1605.3" width="3.6" height="108.6" fill="#fdb567"/><rect x="1608.3" width="3.6" height="108.6" fill="#fca95f"/><rect x="1611.4" width="3.6" height="108.6" fill="#f46c43"/><rect x="1614.4" width="3.6" height="108.6" fill="#f57748"/><rect x="1617.4" width="3.6" height="108.6" fill="#fb9e59"/><rect x="1620.5" width="3.6" height="108.6" fill="#f99455"/><rect x="1623.5" width="3.6" height="108.6" fill="#f88a51"/><rect x="1626.5" width="3.6" height="108.6" fill="#ed5f3d"/><rect x="1629.6" width="3.6" height="108.6" fill="#e34932"/><rect x="1632.6" width="3.6" height="108.6" fill="#fdc274"/><rect x="1635.6" width="3.6" height="108.6" fill="#fdae61"/><rect x="1638.7" width="3.6" height="108.6" fill="#fb9e5a"/><rect x="1641.7" width="3.6" height="108.6" fill="#f99154"/><rect x="1644.8" width="3.6" height="108.6" fill="#f7844e"/><rect x="1647.8" width="3.6" height="108.6" fill="#f57747"/><rect x="1650.8" width="3.6" height="108.6" fill="#f16740"/><rect x="1653.9" width="3.6" height="108.6" fill="#e64f35"/></g><g transform="translate(0,1116.52)"><rect x="897.9" width="3.6" height="108.6" fill="#f98f53"/><rect x="900.9" width="3.6" height="108.6" fill="#f7804c"/><rect x="904.0" width="3.6" height="108.6" fill="#fecf80"/><rect x="907.0" width="3.6" height="108.6" fill="#fdb366"/><rect x="910.0" width="3.6" height="108.6" fill="#fba05a"/><rect x="913.1" width="3.6" height="108.6" fill="#d93429"/><rect x="916.1" width="3.6" height="108.6" fill="#be1827"/><rect x="919.2" width="3.6" height="108.6" fill="#f57245"/><rect x="922.2" width="3.6" height="108.6" fill="#f0653f"/><rect x="925.2" width="3.6" height="108.6" fill="#ea5739"/><rect x="928.3" width="3.6" height="108.6" fill="#e24732"/><rect x="931.3" width="3.6" height="108.6" fill="#ea5739"/><rect x="934.3" width="3.6" height="108.6" fill="#f57245"/><rect x="937.4" width="3.6" height="108.6" fill="#f0653f"/><rect x="940.4" width="3.6" height="108.6" fill="#e24732"/><rect x="943.4" width="3.6" height="108.6" fill="#f7804c"/><rect x="946.5" width="3.6" height="108.6" fill="#fecf80"/><rect x="949.5" width="3.6" height="108.6" fill="#fdb366"/><rect x="952.5" width="3.6" height="108.6" fill="#fba05a"/><rect x="955.6" width="3.6" height="108.6" fill="#f98f53"/><rect x="958.6" width="3.6" height="108.6" fill="#d93429"/><rect x="961.7" width="3.6" height="108.6" fill="#be1827"/><rect x="964.7" width="3.6" height="108.6" fill="#fecf80"/><rect x="967.7" width="3.6" height="108.6" fill="#fdb366"/><rect x="970.8" width="3.6" height="108.6" fill="#e24732"/><rect x="973.8" width="3.6" height="108.6" fill="#d93429"/><rect x="976.8" width="3.6" height="108.6" fill="#be1827"/><rect x="979.9" width="3.6" height="108.6" fill="#f0653f"/><rect x="982.9" width="3.6" height="108.6" fill="#ea5739"/><rect x="985.9" width="3.6" height="108.6" fill="#f7804c"/><rect x="989.0" width="3.6" height="108.6" fill="#f57245"/><rect x="992.0" width="3.6" height="108.6" fill="#fba05a"/><rect x="995.1" width="3.6" height="108.6" fill="#f98f53"/><rect x="998.1" width="3.6" height="108.6" fill="#fecf80"/><rect x="1001.1" width="3.6" height="108.6" fill="#fdb366"/><rect x="1004.2" width="3.6" height="108.6" fill="#fba05a"/><rect x="1007.2" width="3.6" height="108.6" fill="#f7804c"/><rect x="1010.2" width="3.6" height="108.6" fill="#f98f53"/><rect x="1013.3" width="3.6" height="108.6" fill="#be1827"/><rect x="1016.3" width="3.6" height="108.6" fill="#ea5739"/><rect x="1019.3" width="3.6" height="108.6" fill="#e24732"/><rect x="1022.4" width="3.6" height="108.6" fill="#d93429"/><rect x="1025.4" width="3.6" height="108.6" fill="#f0653f"/><rect x="1028.4" width="3.6" height="108.6" fill="#f57245"/><rect x="1031.5" width="3.6" height="108.6" fill="#be1827"/><rect x="1034.5" width="3.6" height="108.6" fill="#f7804c"/><rect x="1037.6" width="3.6" height="108.6" fill="#fba05a"/><rect x="1040.6" width="3.6" height="108.6" fill="#f98f53"/><rect x="1043.6" width="3.6" height="108.6" fill="#d93429"/><rect x="1046.7" width="3.6" height="108.6" fill="#fecf80"/><rect x="1049.7" width="3.6" height="108.6" fill="#f57245"/><rect x="1052.7" width="3.6" height="108.6" fill="#f0653f"/><rect x="1055.8" width="3.6" height="108.6" fill="#ea5739"/><rect x="1058.8" width="3.6" height="108.6" fill="#e24732"/><rect x="1061.8" width="3.6" height="108.6" fill="#fdb366"/><rect x="1064.9" width="3.6" height="108.6" fill="#be1827"/><rect x="1067.9" width="3.6" height="108.6" fill="#f57245"/><rect x="1071.0" width="3.6" height="108.6" fill="#fba05a"/><rect x="1074.0" width="3.6" height="108.6" fill="#fecf80"/><rect x="1077.0" width="3.6" height="108.6" fill="#fdb366"/><rect x="1080.1" width="3.6" height="108.6" fill="#f0653f"/><rect x="1083.1" width="3.6" height="108.6" fill="#ea5739"/><rect x="1086.1" width="3.6" height="108.6" fill="#e24732"/><rect x="1089.2" width="3.6" height="108.6" fill="#d93429"/><rect x="1092.2" width="3.6" height="108.6" fill="#f98f53"/><rect x="1095.2" width="3.6" height="108.6" fill="#f7804c"/><rect x="1098.3" width="3.6" height="108.6" fill="#e44c34"/><rect x="1101.3" width="3.6" height="108.6" fill="#f99355"/><rect x="1104.3" width="3.6" height="108.6" fill="#f7834d"/><rect x="1107.4" width="3.6" height="108.6" fill="#dd3c2d"/><rect x="1110.4" width="3.6" height="108.6" fill="#fdc577"/><rect x="1113.5" width="3.6" height="108.6" fill="#fca95e"/><rect x="1116.5" width="3.6" height="108.6" fill="#f57446"/><rect x="1119.5" width="3.6" height="108.6" fill="#f16740"/><rect x="1122.6" width="3.6" height="108.6" fill="#eb593a"/><rect x="1125.6" width="3.6" height="108.6" fill="#d12a27"/><rect x="1128.6" width="3.6" height="108.6" fill="#b81226"/><rect x="1131.7" width="3.6" height="108.6" fill="#b81226"/><rect x="1134.7" width="3.6" height="108.6" fill="#fdc577"/><rect x="1137.7" width="3.6" height="108.6" fill="#fca95e"/><rect x="1140.8" width="3.6" height="108.6" fill="#f99355"/><rect x="1143.8" width="3.6" height="108.6" fill="#dd3c2d"/><rect x="1146.9" width="3.6" height="108.6" fill="#d12a27"/><rect x="1149.9" width="3.6" height="108.6" fill="#f57446"/><rect x="1152.9" width="3.6" height="108.6" fill="#f16740"/><rect x="1156.0" width="3.6" height="108.6" fill="#eb593a"/><rect x="1159.0" width="3.6" height="108.6" fill="#e44c34"/><rect x="1162.0" width="3.6" height="108.6" fill="#f7834d"/><rect x="1165.1" width="3.6" height="108.6" fill="#dd3c2d"/><rect x="1168.1" width="3.6" height="108.6" fill="#d12a27"/><rect x="1171.1" width="3.6" height="108.6" fill="#b81226"/><rect x="1174.2" width="3.6" height="108.6" fill="#f57446"/><rect x="1177.2" width="3.6" height="108.6" fill="#f7834d"/><rect x="1180.2" width="3.6" height="108.6" fill="#fca95e"/><rect x="1183.3" width="3.6" height="108.6" fill="#f99355"/><rect x="1186.3" width="3.6" height="108.6" fill="#e44c34"/><rect x="1189.4" width="3.6" height="108.6" fill="#f16740"/><rect x="1192.4" width="3.6" height="108.6" fill="#eb593a"/><rect x="1195.4" width="3.6" height="108.6" fill="#fdc577"/><rect x="1198.5" width="3.6" height="108.6" fill="#e85337"/><rect x="1201.5" width="3.6" height="108.6" fill="#de3f2e"/><rect x="1204.5" width="3.6" height="108.6" fill="#f88c51"/><rect x="1207.6" width="3.6" height="108.6" fill="#fa9b58"/><rect x="1210.6" width="3.6" height="108.6" fill="#c82127"/><rect x="1213.6" width="3.6" height="108.6" fill="#f67e4b"/><rect x="1216.7" width="3.6" height="108.6" fill="#fed889"/><rect x="1219.7" width="3.6" height="108.6" fill="#fdbc6f"/><rect x="1222.8" width="3.6" height="108.6" fill="#fdac60"/><rect x="1225.8" width="3.6" height="108.6" fill="#f47045"/><rect x="1228.8" width="3.6" height="108.6" fill="#ef623e"/><rect x="1231.9" width="3.6" height="108.6" fill="#fa9b58"/><rect x="1234.9" width="3.6" height="108.6" fill="#c82127"/><rect x="1237.9" width="3.6" height="108.6" fill="#fed889"/><rect x="1241.0" width="3.6" height="108.6" fill="#fdbc6f"/><rect x="1244.0" width="3.6" height="108.6" fill="#f67e4b"/><rect x="1247.0" width="3.6" height="108.6" fill="#f88c51"/><rect x="1250.1" width="3.6" height="108.6" fill="#fdac60"/><rect x="1253.1" width="3.6" height="108.6" fill="#ef623e"/><rect x="1256.1" width="3.6" height="108.6" fill="#e85337"/><rect x="1259.2" width="3.6" height="108.6" fill="#de3f2e"/><rect x="1262.2" width="3.6" height="108.6" fill="#f47045"/><rect x="1265.3" width="3.6" height="108.6" fill="#fdac60"/><rect x="1268.3" width="3.6" height="108.6" fill="#fa9b58"/><rect x="1271.3" width="3.6" height="108.6" fill="#f88c51"/><rect x="1274.4" width="3.6" height="108.6" fill="#ef623e"/><rect x="1277.4" width="3.6" height="108.6" fill="#e85337"/><rect x="1280.4" width="3.6" height="108.6" fill="#fed889"/><rect x="1283.5" width="3.6" height="108.6" fill="#fdbc6f"/><rect x="1286.5" width="3.6" height="108.6" fill="#de3f2e"/><rect x="1289.5" width="3.6" height="108.6" fill="#c82127"/><rect x="1292.6" width="3.6" height="108.6" fill="#f67e4b"/><rect x="1295.6" width="3.6" height="108.6" fill="#f47045"/><rect x="1298.7" width="3.6" height="108.6" fill="#fed889"/><rect x="1301.7" width="3.6" height="108.6" fill="#fdbc6f"/><rect x="1304.7" width="3.6" height="108.6" fill="#fdac60"/><rect x="1307.8" width="3.6" height="108.6" fill="#de3f2e"/><rect x="1310.8" width="3.6" height="108.6" fill="#c82127"/><rect x="1313.8" width="3.6" height="108.6" fill="#f67e4b"/><rect x="1316.9" width="3.6" height="108.6" fill="#fa9b58"/><rect x="1319.9" width="3.6" height="108.6" fill="#f88c51"/><rect x="1322.9" width="3.6" height="108.6" fill="#ef623e"/><rect x="1326.0" width="3.6" height="108.6" fill="#e85337"/><rect x="1329.0" width="3.6" height="108.6" fill="#f47045"/><rect x="1332.0" width="3.6" height="108.6" fill="#fa9b58"/><rect x="1335.1" width="3.6" height="108.6" fill="#f88c51"/><rect x="1338.1" width="3.6" height="108.6" fill="#fdbc6f"/><rect x="1341.2" width="3.6" height="108.6" fill="#fdac60"/><rect x="1344.2" width="3.6" height="108.6" fill="#f67e4b"/><rect x="1347.2" width="3.6" height="108.6" fill="#f47045"/><rect x="1350.3" width="3.6" height="108.6" fill="#ef623e"/><rect x="1353.3" width="3.6" height="108.6" fill="#e85337"/><rect x="1356.3" width="3.6" height="108.6" fill="#fed889"/><rect x="1359.4" width="3.6" height="108.6" fill="#c82127"/><rect x="1362.4" width="3.6" height="108.6" fill="#de3f2e"/><rect x="1365.4" width="3.6" height="108.6" fill="#f47045"/><rect x="1368.5" width="3.6" height="108.6" fill="#de3f2e"/><rect x="1371.5" width="3.6" height="108.6" fill="#c82127"/><rect x="1374.6" width="3.6" height="108.6" fill="#ef623e"/><rect x="1377.6" width="3.6" height="108.6" fill="#fed889"/><rect x="1380.6" width="3.6" height="108.6" fill="#fdbc6f"/><rect x="1383.7" width="3.6" height="108.6" fill="#fdac60"/><rect x="1386.7" width="3.6" height="108.6" fill="#fa9b58"/><rect x="1389.7" width="3.6" height="108.6" fill="#f88c51"/><rect x="1392.8" width="3.6" height="108.6" fill="#f67e4b"/><rect x="1395.8" width="3.6" height="108.6" fill="#e85337"/><rect x="1398.8" width="3.6" height="108.6" fill="#b81226"/><rect x="1401.9" width="3.6" height="108.6" fill="#df402e"/><rect x="1404.9" width="3.6" height="108.6" fill="#d73127"/><rect x="1407.9" width="3.6" height="108.6" fill="#c72127"/><rect x="1411.0" width="3.6" height="108.6" fill="#fdbc6e"/><rect x="1414.0" width="3.6" height="108.6" fill="#f26841"/><rect x="1417.1" width="3.6" height="108.6" fill="#ec5b3b"/><rect x="1420.1" width="3.6" height="108.6" fill="#fb9c59"/><rect x="1423.1" width="3.6" height="108.6" fill="#e54e35"/><rect x="1426.2" width="3.6" height="108.6" fill="#f8874f"/><rect x="1429.2" width="3.6" height="108.6" fill="#f57747"/><rect x="1432.2" width="3.6" height="108.6" fill="#c72127"/><rect x="1435.3" width="3.6" height="108.6" fill="#b81226"/><rect x="1438.3" width="3.6" height="108.6" fill="#ec5b3b"/><rect x="1441.3" width="3.6" height="108.6" fill="#fdbc6e"/><rect x="1444.4" width="3.6" height="108.6" fill="#f8874f"/><rect x="1447.4" width="3.6" height="108.6" fill="#f57747"/><rect x="1450.5" width="3.6" height="108.6" fill="#f26841"/><rect x="1453.5" width="3.6" height="108.6" fill="#e54e35"/><rect x="1456.5" width="3.6" height="108.6" fill="#df402e"/><rect x="1459.6" width="3.6" height="108.6" fill="#d73127"/><rect x="1462.6" width="3.6" height="108.6" fill="#fb9c59"/><rect x="1465.6" width="3.6" height="108.6" fill="#fb9c59"/><rect x="1468.7" width="3.6" height="108.6" fill="#f8874f"/><rect x="1471.7" width="3.6" height="108.6" fill="#f57747"/><rect x="1474.7" width="3.6" height="108.6" fill="#d73127"/><rect x="1477.8" width="3.6" height="108.6" fill="#c72127"/><rect x="1480.8" width="3.6" height="108.6" fill="#b81226"/><rect x="1483.8" width="3.6" height="108.6" fill="#f26841"/><rect x="1486.9" width="3.6" height="108.6" fill="#ec5b3b"/><rect x="1489.9" width="3.6" height="108.6" fill="#e54e35"/><rect x="1493.0" width="3.6" height="108.6" fill="#fdbc6e"/><rect x="1496.0" width="3.6" height="108.6" fill="#df402e"/><rect x="1499.0" width="3.6" height="108.6" fill="#fdc577"/><rect x="1502.1" width="3.6" height="108.6" fill="#eb593a"/><rect x="1505.1" width="3.6" height="108.6" fill="#e44c34"/><rect x="1508.1" width="3.6" height="108.6" fill="#f16740"/><rect x="1511.2" width="3.6" height="108.6" fill="#f99355"/><rect x="1514.2" width="3.6" height="108.6" fill="#f57446"/><rect x="1517.2" width="3.6" height="108.6" fill="#fca95e"/><rect x="1520.3" width="3.6" height="108.6" fill="#b81226"/><rect x="1523.3" width="3.6" height="108.6" fill="#f7834d"/><rect x="1526.4" width="3.6" height="108.6" fill="#dd3c2d"/><rect x="1529.4" width="3.6" height="108.6" fill="#d12a27"/><rect x="1532.4" width="3.6" height="108.6" fill="#e44c34"/><rect x="1535.5" width="3.6" height="108.6" fill="#f99355"/><rect x="1538.5" width="3.6" height="108.6" fill="#f7834d"/><rect x="1541.5" width="3.6" height="108.6" fill="#f57446"/><rect x="1544.6" width="3.6" height="108.6" fill="#f16740"/><rect x="1547.6" width="3.6" height="108.6" fill="#eb593a"/><rect x="1550.6" width="3.6" height="108.6" fill="#fdc577"/><rect x="1553.7" width="3.6" height="108.6" fill="#fca95e"/><rect x="1556.7" width="3.6" height="108.6" fill="#d12a27"/><rect x="1559.7" width="3.6" height="108.6" fill="#dd3c2d"/><rect x="1562.8" width="3.6" height="108.6" fill="#b81226"/><rect x="1565.8" width="3.6" height="108.6" fill="#f7804c"/><rect x="1568.9" width="3.6" height="108.6" fill="#f57245"/><rect x="1571.9" width="3.6" height="108.6" fill="#ea5739"/><rect x="1574.9" width="3.6" height="108.6" fill="#fdb366"/><rect x="1578.0" width="3.6" height="108.6" fill="#fba05a"/><rect x="1581.0" width="3.6" height="108.6" fill="#fecf80"/><rect x="1584.0" width="3.6" height="108.6" fill="#f98f53"/><rect x="1587.1" width="3.6" height="108.6" fill="#e24732"/><rect x="1590.1" width="3.6" height="108.6" fill="#d93429"/><rect x="1593.1" width="3.6" height="108.6" fill="#be1827"/><rect x="1596.2" width="3.6" height="108.6" fill="#f0653f"/><rect x="1599.2" width="3.6" height="108.6" fill="#be1827"/><rect x="1602.3" width="3.6" height="108.6" fill="#ea5739"/><rect x="1605.3" width="3.6" height="108.6" fill="#e24732"/><rect x="1608.3" width="3.6" height="108.6" fill="#d93429"/><rect x="1611.4" width="3.6" height="108.6" fill="#f98f53"/><rect x="1614.4" width="3.6" height="108.6" fill="#f7804c"/><rect x="1617.4" width="3.6" height="108.6" fill="#f57245"/><rect x="1620.5" width="3.6" height="108.6" fill="#f0653f"/><rect x="1623.5" width="3.6" height="108.6" fill="#fecf80"/><rect x="1626.5" width="3.6" height="108.6" fill="#fdb366"/><rect x="1629.6" width="3.6" height="108.6" fill="#fba05a"/><rect x="1632.6" width="3.6" height="108.6" fill="#f26941"/><rect x="1635.6" width="3.6" height="108.6" fill="#e95639"/><rect x="1638.7" width="3.6" height="108.6" fill="#de402e"/><rect x="1641.7" width="3.6" height="108.6" fill="#c61f27"/><rect x="1644.8" width="3.6" height="108.6" fill="#fec879"/><rect x="1647.8" width="3.6" height="108.6" fill="#fca85e"/><rect x="1650.8" width="3.6" height="108.6" fill="#f99053"/><rect x="1653.9" width="3.6" height="108.6" fill="#f67c4a"/></g><g transform="translate(0,1224.65)"><rect x="897.9" width="3.6" height="108.6" fill="#fee395"/><rect x="900.9" width="3.6" height="108.6" fill="#fed485"/><rect x="904.0" width="3.6" height="108.6" fill="#fdc678"/><rect x="907.0" width="3.6" height="108.6" fill="#f26841"/><rect x="910.0" width="3.6" height="108.6" fill="#e14430"/><rect x="913.1" width="3.6" height="108.6" fill="#fba05b"/><rect x="916.1" width="3.6" height="108.6" fill="#f99053"/><rect x="919.2" width="3.6" height="108.6" fill="#fdba6c"/><rect x="922.2" width="3.6" height="108.6" fill="#fdaf62"/><rect x="925.2" width="3.6" height="108.6" fill="#fff5b1"/><rect x="928.3" width="3.6" height="108.6" fill="#f67e4b"/><rect x="931.3" width="3.6" height="108.6" fill="#fdba6c"/><rect x="934.3" width="3.6" height="108.6" fill="#fdaf62"/><rect x="937.4" width="3.6" height="108.6" fill="#e14430"/><rect x="940.4" width="3.6" height="108.6" fill="#f99053"/><rect x="943.4" width="3.6" height="108.6" fill="#f67e4b"/><rect x="946.5" width="3.6" height="108.6" fill="#f26841"/><rect x="949.5" width="3.6" height="108.6" fill="#fed485"/><rect x="952.5" width="3.6" height="108.6" fill="#fba05b"/><rect x="955.6" width="3.6" height="108.6" fill="#fff5b1"/><rect x="958.6" width="3.6" height="108.6" fill="#fee395"/><rect x="961.7" width="3.6" height="108.6" fill="#fdc678"/><rect x="964.7" width="3.6" height="108.6" fill="#fff5b1"/><rect x="967.7" width="3.6" height="108.6" fill="#e14430"/><rect x="970.8" width="3.6" height="108.6" fill="#fdaf62"/><rect x="973.8" width="3.6" height="108.6" fill="#fba05b"/><rect x="976.8" width="3.6" height="108.6" fill="#fed485"/><rect x="979.9" width="3.6" height="108.6" fill="#fdc678"/><rect x="982.9" width="3.6" height="108.6" fill="#fdba6c"/><rect x="985.9" width="3.6" height="108.6" fill="#fee395"/><rect x="989.0" width="3.6" height="108.6" fill="#f99053"/><rect x="992.0" width="3.6" height="108.6" fill="#f67e4b"/><rect x="995.1" width="3.6" height="108.6" fill="#f26841"/><rect x="998.1" width="3.6" height="108.6" fill="#fee99e"/><rect x="1001.1" width="3.6" height="108.6" fill="#fedd8d"/><rect x="1004.2" width="3.6" height="108.6" fill="#fecf80"/><rect x="1007.2" width="3.6" height="108.6" fill="#fb9c59"/><rect x="1010.2" width="3.6" height="108.6" fill="#e65036"/><rect x="1013.3" width="3.6" height="108.6" fill="#fdb86a"/><rect x="1016.3" width="3.6" height="108.6" fill="#fdac60"/><rect x="1019.3" width="3.6" height="108.6" fill="#fdc375"/><rect x="1022.4" width="3.6" height="108.6" fill="#f88b51"/><rect x="1025.4" width="3.6" height="108.6" fill="#f57446"/><rect x="1028.4" width="3.6" height="108.6" fill="#fffbb9"/><rect x="1031.5" width="3.6" height="108.6" fill="#fb9c59"/><rect x="1034.5" width="3.6" height="108.6" fill="#f88b51"/><rect x="1037.6" width="3.6" height="108.6" fill="#f57446"/><rect x="1040.6" width="3.6" height="108.6" fill="#e65036"/><rect x="1043.6" width="3.6" height="108.6" fill="#fdac60"/><rect x="1046.7" width="3.6" height="108.6" fill="#fff8b5"/><rect x="1049.7" width="3.6" height="108.6" fill="#fee99e"/><rect x="1052.7" width="3.6" height="108.6" fill="#fecf80"/><rect x="1055.8" width="3.6" height="108.6" fill="#fdc375"/><rect x="1058.8" width="3.6" height="108.6" fill="#fdb86a"/><rect x="1061.8" width="3.6" height="108.6" fill="#fedd8d"/><rect x="1064.9" width="3.6" height="108.6" fill="#e65036"/><rect x="1067.9" width="3.6" height="108.6" fill="#fee99e"/><rect x="1071.0" width="3.6" height="108.6" fill="#fffbb9"/><rect x="1074.0" width="3.6" height="108.6" fill="#fdc375"/><rect x="1077.0" width="3.6" height="108.6" fill="#fdb86a"/><rect x="1080.1" width="3.6" height="108.6" fill="#fdac60"/><rect x="1083.1" width="3.6" height="108.6" fill="#fedd8d"/><rect x="1086.1" width="3.6" height="108.6" fill="#fecf80"/><rect x="1089.2" width="3.6" height="108.6" fill="#f57446"/><rect x="1092.2" width="3.6" height="108.6" fill="#fb9c59"/><rect x="1095.2" width="3.6" height="108.6" fill="#f88b51"/><rect x="1098.3" width="3.6" height="108.6" fill="#fdc173"/><rect x="1101.3" width="3.6" height="108.6" fill="#ffffbf"/><rect x="1104.3" width="3.6" height="108.6" fill="#fed989"/><rect x="1107.4" width="3.6" height="108.6" fill="#fecd7e"/><rect x="1110.4" width="3.6" height="108.6" fill="#fa9756"/><rect x="1113.5" width="3.6" height="108.6" fill="#fca85e"/><rect x="1116.5" width="3.6" height="108.6" fill="#f7804c"/><rect x="1119.5" width="3.6" height="108.6" fill="#eb5b3b"/><rect x="1122.6" width="3.6" height="108.6" fill="#feefa6"/><rect x="1125.6" width="3.6" height="108.6" fill="#fdb668"/><rect x="1128.6" width="3.6" height="108.6" fill="#fee496"/><rect x="1131.7" width="3.6" height="108.6" fill="#fca85e"/><rect x="1134.7" width="3.6" height="108.6" fill="#fee496"/><rect x="1137.7" width="3.6" height="108.6" fill="#fdfec3"/><rect x="1140.8" width="3.6" height="108.6" fill="#fed989"/><rect x="1143.8" width="3.6" height="108.6" fill="#fecd7e"/><rect x="1146.9" width="3.6" height="108.6" fill="#fdc173"/><rect x="1149.9" width="3.6" height="108.6" fill="#feefa6"/><rect x="1152.9" width="3.6" height="108.6" fill="#fdb668"/><rect x="1156.0" width="3.6" height="108.6" fill="#fa9756"/><rect x="1159.0" width="3.6" height="108.6" fill="#f7804c"/><rect x="1162.0" width="3.6" height="108.6" fill="#eb5b3b"/><rect x="1165.1" width="3.6" height="108.6" fill="#fca85e"/><rect x="1168.1" width="3.6" height="108.6" fill="#fed989"/><rect x="1171.1" width="3.6" height="108.6" fill="#fffbb9"/><rect x="1174.2" width="3.6" height="108.6" fill="#feefa6"/><rect x="1177.2" width="3.6" height="108.6" fill="#fee496"/><rect x="1180.2" width="3.6" height="108.6" fill="#eb5b3b"/><rect x="1183.3" width="3.6" height="108.6" fill="#f7804c"/><rect x="1186.3" width="3.6" height="108.6" fill="#fa9756"/><rect x="1189.4" width="3.6" height="108.6" fill="#fdb668"/><rect x="1192.4" width="3.6" height="108.6" fill="#fecd7e"/><rect x="1195.4" width="3.6" height="108.6" fill="#fdc173"/><rect x="1198.5" width="3.6" height="108.6" fill="#f26841"/><rect x="1201.5" width="3.6" height="108.6" fill="#e14430"/><rect x="1204.5" width="3.6" height="108.6" fill="#fff5b1"/><rect x="1207.6" width="3.6" height="108.6" fill="#fee395"/><rect x="1210.6" width="3.6" height="108.6" fill="#fed485"/><rect x="1213.6" width="3.6" height="108.6" fill="#fba05b"/><rect x="1216.7" width="3.6" height="108.6" fill="#fdc678"/><rect x="1219.7" width="3.6" height="108.6" fill="#fdba6c"/><rect x="1222.8" width="3.6" height="108.6" fill="#fdaf62"/><rect x="1225.8" width="3.6" height="108.6" fill="#f99053"/><rect x="1228.8" width="3.6" height="108.6" fill="#f67e4b"/><rect x="1231.9" width="3.6" height="108.6" fill="#f99053"/><rect x="1234.9" width="3.6" height="108.6" fill="#f67e4b"/><rect x="1237.9" width="3.6" height="108.6" fill="#fdc678"/><rect x="1241.0" width="3.6" height="108.6" fill="#fdba6c"/><rect x="1244.0" width="3.6" height="108.6" fill="#fff5b1"/><rect x="1247.0" width="3.6" height="108.6" fill="#fee395"/><rect x="1250.1" width="3.6" height="108.6" fill="#fed485"/><rect x="1253.1" width="3.6" height="108.6" fill="#fdaf62"/><rect x="1256.1" width="3.6" height="108.6" fill="#fba05b"/><rect x="1259.2" width="3.6" height="108.6" fill="#f26841"/><rect x="1262.2" width="3.6" height="108.6" fill="#e14430"/><rect x="1265.3" width="3.6" height="108.6" fill="#fba05b"/><rect x="1268.3" width="3.6" height="108.6" fill="#f99053"/><rect x="1271.3" width="3.6" height="108.6" fill="#f67e4b"/><rect x="1274.4" width="3.6" height="108.6" fill="#fff5b1"/><rect x="1277.4" width="3.6" height="108.6" fill="#fed485"/><rect x="1280.4" width="3.6" height="108.6" fill="#fdc678"/><rect x="1283.5" width="3.6" height="108.6" fill="#fdba6c"/><rect x="1286.5" width="3.6" height="108.6" fill="#f26841"/><rect x="1289.5" width="3.6" height="108.6" fill="#e14430"/><rect x="1292.6" width="3.6" height="108.6" fill="#fdaf62"/><rect x="1295.6" width="3.6" height="108.6" fill="#fee395"/><rect x="1298.7" width="3.6" height="108.6" fill="#f26841"/><rect x="1301.7" width="3.6" height="108.6" fill="#fee395"/><rect x="1304.7" width="3.6" height="108.6" fill="#fed485"/><rect x="1307.8" width="3.6" height="108.6" fill="#fff5b1"/><rect x="1310.8" width="3.6" height="108.6" fill="#e14430"/><rect x="1313.8" width="3.6" height="108.6" fill="#fba05b"/><rect x="1316.9" width="3.6" height="108.6" fill="#f99053"/><rect x="1319.9" width="3.6" height="108.6" fill="#f67e4b"/><rect x="1322.9" width="3.6" height="108.6" fill="#fdc678"/><rect x="1326.0" width="3.6" height="108.6" fill="#fdba6c"/><rect x="1329.0" width="3.6" height="108.6" fill="#fdaf62"/><rect x="1332.0" width="3.6" height="108.6" fill="#fed485"/><rect x="1335.1" width="3.6" height="108.6" fill="#fdc678"/><rect x="1338.1" width="3.6" height="108.6" fill="#fdba6c"/><rect x="1341.2" width="3.6" height="108.6" fill="#fee395"/><rect x="1344.2" width="3.6" height="108.6" fill="#f67e4b"/><rect x="1347.2" width="3.6" height="108.6" fill="#f26841"/><rect x="1350.3" width="3.6" height="108.6" fill="#fff5b1"/><rect x="1353.3" width="3.6" height="108.6" fill="#e14430"/><rect x="1356.3" width="3.6" height="108.6" fill="#fdaf62"/><rect x="1359.4" width="3.6" height="108.6" fill="#fba05b"/><rect x="1362.4" width="3.6" height="108.6" fill="#f99053"/><rect x="1365.4" width="3.6" height="108.6" fill="#f99053"/><rect x="1368.5" width="3.6" height="108.6" fill="#f67e4b"/><rect x="1371.5" width="3.6" height="108.6" fill="#fff5b1"/><rect x="1374.6" width="3.6" height="108.6" fill="#f26841"/><rect x="1377.6" width="3.6" height="108.6" fill="#e14430"/><rect x="1380.6" width="3.6" height="108.6" fill="#fdaf62"/><rect x="1383.7" width="3.6" height="108.6" fill="#fba05b"/><rect x="1386.7" width="3.6" height="108.6" fill="#fee395"/><rect x="1389.7" width="3.6" height="108.6" fill="#fed485"/><rect x="1392.8" width="3.6" height="108.6" fill="#fdc678"/><rect x="1395.8" width="3.6" height="108.6" fill="#fdba6c"/><rect x="1398.8" width="3.6" height="108.6" fill="#fdc173"/><rect x="1401.9" width="3.6" height="108.6" fill="#fee496"/><rect x="1404.9" width="3.6" height="108.6" fill="#fed989"/><rect x="1407.9" width="3.6" height="108.6" fill="#f7804c"/><rect x="1411.0" width="3.6" height="108.6" fill="#eb5b3b"/><rect x="1414.0" width="3.6" height="108.6" fill="#fdb668"/><rect x="1417.1" width="3.6" height="108.6" fill="#fca85e"/><rect x="1420.1" width="3.6" height="108.6" fill="#fffebd"/><rect x="1423.1" width="3.6" height="108.6" fill="#fa9756"/><rect x="1426.2" width="3.6" height="108.6" fill="#fecd7e"/><rect x="1429.2" width="3.6" height="108.6" fill="#feefa6"/><rect x="1432.2" width="3.6" height="108.6" fill="#fee496"/><rect x="1435.3" width="3.6" height="108.6" fill="#fed989"/><rect x="1438.3" width="3.6" height="108.6" fill="#eb5b3b"/><rect x="1441.3" width="3.6" height="108.6" fill="#f7804c"/><rect x="1444.4" width="3.6" height="108.6" fill="#fecd7e"/><rect x="1447.4" width="3.6" height="108.6" fill="#fdc173"/><rect x="1450.5" width="3.6" height="108.6" fill="#feffc1"/><rect x="1453.5" width="3.6" height="108.6" fill="#feefa6"/><rect x="1456.5" width="3.6" height="108.6" fill="#fdb668"/><rect x="1459.6" width="3.6" height="108.6" fill="#fca85e"/><rect x="1462.6" width="3.6" height="108.6" fill="#fa9756"/><rect x="1465.6" width="3.6" height="108.6" fill="#fee496"/><rect x="1468.7" width="3.6" height="108.6" fill="#fed989"/><rect x="1471.7" width="3.6" height="108.6" fill="#fffbb9"/><rect x="1474.7" width="3.6" height="108.6" fill="#feefa6"/><rect x="1477.8" width="3.6" height="108.6" fill="#fdc173"/><rect x="1480.8" width="3.6" height="108.6" fill="#fecd7e"/><rect x="1483.8" width="3.6" height="108.6" fill="#fdb668"/><rect x="1486.9" width="3.6" height="108.6" fill="#fca85e"/><rect x="1489.9" width="3.6" height="108.6" fill="#fa9756"/><rect x="1493.0" width="3.6" height="108.6" fill="#f7804c"/><rect x="1496.0" width="3.6" height="108.6" fill="#eb5b3b"/><rect x="1499.0" width="3.6" height="108.6" fill="#fffebe"/><rect x="1502.1" width="3.6" height="108.6" fill="#fca85e"/><rect x="1505.1" width="3.6" height="108.6" fill="#fa9756"/><rect x="1508.1" width="3.6" height="108.6" fill="#fdb668"/><rect x="1511.2" width="3.6" height="108.6" fill="#f7804c"/><rect x="1514.2" width="3.6" height="108.6" fill="#eb5b3b"/><rect x="1517.2" width="3.6" height="108.6" fill="#feefa6"/><rect x="1520.3" width="3.6" height="108.6" fill="#fee496"/><rect x="1523.3" width="3.6" height="108.6" fill="#fed989"/><rect x="1526.4" width="3.6" height="108.6" fill="#fecd7e"/><rect x="1529.4" width="3.6" height="108.6" fill="#fdc173"/><rect x="1532.4" width="3.6" height="108.6" fill="#fa9756"/><rect x="1535.5" width="3.6" height="108.6" fill="#f7804c"/><rect x="1538.5" width="3.6" height="108.6" fill="#eb5b3b"/><rect x="1541.5" width="3.6" height="108.6" fill="#fdb668"/><rect x="1544.6" width="3.6" height="108.6" fill="#fca85e"/><rect x="1547.6" width="3.6" height="108.6" fill="#fdc173"/><rect x="1550.6" width="3.6" height="108.6" fill="#fee496"/><rect x="1553.7" width="3.6" height="108.6" fill="#fed989"/><rect x="1556.7" width="3.6" height="108.6" fill="#fecd7e"/><rect x="1559.7" width="3.6" height="108.6" fill="#fffbb8"/><rect x="1562.8" width="3.6" height="108.6" fill="#feefa6"/><rect x="1565.8" width="3.6" height="108.6" fill="#fff0a8"/><rect x="1568.9" width="3.6" height="108.6" fill="#fdb164"/><rect x="1571.9" width="3.6" height="108.6" fill="#fba35c"/><rect x="1574.9" width="3.6" height="108.6" fill="#f99455"/><rect x="1578.0" width="3.6" height="108.6" fill="#fdbd6f"/><rect x="1581.0" width="3.6" height="108.6" fill="#f57245"/><rect x="1584.0" width="3.6" height="108.6" fill="#ec5d3c"/><rect x="1587.1" width="3.6" height="108.6" fill="#db392b"/><rect x="1590.1" width="3.6" height="108.6" fill="#fedc8c"/><rect x="1593.1" width="3.6" height="108.6" fill="#feca7c"/><rect x="1596.2" width="3.6" height="108.6" fill="#f7844e"/><rect x="1599.2" width="3.6" height="108.6" fill="#fdbd6f"/><rect x="1602.3" width="3.6" height="108.6" fill="#fdb164"/><rect x="1605.3" width="3.6" height="108.6" fill="#fba35c"/><rect x="1608.3" width="3.6" height="108.6" fill="#feca7c"/><rect x="1611.4" width="3.6" height="108.6" fill="#f57245"/><rect x="1614.4" width="3.6" height="108.6" fill="#ec5d3c"/><rect x="1617.4" width="3.6" height="108.6" fill="#f7844e"/><rect x="1620.5" width="3.6" height="108.6" fill="#db392b"/><rect x="1623.5" width="3.6" height="108.6" fill="#f99455"/><rect x="1626.5" width="3.6" height="108.6" fill="#fff0a8"/><rect x="1629.6" width="3.6" height="108.6" fill="#fedc8c"/><rect x="1632.6" width="3.6" height="108.6" fill="#fed182"/><rect x="1635.6" width="3.6" height="108.6" fill="#fdbe70"/><rect x="1638.7" width="3.6" height="108.6" fill="#fa9957"/><rect x="1641.7" width="3.6" height="108.6" fill="#f7834d"/><rect x="1644.8" width="3.6" height="108.6" fill="#f26a41"/><rect x="1647.8" width="3.6" height="108.6" fill="#e0422f"/><rect x="1650.8" width="3.6" height="108.6" fill="#feeba0"/><rect x="1653.9" width="3.6" height="108.6" fill="#fdad60"/></g><rect x="162.1" y="633.1" width="6.9" height="22.6" fill="#5a2590"/><rect x="169" y="633.1" width="41.0" height="22.6" fill="#ec8f27"/><rect x="210" y="633.1" width="353.9" height="22.6" fill="#138a43"/><rect x="563.9" y="633.1" width="57.2" height="22.6" fill="#0a69ae"/><rect x="621.1" y="633.1" width="47.0" height="22.6" fill="#f5d96e"/><rect x="668.1" y="633.1" width="73.1" height="22.6" fill="#b8262c"/><rect x="741.2" y="633.1" width="91.7" height="22.6" fill="#764a20"/><rect x="832.9" y="633.1" width="60.3" height="22.6" fill="#060304"/><rect x="897.9" y="633.1" width="7.1" height="22.6" fill="#5a2590"/><rect x="905" y="633.1" width="64.2" height="22.6" fill="#ec8f27"/><rect x="969.2" y="633.1" width="247.8" height="22.6" fill="#138a43"/><rect x="1217" y="633.1" width="124.9" height="22.6" fill="#0a69ae"/><rect x="1341.9" y="633.1" width="81.9" height="22.6" fill="#f5d96e"/><rect x="1423.8" y="633.1" width="48.2" height="22.6" fill="#b8262c"/><rect x="1472" y="633.1" width="126.0" height="22.6" fill="#764a20"/><rect x="1598" y="633.1" width="58.9" height="22.6" fill="#060304"/></g><defs><linearGradient id="hg" x1="0" x2="0" y1="1" y2="0"><stop offset="0.0" stop-color="#313695"/><stop offset="0.1" stop-color="#4575b4"/><stop offset="0.2" stop-color="#74add1"/><stop offset="0.3" stop-color="#abd9e9"/><stop offset="0.4" stop-color="#e0f3f8"/><stop offset="0.5" stop-color="#ffffbf"/><stop offset="0.6" stop-color="#fee090"/><stop offset="0.7" stop-color="#fdae61"/><stop offset="0.8" stop-color="#f46d43"/><stop offset="0.9" stop-color="#d73027"/><stop offset="1.0" stop-color="#a50026"/></linearGradient></defs><rect x="1756.2" y="632.1" width="19.8" height="292.5" fill="url(#hg)"/><text x="1784.5" y="648.8" font-size="19.5">1.5</text><text x="1784.5" y="694.3" font-size="19.5">1</text><text x="1784.5" y="739.8" font-size="19.5">0.5</text><text x="1784.5" y="785.3" font-size="19.5">0</text><text x="1784.5" y="830.8" font-size="19.5">−0.5</text><text x="1784.5" y="876.3" font-size="19.5">−1</text><text x="1784.5" y="921.8" font-size="19.5">−1.5</text><text x="1696" y="877.3" text-anchor="middle" font-size="52">O</text><text x="1695.6" y="1199" text-anchor="middle" font-size="53">H</text><rect x="1737.1" y="1050.2" width="11.6" height="16.6" fill="#5a2590"/><text x="1769.5" y="1061.8" font-size="21.5">Alkaloids and derivatives</text><rect x="1737.1" y="1073.5" width="11.6" height="16.6" fill="#ec8f27"/><text x="1769.5" y="1085.8" font-size="21.5">Benzenoids</text><rect x="1737.1" y="1096.8" width="11.6" height="16.6" fill="#138a43"/><text x="1769.5" y="1109.8" font-size="21.5">Lipids and lipid−like molecules</text><rect x="1737.1" y="1120.1" width="11.6" height="16.6" fill="#0a69ae"/><text x="1769.5" y="1133.8" font-size="21.5">Other</text><rect x="1737.1" y="1143.4" width="11.6" height="16.6" fill="#f5d96e"/><text x="1769.5" y="1157.8" font-size="21.5">Organic acids and derivatives</text><rect x="1737.1" y="1166.7" width="11.6" height="16.6" fill="#b8262c"/><text x="1769.5" y="1181.8" font-size="21.5">Organic oxygen compounds</text><rect x="1737.1" y="1190.0" width="11.6" height="16.6" fill="#764a20"/><text x="1769.5" y="1205.8" font-size="21.5">Organoheterocyclic compounds</text><rect x="1737.1" y="1213.3" width="11.6" height="17.6" fill="#060304"/><text x="1769.5" y="1229.8" font-size="21.5">Phenylpropanoids and polyketides</text><text x="6.5" y="43.9" font-size="52" font-weight="bold" fill="#231815">A</text><text x="30.6" y="663.9" font-size="51" font-weight="bold" fill="#231815">B</text><text x="821.5" y="43.4" font-size="52" font-weight="bold" fill="#231815">C</text>
</svg></body></html>
